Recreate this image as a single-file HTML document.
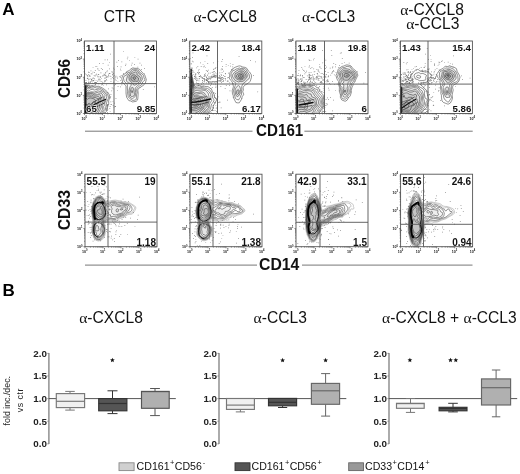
<!DOCTYPE html><html><head><meta charset="utf-8"><style>html,body{margin:0;padding:0;background:#fff;width:520px;height:474px;overflow:hidden}svg{display:block;filter:grayscale(1)}</style></head><body>
<svg width="520" height="474" viewBox="0 0 520 474">
<rect width="520" height="474" fill="#fff"/>
<text x="2.2" y="15" font-family='"Liberation Sans", sans-serif' font-weight="bold" font-size="17" fill="#000">A</text>
<text x="2.6" y="295.8" font-family='"Liberation Sans", sans-serif' font-weight="bold" font-size="17" fill="#000">B</text>
<text x="119.8" y="21.6" text-anchor="middle" font-family='"Liberation Sans", sans-serif' font-size="15.6" fill="#111">CTR</text>
<text x="225.2" y="21.6" text-anchor="middle" font-family='"Liberation Sans", sans-serif' font-size="15.6" fill="#111"><tspan font-family='"Liberation Serif", serif'>α</tspan>-CXCL8</text>
<text x="328.5" y="21.6" text-anchor="middle" font-family='"Liberation Sans", sans-serif' font-size="15.6" fill="#111"><tspan font-family='"Liberation Serif", serif'>α</tspan>-CCL3</text>
<text x="432" y="14.6" text-anchor="middle" font-family='"Liberation Sans", sans-serif' font-size="15.6" fill="#111"><tspan font-family='"Liberation Serif", serif'>α</tspan>-CXCL8</text>
<text x="432.8" y="28.5" text-anchor="middle" font-family='"Liberation Sans", sans-serif' font-size="15.6" fill="#111"><tspan font-family='"Liberation Serif", serif'>α</tspan>-CCL3</text>
<clipPath id="ct0"><rect x="84.5" y="41.0" width="72.0" height="72.5"/></clipPath>
<g clip-path="url(#ct0)" stroke="#111" stroke-width="0.45" stroke-linejoin="round">
<path fill="none" d="M133.5,101.8 132.2,101.9 130.8,101.0 128.8,100.6 126.6,97.2 126.0,93.2 126.0,86.2 125.6,85.5 122.8,82.6 121.8,78.8 121.9,77.8 123.2,74.5 125.2,73.8 126.8,71.6 129.2,70.5 130.8,69.0 132.2,68.1 133.0,67.9 134.8,68.3 137.2,68.3 139.5,69.3 144.8,75.2 146.3,79.5 145.4,83.0 144.0,84.8 138.0,89.0 137.8,90.0 138.2,93.2 137.8,99.0 137.4,100.2 136.2,101.3 133.5,101.8Z M103.8,113.5 85.5,113.7 84.5,113.7 84.3,113.5 84.4,88.8 84.5,87.2 85.6,85.2 86.0,85.2 87.5,86.9 88.2,87.3 95.0,86.1 97.0,86.4 98.8,86.3 102.2,87.9 104.7,89.5 107.2,91.7 108.8,93.8 109.4,95.0 109.6,96.2 109.4,98.5 108.6,101.0 108.7,103.5 107.1,105.5 107.1,107.8 106.2,111.8 105.5,112.5 103.8,113.5Z"/>
<path fill="none" d="M134.0,100.3 132.8,100.4 130.8,99.3 128.0,96.8 128.0,95.0 127.3,93.2 127.7,91.2 127.3,87.0 127.5,85.0 126.8,83.8 124.1,81.2 123.4,78.0 124.2,76.0 126.8,74.9 127.6,72.8 128.0,72.5 130.1,72.2 130.8,71.5 131.5,69.9 133.0,69.2 136.5,69.4 138.8,70.5 139.8,72.5 141.5,73.5 143.5,75.5 144.0,77.8 144.8,79.5 144.5,80.5 142.6,82.0 142.1,84.0 141.6,84.8 139.2,86.2 137.0,88.2 136.6,89.8 137.1,92.8 136.5,94.8 136.3,99.2 135.8,99.9 134.0,100.3Z M102.5,113.5 85.5,113.7 84.5,113.7 84.3,113.5 84.4,89.5 84.5,88.5 85.5,86.9 86.0,86.7 86.5,87.0 87.8,88.8 88.2,89.0 90.2,88.0 93.5,88.0 95.0,87.5 96.8,88.1 99.5,87.8 103.8,90.3 105.5,92.2 107.3,93.5 108.4,96.5 108.3,98.5 106.8,101.8 105.2,110.2 103.8,111.6 102.5,113.5Z"/>
<path fill="none" d="M132.8,98.4 131.2,98.1 129.7,96.8 128.8,93.0 129.4,88.8 130.1,86.8 131.2,85.2 131.2,84.4 130.8,83.7 128.5,83.0 126.5,81.0 126.3,80.0 127.4,76.5 128.7,74.2 130.5,73.2 133.0,70.8 136.0,70.5 137.6,71.2 138.2,72.0 139.0,73.8 140.9,74.8 141.8,76.5 142.5,79.2 139.1,84.5 136.8,86.2 135.3,88.2 135.2,89.0 135.7,92.5 135.3,96.0 134.6,97.2 132.8,98.4Z M101.2,113.5 85.5,113.7 84.5,113.7 84.3,113.5 84.4,92.0 84.5,90.5 85.5,88.5 86.0,88.3 86.2,88.6 87.5,91.0 88.0,91.3 90.8,89.6 92.8,89.4 94.2,90.0 98.2,89.1 99.2,89.1 100.9,90.2 103.8,91.7 106.4,94.5 106.8,96.2 105.9,100.5 104.8,103.0 104.7,105.0 103.6,106.2 104.0,109.5 101.2,113.5Z"/>
<path fill="#000" fill-opacity="0.04" d="M135.0,85.1 134.2,85.2 133.6,85.0 132.3,83.0 130.3,81.2 129.3,79.8 128.9,77.0 129.7,75.2 131.8,73.4 135.8,71.9 136.5,72.2 137.0,72.8 137.1,74.5 137.5,75.2 139.3,76.2 140.7,78.0 140.9,78.8 140.7,79.5 139.2,81.8 137.5,83.6 136.5,84.4 135.0,85.1Z M132.2,96.5 131.2,96.5 130.6,96.0 130.1,92.2 131.2,88.2 131.8,87.5 132.5,87.3 133.0,87.8 133.9,90.0 134.5,94.5 134.0,96.0 132.2,96.5Z M99.5,113.5 85.8,113.7 84.3,113.5 84.3,94.8 84.5,92.1 85.2,91.0 85.8,90.8 87.1,92.2 88.0,92.6 91.2,91.8 94.2,92.1 97.8,90.8 102.5,92.2 105.0,94.8 105.1,95.5 104.6,97.2 104.9,100.5 102.2,105.8 102.5,109.2 101.5,111.2 99.5,113.5Z"/>
<path fill="#000" fill-opacity="0.04" d="M137.0,81.5 135.5,81.1 133.2,81.3 131.5,80.2 130.8,78.8 131.3,76.2 131.8,75.5 133.1,74.8 134.5,74.9 138.4,78.0 138.6,78.8 138.1,80.8 137.7,81.2 137.0,81.5Z M132.2,92.6 132.0,92.7 131.7,92.2 132.0,90.5 132.4,91.0 132.2,92.6Z M97.2,113.5 85.5,113.7 84.3,113.5 84.4,95.2 84.5,93.5 85.2,92.6 85.8,92.5 87.5,93.4 92.0,92.7 94.5,93.5 97.2,92.4 98.8,93.1 101.0,93.0 102.1,94.0 103.3,96.5 103.7,100.2 101.2,105.0 101.2,107.2 100.3,109.5 98.5,112.6 97.2,113.5Z"/>
<path fill="#000" fill-opacity="0.04" d="M135.0,79.4 134.0,79.3 133.1,78.5 132.9,77.8 133.5,77.0 134.5,76.8 135.4,77.5 135.6,78.8 135.0,79.4Z M94.2,113.5 84.4,113.5 84.4,95.8 84.5,94.5 85.2,93.8 86.0,93.7 87.5,94.2 92.0,93.6 94.0,94.8 99.8,94.7 100.5,95.2 100.9,97.0 102.1,99.0 102.0,100.5 99.5,104.5 99.6,107.0 97.6,111.5 94.2,113.5Z"/>
<path fill="#000" fill-opacity="0.04" d="M90.0,113.5 84.4,113.5 84.5,96.0 84.8,95.2 85.5,94.7 87.5,95.3 89.0,95.0 90.5,95.3 91.8,95.0 93.5,96.0 96.8,96.1 99.2,96.9 100.0,97.8 100.5,99.0 100.5,100.0 99.5,101.3 97.4,105.5 97.7,107.8 96.2,110.5 94.2,111.8 92.2,112.3 90.0,113.5Z"/>
<path fill="#000" fill-opacity="0.04" d="M86.0,113.3 85.2,113.3 84.5,112.6 84.4,110.8 84.5,98.0 85.5,96.0 86.2,96.0 87.5,96.8 91.2,96.7 93.8,97.4 95.5,97.5 97.0,98.3 98.8,98.8 99.0,99.5 97.4,103.5 95.5,106.2 95.3,107.5 93.7,109.8 92.5,110.5 90.2,110.8 89.0,111.2 86.0,113.3Z"/>
<path fill="#000" fill-opacity="0.04" d="M86.0,111.6 85.2,111.5 84.5,110.7 84.5,100.5 85.0,98.7 85.8,98.1 87.5,99.2 89.0,98.2 90.8,98.0 94.5,99.0 95.6,100.8 95.7,103.5 95.5,103.8 95.0,103.8 94.1,102.0 93.8,101.8 93.2,101.9 92.0,104.5 91.6,106.8 91.8,108.5 87.5,110.2 86.0,111.6Z"/>
<path fill="#000" fill-opacity="0.04" d="M86.2,109.1 85.3,109.0 84.5,108.0 84.5,106.0 84.9,105.0 85.5,104.3 86.0,104.1 87.2,104.9 88.4,103.5 89.5,103.3 89.7,103.5 88.5,105.3 87.2,105.6 87.7,107.8 86.2,109.1Z"/>
</g><g clip-path="url(#ct0)">
<path fill="#666" d="M88.4,87.2h.7v.7h-.7z M113.3,75.8h.7v.7h-.7z M86.2,82.2h.7v.7h-.7z M90.1,86.9h.7v.7h-.7z M111.1,104.3h.7v.7h-.7z M110.4,96.5h.7v.7h-.7z M101.2,78.4h.7v.7h-.7z M93.7,83.0h.7v.7h-.7z M112.6,100.9h.7v.7h-.7z M109.5,108.0h.7v.7h-.7z M104.4,74.8h.7v.7h-.7z M88.8,72.1h.7v.7h-.7z M107.1,110.1h.7v.7h-.7z M98.7,77.9h.7v.7h-.7z M100.9,68.1h.7v.7h-.7z M84.7,82.3h.7v.7h-.7z M87.5,78.3h.7v.7h-.7z M121.5,84.6h.7v.7h-.7z M92.7,67.4h.7v.7h-.7z M107.0,108.0h.7v.7h-.7z M89.3,85.2h.7v.7h-.7z M84.7,84.6h.7v.7h-.7z M120.8,75.0h.7v.7h-.7z M110.5,101.5h.7v.7h-.7z M103.7,112.5h.7v.7h-.7z M102.1,82.9h.7v.7h-.7z M88.8,87.3h.7v.7h-.7z M110.6,104.2h.7v.7h-.7z M99.1,63.0h.7v.7h-.7z M86.1,82.0h.7v.7h-.7z M106.9,70.6h.7v.7h-.7z M92.1,85.0h.7v.7h-.7z M87.5,84.8h.7v.7h-.7z M86.9,78.1h.7v.7h-.7z M114.1,102.8h.7v.7h-.7z M116.5,61.8h.7v.7h-.7z M105.2,72.0h.7v.7h-.7z M115.0,76.7h.7v.7h-.7z M97.5,68.0h.7v.7h-.7z M107.5,104.4h.7v.7h-.7z M111.5,71.5h.7v.7h-.7z M107.4,105.2h.7v.7h-.7z M107.5,109.4h.7v.7h-.7z M113.4,67.7h.7v.7h-.7z M84.7,74.4h.7v.7h-.7z M93.0,85.7h.7v.7h-.7z M109.7,97.8h.7v.7h-.7z M93.8,84.8h.7v.7h-.7z M99.8,80.8h.7v.7h-.7z M102.7,63.0h.7v.7h-.7z M113.9,68.9h.7v.7h-.7z M122.1,82.4h.7v.7h-.7z M90.5,81.2h.7v.7h-.7z M111.8,87.5h.7v.7h-.7z M107.0,112.0h.7v.7h-.7z M107.1,76.6h.7v.7h-.7z M89.5,75.0h.7v.7h-.7z M94.7,75.9h.7v.7h-.7z M101.5,81.0h.7v.7h-.7z M109.8,110.9h.7v.7h-.7z M88.6,84.0h.7v.7h-.7z M106.0,84.5h.7v.7h-.7z M95.1,84.5h.7v.7h-.7z M115.6,98.2h.7v.7h-.7z M91.7,79.9h.7v.7h-.7z M106.9,104.9h.7v.7h-.7z M112.8,88.5h.7v.7h-.7z M86.8,75.2h.7v.7h-.7z M106.2,108.5h.7v.7h-.7z M107.4,92.2h.7v.7h-.7z M102.3,84.2h.7v.7h-.7z M90.6,70.5h.7v.7h-.7z M107.1,107.8h.7v.7h-.7z M107.9,105.5h.7v.7h-.7z M111.4,90.6h.7v.7h-.7z M87.2,86.3h.7v.7h-.7z M106.8,109.6h.7v.7h-.7z M87.6,85.3h.7v.7h-.7z M89.9,82.0h.7v.7h-.7z M110.6,94.2h.7v.7h-.7z M104.7,59.6h.7v.7h-.7z M85.6,85.6h.7v.7h-.7z M88.1,71.7h.7v.7h-.7z M114.2,84.8h.7v.7h-.7z M108.4,104.2h.7v.7h-.7z M104.7,112.1h.7v.7h-.7z M93.9,78.6h.7v.7h-.7z M86.2,84.6h.7v.7h-.7z M108.0,105.5h.7v.7h-.7z M115.0,76.7h.7v.7h-.7z M87.7,87.4h.7v.7h-.7z M117.6,80.9h.7v.7h-.7z M90.7,85.3h.7v.7h-.7z M85.3,84.4h.7v.7h-.7z M88.8,78.8h.7v.7h-.7z M88.1,87.2h.7v.7h-.7z M107.5,103.9h.7v.7h-.7z M112.8,105.0h.7v.7h-.7z M92.6,71.8h.7v.7h-.7z M108.0,88.5h.7v.7h-.7z M85.2,84.8h.7v.7h-.7z M120.6,69.9h.7v.7h-.7z M110.0,96.8h.7v.7h-.7z M113.6,106.7h.7v.7h-.7z M88.0,87.3h.7v.7h-.7z M104.0,74.5h.7v.7h-.7z M115.3,106.1h.7v.7h-.7z M114.7,106.1h.7v.7h-.7z M115.6,75.8h.7v.7h-.7z M95.1,65.9h.7v.7h-.7z M105.2,75.3h.7v.7h-.7z M91.6,85.3h.7v.7h-.7z M97.6,68.9h.7v.7h-.7z M107.2,105.6h.7v.7h-.7z M85.4,84.3h.7v.7h-.7z M107.5,104.3h.7v.7h-.7z M85.3,81.9h.7v.7h-.7z M96.1,82.2h.7v.7h-.7z M109.8,106.3h.7v.7h-.7z M110.6,81.1h.7v.7h-.7z M90.0,85.8h.7v.7h-.7z M84.8,83.1h.7v.7h-.7z M85.7,82.8h.7v.7h-.7z M86.7,84.4h.7v.7h-.7z M102.2,69.2h.7v.7h-.7z M95.2,74.7h.7v.7h-.7z M88.1,81.8h.7v.7h-.7z M112.4,71.7h.7v.7h-.7z M89.4,85.7h.7v.7h-.7z M96.5,66.0h.7v.7h-.7z M94.2,72.3h.7v.7h-.7z M86.3,84.4h.7v.7h-.7z M109.1,62.4h.7v.7h-.7z M98.5,83.5h.7v.7h-.7z M107.0,106.5h.7v.7h-.7z M86.3,84.9h.7v.7h-.7z M107.8,64.7h.7v.7h-.7z M88.8,86.4h.7v.7h-.7z M107.1,106.8h.7v.7h-.7z M92.7,80.5h.7v.7h-.7z M100.6,72.6h.7v.7h-.7z M88.4,82.8h.7v.7h-.7z M103.6,73.8h.7v.7h-.7z M98.1,74.1h.7v.7h-.7z M86.5,85.8h.7v.7h-.7z M88.4,85.3h.7v.7h-.7z M87.1,85.3h.7v.7h-.7z M107.1,109.4h.7v.7h-.7z M87.4,86.3h.7v.7h-.7z M107.3,105.5h.7v.7h-.7z M89.3,75.8h.7v.7h-.7z M112.5,73.8h.7v.7h-.7z M93.8,75.1h.7v.7h-.7z M102.5,75.5h.7v.7h-.7z M93.8,78.2h.7v.7h-.7z M100.0,77.0h.7v.7h-.7z M97.7,80.5h.7v.7h-.7z M109.7,75.8h.7v.7h-.7z M105.9,75.7h.7v.7h-.7z M106.5,80.4h.7v.7h-.7z M100.5,72.5h.7v.7h-.7z M96.3,73.8h.7v.7h-.7z M108.0,73.7h.7v.7h-.7z M103.7,83.4h.7v.7h-.7z M102.8,75.1h.7v.7h-.7z M90.8,73.5h.7v.7h-.7z M102.5,82.3h.7v.7h-.7z M120.4,80.0h.7v.7h-.7z M94.9,82.1h.7v.7h-.7z M92.5,78.0h.7v.7h-.7z M106.1,76.7h.7v.7h-.7z M93.6,83.1h.7v.7h-.7z M105.4,77.7h.7v.7h-.7z M110.6,76.4h.7v.7h-.7z M90.5,78.6h.7v.7h-.7z M105.0,80.2h.7v.7h-.7z M91.5,80.3h.7v.7h-.7z M104.2,77.8h.7v.7h-.7z M97.0,81.4h.7v.7h-.7z M107.8,76.6h.7v.7h-.7z M105.3,73.5h.7v.7h-.7z M97.6,76.6h.7v.7h-.7z M104.5,80.2h.7v.7h-.7z M113.2,81.7h.7v.7h-.7z M117.7,86.2h.7v.7h-.7z M91.6,81.4h.7v.7h-.7z M98.5,74.4h.7v.7h-.7z M93.1,80.1h.7v.7h-.7z M109.6,73.2h.7v.7h-.7z M107.9,76.6h.7v.7h-.7z M101.0,84.5h.7v.7h-.7z M88.7,81.7h.7v.7h-.7z M98.7,76.5h.7v.7h-.7z M95.7,79.9h.7v.7h-.7z M106.1,79.0h.7v.7h-.7z M91.5,79.0h.7v.7h-.7z M95.7,82.6h.7v.7h-.7z M99.4,79.5h.7v.7h-.7z M115.7,80.2h.7v.7h-.7z M105.7,77.3h.7v.7h-.7z M114.2,74.9h.7v.7h-.7z M108.0,75.3h.7v.7h-.7z M112.0,74.6h.7v.7h-.7z M115.1,84.2h.7v.7h-.7z M95.1,84.1h.7v.7h-.7z M113.0,78.3h.7v.7h-.7z M94.9,70.3h.7v.7h-.7z M88.3,79.6h.7v.7h-.7z M86.0,73.9h.7v.7h-.7z M87.5,76.6h.7v.7h-.7z M89.7,76.1h.7v.7h-.7z M117.0,78.4h.7v.7h-.7z M91.1,79.3h.7v.7h-.7z M87.5,75.5h.7v.7h-.7z M112.2,77.2h.7v.7h-.7z M88.4,74.0h.7v.7h-.7z M84.8,72.9h.7v.7h-.7z M97.5,76.3h.7v.7h-.7z M92.1,82.7h.7v.7h-.7z M104.1,81.5h.7v.7h-.7z M102.5,75.7h.7v.7h-.7z M115.2,78.7h.7v.7h-.7z M92.8,77.6h.7v.7h-.7z M119.5,76.1h.7v.7h-.7z M99.7,79.2h.7v.7h-.7z M116.8,76.8h.7v.7h-.7z M109.0,73.1h.7v.7h-.7z M94.0,82.2h.7v.7h-.7z M104.8,81.1h.7v.7h-.7z M91.7,73.6h.7v.7h-.7z M105.6,75.5h.7v.7h-.7z M95.1,82.2h.7v.7h-.7z M98.4,79.3h.7v.7h-.7z M96.4,82.8h.7v.7h-.7z M119.9,76.4h.7v.7h-.7z M90.3,81.5h.7v.7h-.7z M85.6,80.0h.7v.7h-.7z M113.0,73.3h.7v.7h-.7z M100.4,76.2h.7v.7h-.7z M93.6,80.4h.7v.7h-.7z M123.0,73.0h.7v.7h-.7z M134.5,56.9h.7v.7h-.7z M125.1,65.2h.7v.7h-.7z M117.3,66.2h.7v.7h-.7z M118.2,60.1h.7v.7h-.7z M141.1,69.3h.7v.7h-.7z M121.3,82.3h.7v.7h-.7z M142.9,89.2h.7v.7h-.7z M110.0,53.8h.7v.7h-.7z M102.9,85.4h.7v.7h-.7z M106.5,71.5h.7v.7h-.7z M117.2,90.4h.7v.7h-.7z M119.9,77.0h.7v.7h-.7z M141.3,64.7h.7v.7h-.7z M129.3,59.9h.7v.7h-.7z M120.0,86.6h.7v.7h-.7z M139.6,87.3h.7v.7h-.7z M120.1,68.8h.7v.7h-.7z M144.3,73.5h.7v.7h-.7z M110.7,78.6h.7v.7h-.7z M134.1,64.0h.7v.7h-.7z M125.9,71.8h.7v.7h-.7z M96.7,74.7h.7v.7h-.7z M123.1,51.4h.7v.7h-.7z M144.2,68.2h.7v.7h-.7z M131.8,62.7h.7v.7h-.7z M107.2,59.5h.7v.7h-.7z M109.0,68.6h.7v.7h-.7z M125.6,63.7h.7v.7h-.7z M131.1,64.7h.7v.7h-.7z M139.6,62.7h.7v.7h-.7z M154.0,86.5h.7v.7h-.7z M137.5,66.7h.7v.7h-.7z M126.0,72.2h.7v.7h-.7z M98.7,70.2h.7v.7h-.7z M137.7,58.7h.7v.7h-.7z M121.5,61.6h.7v.7h-.7z M127.5,56.8h.7v.7h-.7z M126.9,58.5h.7v.7h-.7z M120.7,66.5h.7v.7h-.7z"/>
<g transform="translate(84.5,41.0)" fill="none" stroke-linecap="round"><radialGradient id="rg0"><stop offset="0" stop-color="#000" stop-opacity="0.28"/><stop offset="0.6" stop-color="#000" stop-opacity="0.12"/><stop offset="1" stop-color="#000" stop-opacity="0"/></radialGradient><ellipse cx="49.5" cy="37" rx="10" ry="8.5" fill="url(#rg0)" stroke="none"/><ellipse cx="47.5" cy="50" rx="5" ry="7" fill="url(#rg0)" stroke="none" opacity="0.6"/><path d="M1.3,45 L1.3,72" stroke="#000" stroke-width="1.3"/><path d="M1.5,70 Q8,63 21,58.5" stroke="#111" stroke-width="1.3"/><path d="M1.5,67.5 Q8,60.5 18,56" stroke="#333" stroke-width="0.7"/><path d="M2,72 Q10,66 20,62" stroke="#333" stroke-width="0.7"/></g>
</g>
<clipPath id="cb0"><rect x="85.0" y="174.2" width="72.0" height="72.5"/></clipPath>
<g clip-path="url(#cb0)" stroke="#111" stroke-width="0.45" stroke-linejoin="round">
<path fill="none" stroke="#888" d="M98.8,241.0 97.8,240.9 95.8,240.1 93.9,238.4 92.2,232.9 91.8,230.9 92.2,224.2 92.7,221.7 91.5,211.7 91.6,207.7 93.1,201.9 95.7,197.7 98.0,195.9 99.8,195.7 102.6,196.9 105.8,200.5 106.8,201.1 108.8,201.2 113.0,200.3 115.5,200.1 119.5,200.8 122.0,201.7 125.8,201.9 130.0,203.0 134.8,206.0 135.7,207.2 135.8,208.4 134.8,210.7 132.5,213.9 131.2,214.3 129.0,214.4 127.5,214.8 125.5,216.3 122.5,217.8 119.7,218.7 117.4,220.7 116.0,221.4 115.0,221.5 112.8,220.8 110.5,220.8 107.5,221.1 105.5,222.1 105.0,222.8 104.8,223.7 105.4,228.4 105.2,233.2 104.7,235.9 103.3,238.4 102.2,239.6 98.8,241.0Z"/>
<path fill="none" stroke="#888" d="M99.5,240.2 98.2,240.4 97.2,240.2 95.8,239.6 94.7,238.7 93.8,236.9 92.6,233.2 92.3,231.2 92.7,224.7 93.4,221.7 92.6,217.7 91.9,211.4 91.9,207.7 93.5,201.9 95.4,198.7 96.6,197.4 97.8,196.6 98.8,196.2 100.0,196.3 101.5,196.8 102.8,197.7 105.8,201.5 107.0,202.3 109.0,202.3 111.5,201.2 114.2,200.9 119.2,201.6 122.0,202.4 125.2,202.6 129.5,203.8 132.8,205.7 134.3,206.9 134.8,207.6 134.7,208.2 132.0,213.0 129.2,213.3 127.2,213.9 125.0,215.8 122.0,217.2 120.2,217.4 119.2,217.9 116.2,220.5 115.2,220.6 110.5,219.6 107.2,220.2 105.0,221.4 104.4,222.4 104.2,223.4 104.9,228.4 104.6,230.9 104.7,233.2 104.3,235.4 102.1,238.9 101.2,239.6 99.5,240.2Z"/>
<path fill="none" d="M99.0,239.7 96.5,239.3 95.1,238.2 93.1,233.4 92.8,231.2 93.2,225.2 94.0,221.9 93.0,217.4 92.2,211.4 92.3,207.7 93.9,202.2 95.7,199.2 96.7,197.9 97.8,197.2 98.8,196.9 100.2,196.9 101.5,197.3 103.7,199.4 106.0,202.8 107.0,203.6 109.2,203.2 111.5,202.0 115.0,201.7 117.5,202.7 120.0,202.7 128.2,204.3 129.3,204.7 131.1,206.2 131.7,207.2 132.1,209.2 131.4,210.9 130.5,211.8 127.0,212.8 124.8,214.9 119.8,216.7 117.0,218.4 115.8,219.6 115.0,219.7 110.8,218.7 109.0,219.1 107.5,219.1 104.5,220.9 103.5,223.2 104.3,228.7 103.8,230.7 104.0,232.9 103.6,235.4 101.0,238.9 99.0,239.7Z"/>
<path fill="none" d="M99.2,239.0 96.8,238.5 95.5,237.5 93.6,233.4 93.3,230.9 93.5,226.4 94.6,221.7 94.4,219.7 93.5,217.2 92.6,211.4 92.6,207.9 94.1,202.7 96.7,198.7 97.5,197.9 98.5,197.5 100.2,197.5 101.5,197.9 103.8,200.2 106.2,204.3 107.2,205.0 108.0,205.0 109.8,204.2 111.5,202.9 114.8,202.6 117.8,204.1 118.8,204.2 121.0,203.8 122.8,204.3 127.6,204.9 129.0,205.7 129.9,206.7 130.1,207.4 129.0,210.3 126.0,212.2 124.2,214.0 118.8,216.2 115.0,218.5 112.8,218.4 111.0,217.9 109.0,218.0 107.5,217.7 106.5,218.2 104.3,220.2 103.2,221.9 102.9,223.2 103.4,228.4 102.9,230.4 103.3,232.7 102.9,234.7 102.6,235.4 101.2,236.9 100.3,238.4 99.2,239.0Z"/>
<path fill="#000" fill-opacity="0.035" d="M99.0,237.7 97.0,237.3 96.0,236.5 94.4,233.4 93.8,230.4 94.0,226.7 95.3,222.7 95.4,221.7 95.3,220.2 94.1,217.2 92.9,211.4 93.0,207.9 94.3,203.2 97.0,199.2 97.8,198.5 98.8,198.1 100.2,198.1 101.2,198.5 103.5,200.7 105.8,204.7 107.5,206.8 108.8,206.4 111.8,204.3 114.5,203.6 116.4,204.7 118.0,205.2 120.0,205.4 121.8,205.8 123.5,205.6 126.0,205.7 127.5,206.2 127.9,206.9 127.0,210.2 124.8,211.7 123.5,213.2 122.2,213.8 118.0,215.4 116.4,216.4 115.0,216.9 113.0,216.2 112.0,216.7 110.5,216.4 110.2,216.2 110.7,214.9 110.2,214.6 107.2,215.4 106.8,216.7 104.0,219.5 102.3,222.4 102.2,223.4 102.5,225.9 102.0,229.7 102.5,232.2 102.5,233.2 101.8,234.9 99.5,237.5 99.0,237.7Z"/>
<path fill="#000" fill-opacity="0.035" d="M98.8,235.7 97.8,235.9 96.9,235.4 96.3,234.2 96.5,232.7 95.0,231.9 94.4,230.7 94.9,226.2 95.5,224.6 96.7,222.9 96.9,221.7 96.6,220.2 94.8,217.2 93.2,210.4 93.6,207.2 94.8,203.4 97.8,199.5 98.8,198.9 99.8,198.7 100.8,199.1 103.4,201.4 105.9,206.2 106.0,208.7 107.4,211.9 108.9,212.9 108.5,213.4 107.2,213.2 106.2,213.9 105.5,216.7 103.5,218.9 101.6,222.2 101.3,223.4 101.7,225.7 100.7,228.9 100.8,230.7 101.2,232.2 98.8,235.7Z M115.8,215.0 114.8,214.9 113.0,214.1 111.7,212.7 111.5,210.4 112.2,208.9 111.2,207.2 111.2,206.4 111.5,205.9 114.2,204.9 116.2,206.1 118.5,206.6 120.2,206.6 121.8,207.3 124.5,206.8 125.8,207.0 126.1,208.9 125.7,209.9 123.8,210.7 122.7,212.2 121.5,213.1 115.8,215.0Z M109.5,210.0 109.0,209.8 109.0,209.4 109.5,208.9 109.9,208.9 110.1,209.4 109.5,210.0Z"/>
<path fill="#000" fill-opacity="0.035" d="M99.8,221.7 99.0,221.7 98.2,221.3 97.2,219.4 95.8,217.7 93.6,210.4 94.0,207.4 94.8,205.3 96.9,202.7 98.0,200.6 98.8,200.0 99.5,199.8 102.8,201.7 105.0,205.7 105.3,206.7 105.3,209.4 106.0,211.9 104.6,216.7 101.8,220.4 99.8,221.7Z M117.8,212.0 116.7,211.9 116.0,210.9 116.3,209.4 117.2,208.8 118.0,208.9 118.5,209.4 118.3,211.2 117.8,212.0Z M121.5,210.0 120.4,209.9 120.2,209.4 120.4,208.9 121.5,208.7 123.2,208.9 122.7,209.4 121.5,210.0Z M98.2,230.8 96.0,230.9 95.5,230.7 95.2,230.2 95.8,226.7 96.2,225.8 96.8,225.5 97.8,225.8 98.5,226.7 98.5,227.7 99.0,229.4 98.8,230.3 98.2,230.8Z"/>
<path fill="#000" fill-opacity="0.035" d="M99.5,220.3 98.8,220.1 96.2,216.8 94.1,210.4 94.5,207.7 94.9,206.4 97.5,203.9 98.5,201.8 99.2,201.3 100.5,202.2 102.0,202.5 102.8,204.3 104.4,206.2 105.0,212.4 104.3,215.4 103.8,216.7 101.5,219.3 99.5,220.3Z"/>
<path fill="#000" fill-opacity="0.035" d="M101.0,218.3 99.2,218.2 97.0,216.1 96.0,214.4 94.8,210.7 95.0,208.2 95.5,207.0 97.0,205.7 99.5,204.1 100.8,204.5 103.0,206.2 103.6,206.9 103.8,207.9 104.0,212.7 103.7,215.2 102.9,216.7 101.0,218.3Z"/>
<path fill="#000" fill-opacity="0.035" d="M101.2,216.8 100.2,216.7 97.5,214.9 96.4,213.2 95.8,211.2 95.7,209.2 96.1,207.9 97.5,206.6 99.2,205.8 101.8,206.6 102.6,207.9 103.1,211.4 103.0,214.7 102.5,215.8 101.2,216.8Z"/>
<path fill="#000" fill-opacity="0.035" d="M101.8,214.5 101.2,214.7 100.2,214.1 99.1,213.9 97.2,211.4 97.5,209.9 99.2,209.7 99.8,208.9 100.0,207.7 100.2,207.5 100.8,207.7 101.1,209.2 102.1,211.2 102.0,213.9 101.8,214.5Z"/>
</g><g clip-path="url(#cb0)">
<path fill="#666" d="M90.8,210.6h.7v.7h-.7z M90.7,199.7h.7v.7h-.7z M90.6,202.5h.7v.7h-.7z M114.4,223.1h.7v.7h-.7z M104.4,193.5h.7v.7h-.7z M89.8,232.3h.7v.7h-.7z M90.3,210.9h.7v.7h-.7z M93.7,194.5h.7v.7h-.7z M101.5,196.1h.7v.7h-.7z M88.3,220.7h.7v.7h-.7z M88.6,203.9h.7v.7h-.7z M88.2,221.6h.7v.7h-.7z M108.7,223.1h.7v.7h-.7z M91.6,186.1h.7v.7h-.7z M123.1,217.4h.7v.7h-.7z M89.7,209.3h.7v.7h-.7z M106.0,229.0h.7v.7h-.7z M105.0,221.6h.7v.7h-.7z M96.6,190.4h.7v.7h-.7z M109.0,190.1h.7v.7h-.7z M107.3,220.6h.7v.7h-.7z M97.9,190.3h.7v.7h-.7z M107.1,200.3h.7v.7h-.7z M104.6,225.3h.7v.7h-.7z M106.7,201.1h.7v.7h-.7z M102.4,194.0h.7v.7h-.7z M95.7,196.7h.7v.7h-.7z M113.1,222.6h.7v.7h-.7z M86.7,214.9h.7v.7h-.7z M103.8,189.6h.7v.7h-.7z M88.0,221.6h.7v.7h-.7z M106.8,196.4h.7v.7h-.7z M92.0,194.0h.7v.7h-.7z M128.0,201.3h.7v.7h-.7z M125.4,217.0h.7v.7h-.7z M137.8,214.7h.7v.7h-.7z M94.0,239.6h.7v.7h-.7z M93.0,198.6h.7v.7h-.7z M90.9,213.4h.7v.7h-.7z M91.8,226.8h.7v.7h-.7z M91.3,194.6h.7v.7h-.7z M103.1,193.5h.7v.7h-.7z M89.0,214.5h.7v.7h-.7z M88.2,210.4h.7v.7h-.7z M95.1,192.5h.7v.7h-.7z M99.9,192.7h.7v.7h-.7z M130.0,217.7h.7v.7h-.7z M110.7,223.8h.7v.7h-.7z M104.1,237.2h.7v.7h-.7z M108.5,196.7h.7v.7h-.7z M98.1,188.8h.7v.7h-.7z M133.0,212.2h.7v.7h-.7z M105.6,197.9h.7v.7h-.7z M90.0,232.8h.7v.7h-.7z M121.5,226.2h.7v.7h-.7z M101.2,193.9h.7v.7h-.7z M90.8,227.4h.7v.7h-.7z M100.1,195.3h.7v.7h-.7z M124.7,201.4h.7v.7h-.7z M108.7,236.6h.7v.7h-.7z M102.0,193.8h.7v.7h-.7z M87.8,232.3h.7v.7h-.7z M110.7,228.1h.7v.7h-.7z M100.9,191.7h.7v.7h-.7z M92.7,240.7h.7v.7h-.7z M85.5,204.9h.7v.7h-.7z M91.3,206.1h.7v.7h-.7z M90.6,201.8h.7v.7h-.7z M93.7,198.2h.7v.7h-.7z M87.4,201.2h.7v.7h-.7z M115.1,224.1h.7v.7h-.7z M139.2,196.8h.7v.7h-.7z M87.8,223.9h.7v.7h-.7z M92.1,223.4h.7v.7h-.7z M87.7,206.0h.7v.7h-.7z M120.7,200.6h.7v.7h-.7z M97.6,186.0h.7v.7h-.7z M99.6,191.7h.7v.7h-.7z M134.6,225.9h.7v.7h-.7z M85.6,210.3h.7v.7h-.7z M111.0,235.8h.7v.7h-.7z M113.9,238.0h.7v.7h-.7z M119.1,223.5h.7v.7h-.7z M122.7,198.7h.7v.7h-.7z M91.1,231.8h.7v.7h-.7z M118.4,225.8h.7v.7h-.7z M85.9,192.4h.7v.7h-.7z M90.0,237.3h.7v.7h-.7z M89.9,191.9h.7v.7h-.7z M90.7,228.9h.7v.7h-.7z M90.9,235.2h.7v.7h-.7z M121.7,219.0h.7v.7h-.7z M127.3,234.4h.7v.7h-.7z M119.5,225.9h.7v.7h-.7z M106.8,229.5h.7v.7h-.7z M116.3,230.4h.7v.7h-.7z M91.1,231.9h.7v.7h-.7z M112.3,220.8h.7v.7h-.7z M88.7,223.0h.7v.7h-.7z M88.4,215.0h.7v.7h-.7z M91.2,222.9h.7v.7h-.7z M118.9,220.7h.7v.7h-.7z M124.5,225.3h.7v.7h-.7z M100.1,240.6h.7v.7h-.7z M107.4,231.9h.7v.7h-.7z M110.8,237.7h.7v.7h-.7z M106.4,231.0h.7v.7h-.7z M110.2,197.6h.7v.7h-.7z M117.4,220.2h.7v.7h-.7z M115.5,234.0h.7v.7h-.7z M110.0,231.5h.7v.7h-.7z M107.7,236.6h.7v.7h-.7z M115.7,225.6h.7v.7h-.7z M119.1,236.3h.7v.7h-.7z M114.1,241.2h.7v.7h-.7z M126.9,223.0h.7v.7h-.7z M120.5,234.1h.7v.7h-.7z M90.3,216.3h.7v.7h-.7z M107.4,224.3h.7v.7h-.7z M85.6,209.4h.7v.7h-.7z M115.6,231.5h.7v.7h-.7z M105.9,186.6h.7v.7h-.7z M89.1,217.7h.7v.7h-.7z M109.2,231.0h.7v.7h-.7z M103.7,184.9h.7v.7h-.7z M137.3,219.3h.7v.7h-.7z M87.9,223.8h.7v.7h-.7z M112.4,239.6h.7v.7h-.7z M108.7,224.1h.7v.7h-.7z M89.7,227.0h.7v.7h-.7z"/>
<g transform="translate(85.0,174.2)" fill="none" stroke-linecap="round"><path d="M15.5,28.5 C16.7,29.1 18.2,30.6 19.0,32.5 C19.8,34.4 21.0,37.9 20.5,40.0 C20.0,42.1 17.6,44.2 16.0,45.0 C14.4,45.8 12.1,45.5 11.0,44.5 C9.9,43.5 9.6,41.1 9.3,39.0 C9.1,36.9 9.1,33.7 9.5,32.0 C9.9,30.3 11.0,29.6 12.0,29.0 C13.0,28.4 14.3,27.9 15.5,28.5Z" stroke="#000" stroke-width="0.8"/><path d="M18.0,29.5 C18.8,26.8 16.1,28.3 15.0,28.3 C13.9,28.3 12.4,28.7 11.5,29.5 C10.6,30.3 9.9,31.4 9.5,33.0 C9.1,34.6 9.0,37.1 9.2,39.0 C9.4,40.9 9.0,46.1 10.5,44.5" stroke="#000" stroke-width="1.7"/><path d="M13.5,48.5 C14.8,48.8 17.0,49.6 18.0,51.0 C19.0,52.4 20.1,55.1 19.5,57.0 C18.9,58.9 16.1,61.9 14.5,62.5 C12.9,63.1 10.9,61.9 10.0,60.5 C9.1,59.1 8.7,55.8 8.8,54.0 C8.9,52.2 9.7,50.4 10.5,49.5 C11.3,48.6 12.2,48.2 13.5,48.5Z" stroke="#222" stroke-width="0.6"/><path d="M10.5,49.5 C9.8,48.1 9.0,52.2 8.8,54.0 C8.6,55.8 8.8,58.6 9.5,60.0 C10.2,61.4 12.8,64.2 13.0,62.5" stroke="#111" stroke-width="1.0"/></g>
</g>
<clipPath id="ct1"><rect x="189.8" y="41.0" width="72.0" height="72.5"/></clipPath>
<g clip-path="url(#ct1)" stroke="#111" stroke-width="0.45" stroke-linejoin="round">
<path fill="none" d="M239.3,102.8 237.8,102.9 235.9,102.5 233.4,97.5 233.3,95.8 232.5,93.8 232.2,90.8 233.4,86.8 233.0,84.0 231.8,81.2 230.2,79.8 229.2,77.8 229.7,76.0 229.7,73.8 230.1,72.4 232.6,68.8 235.1,67.3 238.3,66.1 239.6,65.9 241.1,66.2 242.6,67.0 245.3,67.4 247.1,68.6 248.2,70.8 249.6,72.0 251.2,74.5 251.5,76.0 251.4,77.5 250.3,81.1 248.3,83.2 245.3,84.8 243.3,86.9 243.1,87.8 243.4,89.8 242.7,91.8 243.6,93.8 243.6,94.8 242.3,96.5 241.4,99.5 239.3,102.8Z M206.8,113.5 190.6,113.7 189.6,113.5 189.7,78.2 189.8,76.2 191.1,72.9 191.7,73.5 193.6,83.9 194.3,85.9 195.3,86.2 199.6,85.4 202.1,86.5 204.6,86.2 206.1,86.6 207.6,86.5 208.3,86.8 211.5,89.2 212.5,91.8 214.5,95.0 214.4,97.5 216.5,99.5 216.5,100.2 213.2,106.0 213.1,107.0 213.5,108.2 213.4,108.8 210.7,111.2 206.8,113.5Z M212.8,81.8 211.6,81.9 208.8,81.7 207.0,80.8 206.6,80.2 206.6,79.5 207.3,78.5 208.1,78.1 210.1,78.4 211.6,77.8 212.8,76.9 215.1,77.1 216.6,76.8 220.6,78.7 222.1,77.4 223.2,77.8 223.9,78.5 223.4,79.0 221.6,79.6 220.6,81.0 219.3,80.6 216.1,81.6 212.8,81.8Z"/>
<path fill="none" d="M238.6,100.0 236.3,99.2 235.5,98.5 234.1,93.8 233.5,90.5 235.8,83.8 235.8,83.0 235.4,82.5 233.6,81.5 231.9,79.2 231.0,76.2 231.1,73.8 232.6,70.7 234.3,70.3 236.1,69.0 237.3,68.8 239.3,67.9 240.8,68.7 243.6,68.3 244.8,68.7 245.8,69.2 246.4,70.0 247.3,72.2 249.0,74.2 249.6,76.8 249.3,78.0 248.8,78.9 247.6,79.6 245.6,81.8 243.2,83.5 242.5,84.5 241.6,87.0 241.9,89.2 241.3,91.8 241.7,94.2 240.9,95.5 240.3,97.5 239.4,98.5 238.6,100.0Z M204.1,113.5 190.3,113.7 189.6,113.5 189.6,82.2 189.8,78.1 190.3,76.5 190.8,75.9 191.3,76.0 192.1,77.5 193.6,86.0 194.2,87.5 195.3,87.8 197.3,87.3 200.1,87.1 202.3,87.7 207.6,88.4 210.6,90.8 212.6,94.8 212.5,97.5 213.8,99.5 213.9,100.5 213.1,102.5 211.5,104.0 210.5,109.0 208.8,111.1 204.1,113.5Z"/>
<path fill="none" d="M238.6,82.0 235.1,80.5 232.6,76.8 232.4,75.8 232.6,74.8 234.3,72.5 236.1,71.1 238.6,69.7 239.3,69.6 241.3,70.0 243.6,69.6 245.2,71.0 247.1,74.5 247.3,75.5 247.1,77.0 243.7,81.0 241.8,81.6 240.1,81.4 238.6,82.0Z M203.1,113.5 190.3,113.7 189.6,113.5 189.7,82.8 190.0,79.2 190.8,77.5 191.3,77.5 191.8,78.5 192.9,83.5 193.3,87.1 193.8,88.5 194.6,88.8 197.1,88.9 200.6,88.6 206.1,89.5 209.4,92.0 210.9,94.8 210.9,98.5 211.7,100.8 210.6,102.0 209.5,104.2 209.1,108.5 208.1,109.8 205.1,111.7 203.1,113.5Z M237.6,96.6 236.8,96.4 235.5,94.2 235.0,90.0 235.6,88.5 237.1,86.3 238.3,85.5 239.6,86.2 240.7,89.8 240.1,91.5 240.0,93.8 238.7,95.8 237.6,96.6Z"/>
<path fill="#000" fill-opacity="0.04" d="M239.6,80.0 238.3,79.8 236.3,78.7 235.3,77.8 234.8,76.2 235.1,74.0 235.7,73.2 237.3,72.8 239.1,71.2 243.3,71.2 244.0,71.8 244.8,73.5 245.9,75.0 245.9,76.5 242.8,79.6 241.6,79.9 239.6,80.0Z M202.3,113.5 190.6,113.7 189.6,113.5 189.7,83.0 190.6,79.8 191.1,79.1 191.6,79.7 192.2,81.8 193.1,88.2 193.8,89.9 195.6,90.5 201.8,90.0 205.3,90.5 207.5,92.5 208.2,93.5 208.9,96.0 209.4,99.8 209.1,102.0 208.1,104.5 208.3,107.8 207.8,108.6 204.6,111.0 202.3,113.5Z M237.6,94.5 237.1,94.4 236.6,93.8 236.7,91.0 237.3,90.0 238.3,89.8 238.9,90.0 239.1,90.5 238.8,93.0 238.4,94.0 237.6,94.5Z"/>
<path fill="#000" fill-opacity="0.04" d="M242.1,78.8 240.1,78.9 237.6,78.0 236.3,76.9 236.3,75.7 237.3,74.6 239.1,73.5 241.1,72.8 242.6,72.9 243.7,74.5 244.1,76.0 243.1,77.9 242.1,78.8Z M200.8,113.5 190.6,113.7 189.6,113.5 189.6,94.5 189.9,83.8 190.3,82.2 191.1,81.3 191.6,81.7 192.1,83.0 192.8,89.4 193.8,91.5 195.1,92.2 197.1,92.6 201.1,91.8 202.6,92.1 204.6,93.2 205.1,94.5 207.2,96.5 207.9,98.0 207.8,102.0 207.1,104.2 207.1,106.8 205.3,108.2 204.2,110.0 201.9,112.0 200.8,113.5Z"/>
<path fill="#000" fill-opacity="0.04" d="M241.6,77.8 240.6,77.9 239.5,77.5 238.4,76.5 238.4,75.8 239.2,75.0 240.6,74.4 242.1,74.5 242.6,75.2 242.7,76.0 242.4,77.0 241.6,77.8Z M199.1,113.5 189.7,113.5 189.7,90.8 190.5,83.5 191.1,82.8 191.7,84.0 192.3,89.8 193.6,92.9 195.1,93.8 196.6,94.1 200.8,93.2 201.8,93.4 205.3,96.5 206.3,98.0 206.6,102.0 205.7,105.5 204.1,107.3 203.1,109.2 201.1,110.7 199.1,113.5Z"/>
<path fill="#000" fill-opacity="0.04" d="M241.1,76.3 240.5,76.2 240.7,75.8 241.2,76.0 241.1,76.3Z M194.8,113.5 192.8,113.2 192.3,113.5 189.7,113.5 189.7,93.8 189.8,91.0 190.8,88.4 193.1,94.0 194.1,95.1 195.7,95.8 198.3,95.8 200.1,96.5 202.3,96.6 204.3,97.7 204.8,98.8 205.3,102.0 205.0,103.8 204.5,105.0 203.1,106.9 202.3,108.5 200.4,109.8 199.3,111.1 194.8,113.5Z"/>
<path fill="#000" fill-opacity="0.04" d="M191.3,111.1 190.6,111.2 189.8,110.8 189.6,108.0 189.8,93.8 190.3,91.8 190.8,91.2 191.6,91.9 193.1,95.6 194.1,96.6 195.3,97.0 197.8,97.1 201.4,98.0 202.4,98.5 203.0,99.5 203.1,102.5 202.8,104.8 201.1,108.1 198.1,109.5 196.3,110.8 192.8,110.7 191.3,111.1Z"/>
<path fill="#000" fill-opacity="0.04" d="M191.3,109.5 190.6,109.7 189.8,109.5 189.7,107.5 189.8,94.8 190.8,93.2 191.6,93.7 192.6,97.2 193.3,98.2 194.8,99.1 196.8,98.5 199.8,98.8 200.6,99.5 201.3,101.8 200.8,103.2 200.3,106.2 199.8,107.1 196.1,108.7 191.3,109.5Z"/>
<path fill="#000" fill-opacity="0.04" d="M190.8,108.3 189.8,107.8 189.7,102.2 189.8,98.4 190.8,96.9 192.3,99.2 193.3,100.1 194.8,100.6 196.6,99.9 198.1,100.1 199.0,100.5 199.3,101.2 198.7,104.8 197.8,106.2 196.1,107.2 193.3,107.2 190.8,108.3Z"/>
<path fill="#000" fill-opacity="0.04" d="M196.1,105.8 194.8,105.8 192.6,104.3 191.9,104.5 191.3,105.2 191.1,105.1 189.8,102.5 190.0,100.5 190.6,99.6 191.3,99.8 193.1,102.2 194.3,102.7 196.3,102.7 197.0,103.0 197.3,103.8 197.2,104.5 196.8,105.2 196.1,105.8Z"/>
</g><g clip-path="url(#ct1)">
<path fill="#666" d="M217.9,102.0h.7v.7h-.7z M204.1,80.1h.7v.7h-.7z M208.6,76.4h.7v.7h-.7z M217.7,96.6h.7v.7h-.7z M223.2,81.0h.7v.7h-.7z M227.1,80.5h.7v.7h-.7z M220.8,69.5h.7v.7h-.7z M195.6,73.7h.7v.7h-.7z M225.1,73.0h.7v.7h-.7z M191.1,63.6h.7v.7h-.7z M199.1,72.3h.7v.7h-.7z M207.3,80.6h.7v.7h-.7z M213.3,107.1h.7v.7h-.7z M191.8,72.2h.7v.7h-.7z M201.4,84.1h.7v.7h-.7z M213.0,69.3h.7v.7h-.7z M213.7,94.9h.7v.7h-.7z M207.1,75.1h.7v.7h-.7z M205.5,79.3h.7v.7h-.7z M217.0,111.0h.7v.7h-.7z M215.5,105.4h.7v.7h-.7z M216.4,111.3h.7v.7h-.7z M190.6,70.5h.7v.7h-.7z M213.9,96.8h.7v.7h-.7z M204.0,76.0h.7v.7h-.7z M215.1,97.2h.7v.7h-.7z M190.4,70.8h.7v.7h-.7z M191.9,60.7h.7v.7h-.7z M214.3,102.1h.7v.7h-.7z M217.5,60.9h.7v.7h-.7z M212.8,105.4h.7v.7h-.7z M203.7,78.9h.7v.7h-.7z M227.0,99.7h.7v.7h-.7z M210.7,88.2h.7v.7h-.7z M220.7,76.9h.7v.7h-.7z M222.1,69.1h.7v.7h-.7z M212.7,76.3h.7v.7h-.7z M204.3,74.1h.7v.7h-.7z M213.4,74.7h.7v.7h-.7z M190.8,67.5h.7v.7h-.7z M205.9,70.0h.7v.7h-.7z M211.8,72.1h.7v.7h-.7z M202.9,66.5h.7v.7h-.7z M210.6,112.6h.7v.7h-.7z M227.9,80.8h.7v.7h-.7z M219.5,80.9h.7v.7h-.7z M212.2,108.8h.7v.7h-.7z M190.4,73.2h.7v.7h-.7z M216.7,107.6h.7v.7h-.7z M191.9,70.4h.7v.7h-.7z M212.7,110.0h.7v.7h-.7z M225.0,76.4h.7v.7h-.7z M213.6,71.3h.7v.7h-.7z M233.5,97.3h.7v.7h-.7z M220.5,80.7h.7v.7h-.7z M213.5,83.8h.7v.7h-.7z M224.8,88.0h.7v.7h-.7z M222.2,66.3h.7v.7h-.7z M195.0,86.5h.7v.7h-.7z M215.2,102.4h.7v.7h-.7z M203.7,81.2h.7v.7h-.7z M192.2,67.8h.7v.7h-.7z M213.5,92.7h.7v.7h-.7z M216.0,99.4h.7v.7h-.7z M211.7,110.1h.7v.7h-.7z M192.6,70.6h.7v.7h-.7z M211.9,87.3h.7v.7h-.7z M196.8,83.1h.7v.7h-.7z M241.5,98.1h.7v.7h-.7z M193.7,85.5h.7v.7h-.7z M191.5,70.1h.7v.7h-.7z M202.7,85.2h.7v.7h-.7z M215.3,102.6h.7v.7h-.7z M196.4,67.6h.7v.7h-.7z M208.0,82.3h.7v.7h-.7z M213.5,92.0h.7v.7h-.7z M190.3,69.4h.7v.7h-.7z M191.8,74.9h.7v.7h-.7z M190.1,57.9h.7v.7h-.7z M210.4,76.4h.7v.7h-.7z M212.8,105.1h.7v.7h-.7z M193.1,73.9h.7v.7h-.7z M191.6,69.2h.7v.7h-.7z M221.3,82.2h.7v.7h-.7z M190.7,63.6h.7v.7h-.7z M194.1,84.8h.7v.7h-.7z M193.0,81.8h.7v.7h-.7z M214.4,81.9h.7v.7h-.7z M213.6,73.6h.7v.7h-.7z M215.2,93.0h.7v.7h-.7z M206.0,76.4h.7v.7h-.7z M216.0,98.1h.7v.7h-.7z M207.0,71.3h.7v.7h-.7z M194.8,86.5h.7v.7h-.7z M198.7,69.1h.7v.7h-.7z M206.3,82.6h.7v.7h-.7z M212.2,76.7h.7v.7h-.7z M193.9,84.4h.7v.7h-.7z M210.9,112.5h.7v.7h-.7z M198.1,73.3h.7v.7h-.7z M219.7,101.8h.7v.7h-.7z M232.7,83.1h.7v.7h-.7z M221.7,72.2h.7v.7h-.7z M214.3,71.4h.7v.7h-.7z M201.4,83.5h.7v.7h-.7z M207.9,81.0h.7v.7h-.7z M220.3,78.7h.7v.7h-.7z M190.6,73.1h.7v.7h-.7z M208.3,83.6h.7v.7h-.7z M197.6,83.4h.7v.7h-.7z M220.9,77.8h.7v.7h-.7z M220.8,107.5h.7v.7h-.7z M215.5,87.0h.7v.7h-.7z M219.1,101.8h.7v.7h-.7z M192.6,52.6h.7v.7h-.7z M200.6,86.1h.7v.7h-.7z M216.9,112.6h.7v.7h-.7z M212.5,81.0h.7v.7h-.7z M224.9,73.6h.7v.7h-.7z M197.4,79.8h.7v.7h-.7z M192.2,57.3h.7v.7h-.7z M212.1,107.6h.7v.7h-.7z M196.2,82.6h.7v.7h-.7z M207.4,63.0h.7v.7h-.7z M206.6,79.9h.7v.7h-.7z M225.9,85.1h.7v.7h-.7z M192.8,61.5h.7v.7h-.7z M203.0,83.2h.7v.7h-.7z M211.6,109.8h.7v.7h-.7z M201.5,77.5h.7v.7h-.7z M202.0,78.3h.7v.7h-.7z M209.2,112.6h.7v.7h-.7z M202.7,64.4h.7v.7h-.7z M232.0,83.6h.7v.7h-.7z M220.5,86.3h.7v.7h-.7z M215.8,107.7h.7v.7h-.7z M214.5,75.8h.7v.7h-.7z M190.5,73.5h.7v.7h-.7z M191.8,75.1h.7v.7h-.7z M197.5,66.3h.7v.7h-.7z M192.5,79.6h.7v.7h-.7z M212.2,110.0h.7v.7h-.7z M197.9,85.3h.7v.7h-.7z M198.8,72.0h.7v.7h-.7z M207.9,69.8h.7v.7h-.7z M219.5,72.5h.7v.7h-.7z M229.9,62.9h.7v.7h-.7z M215.4,110.4h.7v.7h-.7z M213.8,110.4h.7v.7h-.7z M192.6,71.4h.7v.7h-.7z M213.3,76.1h.7v.7h-.7z M214.3,76.0h.7v.7h-.7z M198.1,70.5h.7v.7h-.7z M208.4,82.3h.7v.7h-.7z M209.8,72.9h.7v.7h-.7z M198.8,76.1h.7v.7h-.7z M196.5,78.6h.7v.7h-.7z M225.0,78.2h.7v.7h-.7z M206.6,78.6h.7v.7h-.7z M203.9,78.3h.7v.7h-.7z M195.6,76.5h.7v.7h-.7z M199.2,75.9h.7v.7h-.7z M202.3,77.0h.7v.7h-.7z M206.9,70.8h.7v.7h-.7z M193.8,78.2h.7v.7h-.7z M206.2,80.3h.7v.7h-.7z M204.0,79.7h.7v.7h-.7z M202.2,82.3h.7v.7h-.7z M217.8,78.4h.7v.7h-.7z M200.1,75.0h.7v.7h-.7z M226.9,81.1h.7v.7h-.7z M216.4,75.1h.7v.7h-.7z M204.3,78.6h.7v.7h-.7z M215.2,76.8h.7v.7h-.7z M198.6,73.8h.7v.7h-.7z M200.8,66.3h.7v.7h-.7z M213.7,74.7h.7v.7h-.7z M219.6,78.2h.7v.7h-.7z M203.1,78.1h.7v.7h-.7z M207.5,73.9h.7v.7h-.7z M223.1,75.1h.7v.7h-.7z M196.7,77.9h.7v.7h-.7z M196.5,79.9h.7v.7h-.7z M209.8,72.8h.7v.7h-.7z M196.2,80.5h.7v.7h-.7z M197.7,72.4h.7v.7h-.7z M211.6,82.5h.7v.7h-.7z M195.5,77.2h.7v.7h-.7z M191.5,74.8h.7v.7h-.7z M206.7,78.4h.7v.7h-.7z M200.5,76.4h.7v.7h-.7z M227.3,77.5h.7v.7h-.7z M195.0,77.9h.7v.7h-.7z M228.2,77.2h.7v.7h-.7z M215.4,84.1h.7v.7h-.7z M208.3,72.8h.7v.7h-.7z M221.0,75.2h.7v.7h-.7z M208.7,76.2h.7v.7h-.7z M195.4,72.9h.7v.7h-.7z M206.7,79.6h.7v.7h-.7z M202.0,80.5h.7v.7h-.7z M198.6,80.6h.7v.7h-.7z M224.1,76.1h.7v.7h-.7z M214.9,72.5h.7v.7h-.7z M211.0,75.7h.7v.7h-.7z M211.1,76.8h.7v.7h-.7z M198.3,83.0h.7v.7h-.7z M195.6,76.7h.7v.7h-.7z M214.5,74.8h.7v.7h-.7z M209.6,77.4h.7v.7h-.7z M204.9,67.4h.7v.7h-.7z M211.0,83.2h.7v.7h-.7z M204.3,78.7h.7v.7h-.7z M211.1,83.7h.7v.7h-.7z M194.8,75.1h.7v.7h-.7z M212.8,71.8h.7v.7h-.7z M205.5,76.4h.7v.7h-.7z M219.2,76.5h.7v.7h-.7z M205.0,73.6h.7v.7h-.7z M223.1,80.0h.7v.7h-.7z M198.8,78.5h.7v.7h-.7z M199.3,76.3h.7v.7h-.7z M204.1,81.6h.7v.7h-.7z M219.3,75.0h.7v.7h-.7z M220.8,74.1h.7v.7h-.7z M204.1,78.9h.7v.7h-.7z M206.1,77.4h.7v.7h-.7z M219.3,76.7h.7v.7h-.7z M224.9,79.8h.7v.7h-.7z M194.0,76.3h.7v.7h-.7z M205.9,79.9h.7v.7h-.7z M225.2,78.5h.7v.7h-.7z M215.8,81.8h.7v.7h-.7z M220.3,76.6h.7v.7h-.7z M202.1,80.0h.7v.7h-.7z M195.4,79.3h.7v.7h-.7z M193.6,72.2h.7v.7h-.7z M204.9,75.2h.7v.7h-.7z M194.6,77.8h.7v.7h-.7z M195.5,76.4h.7v.7h-.7z M203.7,78.4h.7v.7h-.7z M197.1,72.2h.7v.7h-.7z M194.6,76.3h.7v.7h-.7z M207.8,78.9h.7v.7h-.7z M208.5,78.8h.7v.7h-.7z M205.7,79.8h.7v.7h-.7z M215.1,82.9h.7v.7h-.7z M203.4,75.9h.7v.7h-.7z M209.7,82.2h.7v.7h-.7z M198.9,78.0h.7v.7h-.7z M209.6,83.2h.7v.7h-.7z M198.5,84.8h.7v.7h-.7z M191.3,72.8h.7v.7h-.7z M215.3,75.3h.7v.7h-.7z M210.3,85.0h.7v.7h-.7z M194.9,74.2h.7v.7h-.7z M201.0,76.6h.7v.7h-.7z M206.1,77.0h.7v.7h-.7z M210.3,78.8h.7v.7h-.7z M200.0,76.5h.7v.7h-.7z M232.5,68.7h.7v.7h-.7z M204.3,75.2h.7v.7h-.7z M215.1,68.1h.7v.7h-.7z M229.6,90.6h.7v.7h-.7z M213.8,68.6h.7v.7h-.7z M229.2,85.2h.7v.7h-.7z M253.1,75.1h.7v.7h-.7z M217.3,78.1h.7v.7h-.7z M221.9,81.1h.7v.7h-.7z M216.8,67.3h.7v.7h-.7z M200.3,62.6h.7v.7h-.7z M214.1,75.7h.7v.7h-.7z M210.7,76.6h.7v.7h-.7z M232.6,64.2h.7v.7h-.7z M225.7,66.4h.7v.7h-.7z M225.8,64.1h.7v.7h-.7z M212.5,74.5h.7v.7h-.7z M255.3,61.5h.7v.7h-.7z M222.1,59.2h.7v.7h-.7z M215.3,67.4h.7v.7h-.7z M216.6,73.5h.7v.7h-.7z M204.1,65.8h.7v.7h-.7z M228.0,72.7h.7v.7h-.7z M250.1,60.2h.7v.7h-.7z M229.4,82.5h.7v.7h-.7z M230.0,65.7h.7v.7h-.7z M213.1,62.6h.7v.7h-.7z M223.2,70.8h.7v.7h-.7z M232.4,66.5h.7v.7h-.7z M227.9,65.4h.7v.7h-.7z M238.7,56.1h.7v.7h-.7z M206.6,55.6h.7v.7h-.7z M257.4,91.5h.7v.7h-.7z M241.5,66.8h.7v.7h-.7z M231.1,69.0h.7v.7h-.7z M221.5,61.2h.7v.7h-.7z M219.4,77.0h.7v.7h-.7z M215.6,85.7h.7v.7h-.7z M221.6,68.2h.7v.7h-.7z M204.6,60.9h.7v.7h-.7z"/>
<g transform="translate(189.8,41.0)" fill="none" stroke-linecap="round"><radialGradient id="rg1"><stop offset="0" stop-color="#000" stop-opacity="0.28"/><stop offset="0.6" stop-color="#000" stop-opacity="0.12"/><stop offset="1" stop-color="#000" stop-opacity="0"/></radialGradient><ellipse cx="51" cy="35" rx="10" ry="8.5" fill="url(#rg1)" stroke="none"/><ellipse cx="48" cy="51" rx="5" ry="7" fill="url(#rg1)" stroke="none" opacity="0.6"/><path d="M1.3,28 L1.3,72" stroke="#000" stroke-width="1.2"/><path d="M1.5,61.3 Q10,61 20.8,58" stroke="#111" stroke-width="1.3"/><path d="M1.5,64 Q10,64.5 19,61" stroke="#333" stroke-width="0.8"/><path d="M1.5,58.5 Q9,57.5 17,55.5" stroke="#444" stroke-width="0.6"/></g>
</g>
<clipPath id="cb1"><rect x="190.0" y="174.2" width="72.0" height="72.5"/></clipPath>
<g clip-path="url(#cb1)" stroke="#111" stroke-width="0.45" stroke-linejoin="round">
<path fill="none" stroke="#888" d="M204.5,240.7 203.2,240.7 201.5,240.1 198.8,237.9 197.2,235.7 196.5,233.2 197.8,225.3 197.9,221.4 196.2,216.4 195.7,211.9 196.2,207.2 197.0,204.9 197.4,202.7 198.5,199.9 200.0,198.4 202.0,197.3 204.2,197.1 208.0,198.4 210.2,200.2 211.5,200.7 212.8,200.7 214.8,199.9 218.0,199.8 219.5,200.1 221.5,201.2 225.8,201.7 227.8,202.7 230.5,202.4 232.5,202.6 234.8,203.8 240.7,205.7 242.5,207.7 244.4,209.2 244.9,210.4 244.7,211.4 241.8,213.9 237.1,215.2 235.0,216.5 232.6,215.9 231.5,216.1 230.9,216.4 230.2,217.7 227.8,218.2 224.8,220.2 219.0,221.0 215.8,220.9 211.2,220.0 210.5,220.3 209.8,221.2 209.7,222.2 210.2,224.4 211.9,228.2 212.1,229.2 211.9,231.7 211.1,235.2 209.6,237.9 208.8,238.9 207.0,240.0 204.5,240.7Z"/>
<path fill="none" stroke="#888" d="M205.2,240.0 203.8,240.1 201.5,239.4 198.2,236.6 197.3,234.4 197.2,232.2 197.8,229.2 198.4,221.7 196.5,216.4 196.0,211.9 196.5,207.2 197.4,204.9 197.9,202.4 198.8,200.3 200.2,198.9 202.2,197.9 204.8,197.7 207.8,198.8 210.2,200.9 211.8,201.6 215.5,201.2 218.0,200.4 219.0,200.7 220.8,201.9 225.2,202.2 227.8,203.3 230.0,203.1 232.5,203.3 234.7,204.4 240.0,206.1 240.7,206.7 241.5,208.5 243.8,209.8 244.0,210.7 243.8,211.4 241.5,213.2 236.8,214.3 235.0,215.1 232.5,214.6 231.0,215.0 229.8,215.5 228.6,216.7 224.5,219.4 221.0,219.7 219.2,219.2 216.0,220.0 211.8,218.9 210.5,219.4 209.3,220.7 209.0,221.7 209.6,224.4 211.6,228.9 211.5,230.9 210.8,234.4 208.8,238.4 207.8,239.1 205.2,240.0Z"/>
<path fill="none" d="M204.8,239.5 203.5,239.5 201.8,238.8 198.7,236.2 197.9,234.7 197.9,231.4 198.4,229.2 198.9,221.9 198.7,220.7 196.8,216.2 196.4,211.9 196.9,207.2 197.8,204.9 198.6,201.7 199.3,200.4 200.8,199.2 201.8,198.6 203.5,198.3 206.0,198.5 208.0,199.5 211.2,202.4 212.8,203.1 214.0,203.0 218.0,201.8 220.0,202.5 223.5,203.2 225.0,203.3 227.2,203.8 229.8,203.8 232.8,204.4 236.2,205.9 239.2,206.6 239.8,207.2 241.0,209.4 242.9,210.4 242.8,211.2 242.0,211.9 238.0,213.2 234.8,213.7 233.0,213.1 232.2,213.2 229.0,214.9 224.0,218.7 219.0,218.1 217.2,218.8 216.2,218.9 214.8,218.7 212.2,217.9 210.8,218.4 208.7,220.4 208.3,221.4 209.0,224.4 211.1,228.9 211.1,230.4 210.3,234.2 209.1,237.2 208.3,238.2 207.2,238.8 204.8,239.5Z"/>
<path fill="none" d="M205.0,238.7 203.8,238.9 202.5,238.4 199.0,235.4 198.7,234.7 198.6,231.4 199.4,225.4 199.5,221.9 198.2,218.2 197.2,216.2 196.8,212.2 197.3,207.2 198.3,204.9 199.2,201.7 200.1,200.4 202.0,199.1 205.2,198.8 207.8,199.8 210.0,202.2 213.8,205.2 215.3,204.9 218.5,203.2 221.0,203.2 223.5,204.3 229.8,204.4 232.8,205.7 234.5,206.1 236.0,207.1 238.0,207.1 239.0,207.8 240.2,210.4 240.1,210.9 239.6,211.4 238.0,211.9 236.2,210.5 234.8,210.6 233.2,211.7 229.1,213.4 226.7,215.7 224.8,216.6 223.5,217.5 220.2,217.1 218.2,216.1 216.5,217.5 214.8,217.6 212.5,216.9 210.8,217.5 207.8,220.4 207.5,221.2 208.5,224.5 210.5,228.9 209.9,233.7 208.7,236.7 208.0,237.7 207.2,238.2 205.0,238.7Z"/>
<path fill="#000" fill-opacity="0.035" d="M204.8,238.0 203.8,238.2 203.0,237.9 199.7,234.4 199.4,231.4 199.6,227.7 200.2,225.7 200.0,223.9 200.1,221.9 198.7,217.9 197.6,215.9 197.3,213.7 197.6,207.4 199.7,202.2 201.2,200.2 202.2,199.6 204.5,199.2 205.8,199.4 207.2,200.0 211.3,204.4 211.3,206.9 211.8,207.7 212.5,208.2 215.0,207.0 219.0,204.2 220.5,203.8 221.5,204.0 222.8,205.4 223.5,205.8 228.2,205.0 229.8,205.1 231.0,205.8 232.5,207.5 234.2,207.2 235.3,207.9 235.7,208.4 235.5,208.9 234.8,209.2 233.2,209.3 232.2,210.7 231.2,211.4 228.1,212.4 227.2,213.2 226.2,214.8 225.5,215.4 222.2,216.2 221.0,215.9 219.5,214.9 218.5,214.6 217.2,214.9 215.2,216.1 212.8,215.8 210.4,216.7 209.0,218.5 206.9,220.2 206.6,220.9 209.4,227.9 209.3,233.4 207.2,237.2 204.8,238.0Z"/>
<path fill="#000" fill-opacity="0.035" d="M205.5,237.0 203.5,236.8 200.7,233.7 200.2,228.9 201.2,225.9 200.7,223.9 200.9,221.2 199.3,217.7 198.1,215.9 197.7,213.2 198.2,209.9 198.1,207.7 200.1,202.7 202.0,200.4 204.5,199.8 206.0,200.0 207.0,200.5 208.5,202.5 210.0,203.9 210.5,204.9 210.5,206.9 211.0,208.2 212.2,209.7 214.1,210.9 214.8,212.9 215.8,213.7 215.5,214.4 215.0,214.8 212.8,214.4 210.5,215.5 208.6,217.9 206.0,220.4 206.0,221.4 208.4,227.7 208.6,232.9 208.2,234.2 207.0,236.0 206.2,236.7 205.5,237.0Z M222.8,214.5 221.0,214.6 218.0,212.5 217.0,213.3 216.0,213.2 215.9,211.9 215.1,210.9 215.1,210.2 215.7,209.4 217.2,208.4 217.4,207.2 217.9,206.4 219.8,204.9 220.8,204.8 221.2,205.7 220.9,206.7 218.2,208.4 218.8,208.9 220.5,208.4 222.0,209.4 225.2,207.7 226.7,206.4 229.2,206.2 230.1,206.4 230.4,208.7 229.4,210.2 227.2,211.3 225.5,211.4 225.1,211.9 224.8,213.7 222.8,214.5Z"/>
<path fill="#000" fill-opacity="0.035" d="M205.8,235.5 202.8,234.2 202.0,233.4 202.0,231.7 201.6,229.4 202.1,225.9 201.7,223.9 202.5,221.4 201.7,219.7 198.8,215.7 198.2,213.2 199.0,209.7 199.1,206.7 200.6,203.2 202.2,201.1 204.2,200.5 205.8,200.7 206.8,201.1 209.3,204.2 210.2,208.2 212.5,211.7 212.3,212.4 211.6,213.4 209.8,215.1 208.1,217.4 205.8,219.7 205.0,220.9 205.0,221.7 206.3,224.4 207.4,227.9 207.5,230.2 207.0,231.9 207.5,233.7 207.0,234.6 205.8,235.5Z"/>
<path fill="#000" fill-opacity="0.035" d="M204.2,220.1 203.2,220.0 201.1,217.7 199.2,214.9 198.7,213.2 198.9,211.9 200.4,208.2 200.1,206.4 200.3,205.7 202.0,202.6 203.0,201.8 204.0,201.6 206.5,202.1 208.0,203.7 208.6,204.7 210.0,208.9 211.2,210.7 211.5,211.7 211.0,212.9 209.5,214.4 207.8,216.8 204.2,220.1Z M205.5,228.0 204.0,227.5 203.4,226.9 203.2,224.9 203.8,224.2 204.2,224.6 205.8,226.9 205.9,227.7 205.5,228.0Z"/>
<path fill="#000" fill-opacity="0.035" d="M204.5,218.1 203.5,218.1 202.0,217.2 199.9,214.7 199.6,213.2 200.0,211.4 201.5,208.4 201.5,205.9 202.0,204.6 203.2,203.6 206.0,203.1 206.8,203.4 207.4,204.2 210.6,211.7 210.3,212.7 207.5,216.1 204.5,218.1Z"/>
<path fill="#000" fill-opacity="0.035" d="M206.2,216.0 204.8,216.1 202.0,215.3 201.0,214.7 200.8,213.9 203.1,207.9 203.2,205.9 203.5,205.6 206.0,204.6 206.5,205.0 208.4,208.2 209.6,211.7 209.2,212.9 207.2,215.4 206.2,216.0Z"/>
<path fill="#000" fill-opacity="0.035" d="M206.2,215.0 205.5,215.1 204.4,214.7 203.8,214.2 203.5,213.4 204.2,211.7 204.0,209.9 204.2,209.2 205.0,208.7 207.0,208.6 207.5,208.8 207.9,209.4 208.5,212.2 208.2,212.9 206.2,215.0Z"/>
</g><g clip-path="url(#cb1)">
<path fill="#666" d="M199.5,245.2h.7v.7h-.7z M208.3,194.8h.7v.7h-.7z M194.6,231.6h.7v.7h-.7z M196.7,228.7h.7v.7h-.7z M195.5,239.4h.7v.7h-.7z M192.2,214.6h.7v.7h-.7z M197.5,200.2h.7v.7h-.7z M197.6,199.1h.7v.7h-.7z M196.9,244.9h.7v.7h-.7z M193.0,238.0h.7v.7h-.7z M194.6,210.1h.7v.7h-.7z M238.0,203.6h.7v.7h-.7z M191.9,211.5h.7v.7h-.7z M210.4,198.9h.7v.7h-.7z M228.5,200.6h.7v.7h-.7z M191.6,215.7h.7v.7h-.7z M209.8,192.9h.7v.7h-.7z M216.3,222.9h.7v.7h-.7z M195.6,241.3h.7v.7h-.7z M210.7,199.1h.7v.7h-.7z M228.5,219.5h.7v.7h-.7z M234.3,201.3h.7v.7h-.7z M196.3,225.3h.7v.7h-.7z M213.0,237.2h.7v.7h-.7z M203.2,191.8h.7v.7h-.7z M220.2,224.0h.7v.7h-.7z M195.6,201.8h.7v.7h-.7z M196.0,194.0h.7v.7h-.7z M197.0,222.7h.7v.7h-.7z M235.3,219.0h.7v.7h-.7z M202.9,195.8h.7v.7h-.7z M202.4,193.8h.7v.7h-.7z M209.4,238.9h.7v.7h-.7z M192.3,233.3h.7v.7h-.7z M202.9,194.6h.7v.7h-.7z M195.7,225.9h.7v.7h-.7z M226.6,219.7h.7v.7h-.7z M191.6,207.0h.7v.7h-.7z M228.7,198.1h.7v.7h-.7z M201.0,240.9h.7v.7h-.7z M215.9,193.9h.7v.7h-.7z M208.6,189.8h.7v.7h-.7z M196.7,202.2h.7v.7h-.7z M220.4,225.2h.7v.7h-.7z M211.8,240.4h.7v.7h-.7z M207.6,195.3h.7v.7h-.7z M205.1,180.2h.7v.7h-.7z M209.3,237.8h.7v.7h-.7z M211.6,190.4h.7v.7h-.7z M195.6,226.2h.7v.7h-.7z M228.8,194.6h.7v.7h-.7z M193.3,216.1h.7v.7h-.7z M218.0,221.2h.7v.7h-.7z M210.9,235.8h.7v.7h-.7z M202.0,191.8h.7v.7h-.7z M194.2,218.1h.7v.7h-.7z M216.7,199.2h.7v.7h-.7z M228.9,197.5h.7v.7h-.7z M193.8,213.3h.7v.7h-.7z M194.8,242.5h.7v.7h-.7z M194.9,210.5h.7v.7h-.7z M197.1,204.0h.7v.7h-.7z M194.9,202.2h.7v.7h-.7z M196.9,201.7h.7v.7h-.7z M200.9,179.9h.7v.7h-.7z M230.6,216.7h.7v.7h-.7z M196.1,217.3h.7v.7h-.7z M205.8,192.4h.7v.7h-.7z M220.3,227.7h.7v.7h-.7z M253.2,213.8h.7v.7h-.7z M209.4,197.5h.7v.7h-.7z M211.0,200.2h.7v.7h-.7z M215.6,225.4h.7v.7h-.7z M212.8,222.5h.7v.7h-.7z M222.2,220.4h.7v.7h-.7z M197.2,228.0h.7v.7h-.7z M211.3,226.8h.7v.7h-.7z M210.4,221.0h.7v.7h-.7z M204.0,193.0h.7v.7h-.7z M221.6,200.1h.7v.7h-.7z M205.4,242.4h.7v.7h-.7z M209.8,197.3h.7v.7h-.7z M230.3,230.5h.7v.7h-.7z M197.1,222.1h.7v.7h-.7z M211.9,221.9h.7v.7h-.7z M210.2,242.4h.7v.7h-.7z M237.3,228.3h.7v.7h-.7z M237.6,224.4h.7v.7h-.7z M220.5,223.7h.7v.7h-.7z M191.3,222.5h.7v.7h-.7z M225.6,226.2h.7v.7h-.7z M233.0,217.1h.7v.7h-.7z M215.7,231.6h.7v.7h-.7z M190.8,219.3h.7v.7h-.7z M194.7,228.6h.7v.7h-.7z M197.9,200.7h.7v.7h-.7z M228.6,225.0h.7v.7h-.7z M219.0,193.2h.7v.7h-.7z M220.2,241.6h.7v.7h-.7z M213.7,228.0h.7v.7h-.7z M216.8,220.4h.7v.7h-.7z M214.2,189.2h.7v.7h-.7z M195.1,236.1h.7v.7h-.7z M222.8,224.8h.7v.7h-.7z M194.9,221.6h.7v.7h-.7z M241.1,226.8h.7v.7h-.7z M207.3,194.9h.7v.7h-.7z M223.6,227.3h.7v.7h-.7z M218.5,233.0h.7v.7h-.7z M201.4,196.4h.7v.7h-.7z M229.5,232.0h.7v.7h-.7z M221.0,232.7h.7v.7h-.7z M222.6,234.9h.7v.7h-.7z M238.3,238.3h.7v.7h-.7z M221.3,183.7h.7v.7h-.7z M228.2,227.5h.7v.7h-.7z M211.6,234.5h.7v.7h-.7z M218.8,243.3h.7v.7h-.7z M206.1,193.1h.7v.7h-.7z M215.3,232.3h.7v.7h-.7z M228.8,223.8h.7v.7h-.7z M214.7,231.0h.7v.7h-.7z M232.7,220.9h.7v.7h-.7z M195.1,217.3h.7v.7h-.7z M237.0,226.0h.7v.7h-.7z M235.9,230.9h.7v.7h-.7z M236.1,242.8h.7v.7h-.7z M221.4,238.4h.7v.7h-.7z M194.1,235.2h.7v.7h-.7z M215.8,225.3h.7v.7h-.7z"/>
<g transform="translate(190.0,174.2)" fill="none" stroke-linecap="round"><path d="M14.0,26.5 C15.6,26.5 17.8,27.8 19.0,29.5 C20.2,31.2 20.9,34.6 21.0,37.0 C21.1,39.4 20.7,42.3 19.5,44.0 C18.3,45.7 15.7,46.9 14.0,47.0 C12.3,47.1 10.4,46.2 9.5,44.5 C8.6,42.8 8.3,39.5 8.3,37.0 C8.3,34.5 8.6,31.2 9.5,29.5 C10.4,27.8 12.4,26.5 14.0,26.5Z" stroke="#000" stroke-width="0.8"/><path d="M17.0,27.3 C17.5,24.5 13.8,26.5 12.5,27.0 C11.2,27.5 10.0,28.8 9.3,30.5 C8.6,32.2 8.3,34.8 8.3,37.0 C8.3,39.2 8.1,45.6 9.5,44.0" stroke="#000" stroke-width="1.7"/><path d="M14.0,49.5 C15.4,49.8 18.1,50.4 19.0,52.0 C19.9,53.6 20.2,57.0 19.5,59.0 C18.8,61.0 16.2,63.6 14.5,64.0 C12.8,64.4 10.4,63.0 9.5,61.5 C8.6,60.0 8.6,56.8 8.8,55.0 C9.0,53.2 9.6,51.4 10.5,50.5 C11.4,49.6 12.6,49.2 14.0,49.5Z" stroke="#222" stroke-width="0.6"/><path d="M10.5,50.5 C9.6,49.0 9.0,53.2 8.8,55.0 C8.6,56.8 8.6,60.0 9.5,61.5 C10.4,63.0 13.8,65.8 14.0,64.0" stroke="#111" stroke-width="1.0"/></g>
</g>
<clipPath id="ct2"><rect x="296.0" y="41.0" width="72.0" height="72.5"/></clipPath>
<g clip-path="url(#ct2)" stroke="#111" stroke-width="0.45" stroke-linejoin="round">
<path fill="none" d="M345.2,101.3 341.8,100.0 340.3,97.2 340.5,95.0 339.3,91.2 339.4,87.2 338.4,83.8 338.7,81.5 337.5,80.0 336.6,78.0 336.0,75.5 337.5,72.3 338.0,69.8 338.8,68.6 342.0,66.4 343.9,66.0 346.0,65.0 347.2,64.9 350.2,65.5 351.0,66.0 352.2,67.9 356.2,71.2 357.9,75.2 354.5,82.2 353.1,83.8 353.0,85.2 352.1,87.0 351.2,90.2 351.4,92.2 350.2,96.0 348.5,97.7 347.1,100.2 345.2,101.3Z M318.8,113.5 297.2,113.7 296.0,113.7 295.8,113.5 296.0,85.3 297.2,82.9 297.8,83.1 298.6,85.2 299.8,86.1 302.5,85.4 304.8,85.6 307.0,84.7 309.5,85.5 312.0,85.8 314.5,85.5 315.2,85.9 316.5,87.4 318.2,88.0 318.8,88.5 320.1,91.5 323.0,94.8 323.8,100.0 323.7,105.0 322.7,106.8 322.4,108.8 320.4,111.0 318.8,113.5Z"/>
<path fill="none" d="M345.8,99.1 343.0,98.9 342.4,98.5 341.8,97.5 340.3,87.2 339.3,84.2 340.0,81.2 338.8,78.7 337.6,77.2 337.5,76.5 339.3,70.5 339.9,69.5 342.2,67.8 344.8,67.4 347.0,66.3 349.5,66.8 350.2,67.2 352.9,70.5 355.0,71.8 356.6,75.2 353.4,81.5 351.7,83.2 351.5,85.0 350.6,86.8 350.6,88.5 350.1,90.2 350.4,92.0 350.2,92.8 348.0,95.8 346.8,98.2 345.8,99.1Z M317.2,113.5 297.5,113.7 296.0,113.7 295.8,113.5 295.9,89.0 296.0,87.8 297.0,86.3 297.5,86.3 298.9,87.2 299.8,87.4 302.8,86.5 305.0,86.4 307.2,85.8 311.8,86.9 315.5,89.0 317.5,89.6 318.4,92.5 321.3,95.5 322.1,97.2 322.6,99.8 322.7,102.5 322.6,104.5 321.7,106.5 321.2,108.5 319.5,109.7 318.6,111.8 317.2,113.5Z"/>
<path fill="none" d="M345.2,97.3 343.5,96.8 342.4,94.0 341.9,89.5 342.0,87.5 340.5,85.5 340.2,84.5 340.4,83.5 341.7,81.2 340.6,79.5 340.2,78.0 339.4,76.5 339.3,75.5 339.9,72.5 341.6,70.0 343.2,68.9 346.0,68.6 349.8,69.5 351.2,71.0 354.0,72.5 354.7,73.8 355.1,75.8 353.9,78.5 352.2,80.0 350.3,82.5 350.3,84.8 349.2,86.1 348.9,87.8 348.9,90.0 349.2,92.2 347.3,94.8 346.2,96.6 345.2,97.3Z M315.0,113.5 297.5,113.7 296.0,113.7 295.8,113.5 295.9,92.0 296.0,89.6 296.8,88.2 297.8,87.9 300.0,88.6 303.5,87.4 307.8,88.1 310.0,87.7 314.2,89.9 316.2,91.5 316.9,93.0 321.0,98.2 321.7,103.2 321.3,104.5 320.0,107.0 318.2,109.0 317.6,111.0 315.0,113.5Z"/>
<path fill="#000" fill-opacity="0.04" d="M345.5,94.8 344.5,94.6 343.5,93.0 343.3,90.2 343.8,88.5 343.6,86.8 343.9,85.0 343.5,84.5 342.3,84.0 342.6,83.2 344.0,82.2 344.0,81.8 342.0,79.5 341.5,77.8 340.7,76.5 340.5,75.5 340.8,73.0 342.5,70.9 343.5,70.4 346.2,70.2 349.2,71.2 352.8,73.2 353.7,74.5 354.0,76.0 353.2,77.8 351.7,78.8 348.3,82.2 347.6,85.0 347.6,86.5 347.1,88.2 347.6,91.8 346.2,94.0 345.5,94.8Z M313.0,113.5 297.5,113.7 295.8,113.5 296.0,92.0 296.0,91.4 297.2,89.1 298.0,89.1 299.8,90.2 302.5,89.2 303.8,89.0 310.5,89.8 313.0,90.6 314.3,91.5 315.3,93.8 319.4,98.5 320.3,101.5 320.1,104.0 317.8,107.5 316.3,109.0 314.9,111.8 313.0,113.5Z"/>
<path fill="#000" fill-opacity="0.04" d="M347.2,80.3 344.8,80.2 343.2,79.2 342.9,77.5 342.4,76.0 342.3,73.5 342.5,73.0 343.5,72.2 346.0,71.7 349.2,72.4 350.5,73.0 352.3,74.8 352.5,75.5 352.2,76.0 350.0,77.8 349.1,79.5 347.2,80.3Z M345.0,92.5 344.5,92.1 344.3,91.0 344.5,90.3 345.0,90.0 345.5,90.2 345.9,91.0 345.7,92.0 345.0,92.5Z M311.5,113.5 295.9,113.5 296.0,93.3 296.8,91.5 297.5,90.6 298.0,90.7 299.0,91.7 299.8,92.0 304.5,90.4 309.0,90.8 310.5,91.1 312.5,92.3 314.9,96.2 317.2,98.0 318.5,101.2 318.4,103.8 316.5,107.0 314.2,108.5 313.6,111.2 311.5,113.5Z"/>
<path fill="#000" fill-opacity="0.04" d="M347.0,77.3 345.0,76.9 344.1,76.2 344.0,75.0 345.0,73.3 345.8,73.2 348.2,74.0 349.3,74.8 349.3,75.5 348.7,76.2 347.0,77.3Z M304.8,113.5 295.9,113.5 295.9,95.8 296.0,94.8 297.5,92.7 299.0,93.4 299.8,93.5 305.0,92.1 306.5,92.2 309.5,93.8 311.0,94.0 311.9,96.8 315.3,98.2 315.7,98.8 316.4,101.2 316.5,104.0 315.8,105.9 313.3,107.5 312.2,110.0 311.5,110.7 306.5,112.5 304.8,113.5Z"/>
<path fill="#000" fill-opacity="0.04" d="M347.2,75.6 346.7,75.5 347.1,75.2 347.2,75.6Z M298.0,113.5 296.6,113.5 296.0,112.7 296.0,95.7 297.8,94.5 299.2,94.9 301.2,94.8 304.5,95.1 306.5,94.4 307.0,94.8 307.7,96.2 309.0,97.5 313.2,99.8 314.2,100.6 315.1,102.0 315.2,104.5 314.8,105.1 312.6,106.0 310.2,109.6 308.2,109.9 305.8,111.2 302.2,111.7 299.8,111.7 298.0,113.5Z"/>
<path fill="#000" fill-opacity="0.04" d="M297.2,112.3 296.5,111.5 295.9,108.8 295.9,97.8 296.0,96.8 296.3,96.5 297.5,95.9 300.0,97.0 302.8,96.8 305.8,97.8 306.2,98.5 306.5,100.0 307.0,100.5 308.8,99.8 309.7,100.0 310.4,100.5 310.5,101.0 310.2,101.8 308.4,101.8 308.3,103.0 307.3,105.0 307.4,108.0 306.8,109.1 306.0,109.6 304.5,109.8 301.2,109.3 299.0,109.6 298.0,110.2 297.7,111.8 297.2,112.3Z"/>
<path fill="#000" fill-opacity="0.04" d="M297.2,108.5 296.5,108.3 296.1,107.5 296.7,103.2 296.2,101.0 296.9,98.8 297.2,98.7 298.5,101.2 299.0,101.5 299.7,101.0 300.8,99.2 302.2,99.1 303.5,99.5 303.8,100.0 303.6,101.5 305.0,103.0 305.5,104.2 305.5,105.0 304.9,106.5 305.1,108.0 303.9,108.2 302.8,107.1 299.5,106.2 298.5,106.6 297.2,108.5Z"/>
</g><g clip-path="url(#ct2)">
<path fill="#666" d="M313.8,58.4h.7v.7h-.7z M302.8,77.1h.7v.7h-.7z M302.4,85.1h.7v.7h-.7z M308.7,72.2h.7v.7h-.7z M321.7,109.6h.7v.7h-.7z M296.3,80.0h.7v.7h-.7z M323.4,108.0h.7v.7h-.7z M319.5,66.1h.7v.7h-.7z M331.1,72.7h.7v.7h-.7z M296.4,80.9h.7v.7h-.7z M323.7,95.4h.7v.7h-.7z M312.9,83.1h.7v.7h-.7z M298.1,82.5h.7v.7h-.7z M325.5,59.8h.7v.7h-.7z M309.8,82.8h.7v.7h-.7z M322.6,106.7h.7v.7h-.7z M296.3,78.8h.7v.7h-.7z M313.2,59.5h.7v.7h-.7z M325.5,77.0h.7v.7h-.7z M323.5,92.0h.7v.7h-.7z M330.2,97.3h.7v.7h-.7z M314.0,81.5h.7v.7h-.7z M321.8,91.6h.7v.7h-.7z M323.6,96.0h.7v.7h-.7z M307.4,81.8h.7v.7h-.7z M301.2,83.1h.7v.7h-.7z M297.9,78.8h.7v.7h-.7z M302.4,68.7h.7v.7h-.7z M327.7,72.2h.7v.7h-.7z M323.6,86.6h.7v.7h-.7z M306.3,70.7h.7v.7h-.7z M320.8,73.0h.7v.7h-.7z M311.7,84.7h.7v.7h-.7z M316.0,69.4h.7v.7h-.7z M317.7,70.6h.7v.7h-.7z M304.2,83.6h.7v.7h-.7z M301.2,83.7h.7v.7h-.7z M304.5,85.3h.7v.7h-.7z M339.1,65.1h.7v.7h-.7z M296.2,82.2h.7v.7h-.7z M327.3,103.8h.7v.7h-.7z M319.1,63.9h.7v.7h-.7z M332.5,66.6h.7v.7h-.7z M303.8,83.6h.7v.7h-.7z M325.8,103.0h.7v.7h-.7z M314.6,79.4h.7v.7h-.7z M315.6,77.6h.7v.7h-.7z M309.9,85.5h.7v.7h-.7z M297.3,82.6h.7v.7h-.7z M297.7,81.5h.7v.7h-.7z M319.9,111.3h.7v.7h-.7z M323.0,97.8h.7v.7h-.7z M316.2,77.4h.7v.7h-.7z M317.7,69.3h.7v.7h-.7z M318.4,87.1h.7v.7h-.7z M301.4,80.6h.7v.7h-.7z M319.9,84.4h.7v.7h-.7z M341.9,58.2h.7v.7h-.7z M318.2,78.7h.7v.7h-.7z M309.5,73.9h.7v.7h-.7z M320.9,81.5h.7v.7h-.7z M309.2,60.1h.7v.7h-.7z M322.4,73.3h.7v.7h-.7z M321.3,90.9h.7v.7h-.7z M336.8,83.8h.7v.7h-.7z M309.9,78.1h.7v.7h-.7z M314.3,83.5h.7v.7h-.7z M319.3,111.9h.7v.7h-.7z M297.5,78.6h.7v.7h-.7z M329.8,67.7h.7v.7h-.7z M308.7,66.8h.7v.7h-.7z M325.3,68.0h.7v.7h-.7z M298.4,81.8h.7v.7h-.7z M317.3,77.1h.7v.7h-.7z M298.0,75.1h.7v.7h-.7z M323.6,106.8h.7v.7h-.7z M327.6,79.7h.7v.7h-.7z M304.4,84.3h.7v.7h-.7z M335.4,64.3h.7v.7h-.7z M304.1,82.8h.7v.7h-.7z M325.4,111.1h.7v.7h-.7z M325.2,105.2h.7v.7h-.7z M322.3,111.7h.7v.7h-.7z M326.6,81.6h.7v.7h-.7z M327.0,97.5h.7v.7h-.7z M321.8,82.4h.7v.7h-.7z M323.0,106.0h.7v.7h-.7z M309.1,84.5h.7v.7h-.7z M310.7,72.0h.7v.7h-.7z M313.4,68.6h.7v.7h-.7z M297.0,75.1h.7v.7h-.7z M328.3,75.4h.7v.7h-.7z M302.0,85.4h.7v.7h-.7z M319.6,89.5h.7v.7h-.7z M325.5,75.8h.7v.7h-.7z M322.9,87.9h.7v.7h-.7z M308.7,74.5h.7v.7h-.7z M309.8,84.3h.7v.7h-.7z M301.9,85.5h.7v.7h-.7z M323.2,102.6h.7v.7h-.7z M310.6,59.9h.7v.7h-.7z M311.8,85.2h.7v.7h-.7z M311.6,67.0h.7v.7h-.7z M301.6,79.3h.7v.7h-.7z M332.2,110.6h.7v.7h-.7z M304.5,73.6h.7v.7h-.7z M299.4,86.2h.7v.7h-.7z M332.1,81.3h.7v.7h-.7z M328.7,89.7h.7v.7h-.7z M319.1,90.8h.7v.7h-.7z M298.0,82.6h.7v.7h-.7z M297.5,82.5h.7v.7h-.7z M323.6,111.3h.7v.7h-.7z M324.6,81.0h.7v.7h-.7z M303.2,81.7h.7v.7h-.7z M309.4,77.2h.7v.7h-.7z M304.6,65.9h.7v.7h-.7z M305.2,85.1h.7v.7h-.7z M334.0,84.4h.7v.7h-.7z M328.0,99.2h.7v.7h-.7z M309.2,65.5h.7v.7h-.7z M317.4,73.7h.7v.7h-.7z M333.1,99.8h.7v.7h-.7z M320.2,110.4h.7v.7h-.7z M318.9,71.8h.7v.7h-.7z M313.8,71.5h.7v.7h-.7z M324.9,65.2h.7v.7h-.7z M326.4,104.7h.7v.7h-.7z M312.2,81.8h.7v.7h-.7z M298.0,83.7h.7v.7h-.7z M301.3,83.9h.7v.7h-.7z M297.8,80.2h.7v.7h-.7z M318.1,70.5h.7v.7h-.7z M332.0,67.5h.7v.7h-.7z M322.4,110.8h.7v.7h-.7z M321.4,111.7h.7v.7h-.7z M322.7,111.3h.7v.7h-.7z M324.6,106.9h.7v.7h-.7z M348.2,97.1h.7v.7h-.7z M323.7,89.7h.7v.7h-.7z M297.8,82.3h.7v.7h-.7z M323.8,104.1h.7v.7h-.7z M298.0,72.9h.7v.7h-.7z M297.4,83.3h.7v.7h-.7z M316.4,85.3h.7v.7h-.7z M321.6,91.6h.7v.7h-.7z M305.0,83.5h.7v.7h-.7z M299.8,81.6h.7v.7h-.7z M298.8,79.7h.7v.7h-.7z M325.7,99.2h.7v.7h-.7z M301.7,80.1h.7v.7h-.7z M308.6,77.4h.7v.7h-.7z M322.6,80.0h.7v.7h-.7z M309.1,77.6h.7v.7h-.7z M317.0,73.4h.7v.7h-.7z M310.3,79.5h.7v.7h-.7z M303.7,81.7h.7v.7h-.7z M312.2,73.9h.7v.7h-.7z M301.9,84.1h.7v.7h-.7z M299.7,75.5h.7v.7h-.7z M321.2,80.9h.7v.7h-.7z M311.7,78.9h.7v.7h-.7z M308.7,74.9h.7v.7h-.7z M323.4,74.2h.7v.7h-.7z M313.2,82.9h.7v.7h-.7z M296.2,79.3h.7v.7h-.7z M308.5,84.3h.7v.7h-.7z M327.0,79.5h.7v.7h-.7z M312.3,75.6h.7v.7h-.7z M326.8,79.9h.7v.7h-.7z M319.2,75.7h.7v.7h-.7z M321.0,76.7h.7v.7h-.7z M323.8,75.7h.7v.7h-.7z M320.5,76.6h.7v.7h-.7z M308.8,78.9h.7v.7h-.7z M318.1,70.7h.7v.7h-.7z M316.2,76.6h.7v.7h-.7z M325.9,74.4h.7v.7h-.7z M308.5,77.3h.7v.7h-.7z M303.3,84.5h.7v.7h-.7z M318.7,80.4h.7v.7h-.7z M317.8,80.4h.7v.7h-.7z M313.8,78.1h.7v.7h-.7z M327.1,81.3h.7v.7h-.7z M309.2,77.2h.7v.7h-.7z M310.7,72.0h.7v.7h-.7z M302.1,75.0h.7v.7h-.7z M303.8,77.3h.7v.7h-.7z M313.3,77.9h.7v.7h-.7z M322.5,79.5h.7v.7h-.7z M303.3,70.1h.7v.7h-.7z M314.6,70.9h.7v.7h-.7z M302.2,75.8h.7v.7h-.7z M316.0,78.8h.7v.7h-.7z M317.4,78.5h.7v.7h-.7z M325.8,73.9h.7v.7h-.7z M313.9,74.3h.7v.7h-.7z M310.4,68.2h.7v.7h-.7z M313.4,80.0h.7v.7h-.7z M308.8,73.7h.7v.7h-.7z M310.4,81.1h.7v.7h-.7z M298.6,70.3h.7v.7h-.7z M300.3,77.9h.7v.7h-.7z M308.7,75.7h.7v.7h-.7z M309.6,75.0h.7v.7h-.7z M313.4,79.3h.7v.7h-.7z M321.4,82.1h.7v.7h-.7z M304.1,70.8h.7v.7h-.7z M301.7,79.7h.7v.7h-.7z M321.5,76.7h.7v.7h-.7z M310.6,75.3h.7v.7h-.7z M315.4,82.3h.7v.7h-.7z M320.6,76.1h.7v.7h-.7z M301.1,80.8h.7v.7h-.7z M328.2,76.3h.7v.7h-.7z M315.7,77.7h.7v.7h-.7z M305.5,72.3h.7v.7h-.7z M311.8,82.0h.7v.7h-.7z M311.4,77.3h.7v.7h-.7z M319.5,78.2h.7v.7h-.7z M319.3,86.3h.7v.7h-.7z M311.5,78.6h.7v.7h-.7z M317.6,76.2h.7v.7h-.7z M312.9,76.6h.7v.7h-.7z M300.1,75.1h.7v.7h-.7z M317.9,78.3h.7v.7h-.7z M316.8,73.1h.7v.7h-.7z M308.9,78.0h.7v.7h-.7z M316.5,75.9h.7v.7h-.7z M310.5,77.7h.7v.7h-.7z M309.0,82.5h.7v.7h-.7z M301.2,81.3h.7v.7h-.7z M329.0,83.2h.7v.7h-.7z M326.5,80.1h.7v.7h-.7z M310.7,75.2h.7v.7h-.7z M306.9,75.6h.7v.7h-.7z M328.3,81.3h.7v.7h-.7z M312.8,77.6h.7v.7h-.7z M300.1,79.1h.7v.7h-.7z M305.8,79.0h.7v.7h-.7z M305.5,82.3h.7v.7h-.7z M308.2,80.2h.7v.7h-.7z M301.6,78.0h.7v.7h-.7z M319.7,82.4h.7v.7h-.7z M307.0,81.1h.7v.7h-.7z M300.1,73.9h.7v.7h-.7z M297.8,82.8h.7v.7h-.7z M327.8,76.6h.7v.7h-.7z M324.7,76.2h.7v.7h-.7z M310.7,82.4h.7v.7h-.7z M326.9,79.9h.7v.7h-.7z M321.6,83.1h.7v.7h-.7z M309.3,76.5h.7v.7h-.7z M309.0,79.2h.7v.7h-.7z M323.4,79.6h.7v.7h-.7z M301.4,67.0h.7v.7h-.7z M310.0,80.8h.7v.7h-.7z M321.6,78.2h.7v.7h-.7z M320.3,82.1h.7v.7h-.7z M307.9,79.3h.7v.7h-.7z M332.2,71.0h.7v.7h-.7z M331.5,55.0h.7v.7h-.7z M339.2,90.5h.7v.7h-.7z M317.7,75.5h.7v.7h-.7z M344.3,62.4h.7v.7h-.7z M320.2,81.5h.7v.7h-.7z M323.5,76.7h.7v.7h-.7z M365.2,72.0h.7v.7h-.7z M335.2,90.4h.7v.7h-.7z M363.5,82.8h.7v.7h-.7z M357.1,71.6h.7v.7h-.7z M333.5,71.1h.7v.7h-.7z M341.2,52.6h.7v.7h-.7z M333.4,63.3h.7v.7h-.7z M335.7,72.1h.7v.7h-.7z M319.6,67.2h.7v.7h-.7z M332.3,72.6h.7v.7h-.7z M324.3,73.2h.7v.7h-.7z M339.9,52.8h.7v.7h-.7z M326.1,66.8h.7v.7h-.7z M335.2,66.5h.7v.7h-.7z M322.3,50.2h.7v.7h-.7z M328.2,87.8h.7v.7h-.7z M333.9,74.6h.7v.7h-.7z M330.9,50.3h.7v.7h-.7z M322.4,62.5h.7v.7h-.7z M348.8,62.8h.7v.7h-.7z M341.7,63.1h.7v.7h-.7z M330.4,84.4h.7v.7h-.7z M354.7,80.9h.7v.7h-.7z M350.6,66.1h.7v.7h-.7z M323.1,83.5h.7v.7h-.7z M340.2,94.4h.7v.7h-.7z M324.2,58.2h.7v.7h-.7z M330.4,74.7h.7v.7h-.7z M338.4,67.2h.7v.7h-.7z M325.3,71.2h.7v.7h-.7z M320.7,68.3h.7v.7h-.7z M333.3,70.1h.7v.7h-.7z M308.7,59.6h.7v.7h-.7z"/>
<g transform="translate(296.0,41.0)" fill="none" stroke-linecap="round"><radialGradient id="rg2"><stop offset="0" stop-color="#000" stop-opacity="0.28"/><stop offset="0.6" stop-color="#000" stop-opacity="0.12"/><stop offset="1" stop-color="#000" stop-opacity="0"/></radialGradient><ellipse cx="51.5" cy="34.5" rx="10" ry="8.5" fill="url(#rg2)" stroke="none"/><ellipse cx="49" cy="50" rx="5" ry="7" fill="url(#rg2)" stroke="none" opacity="0.6"/><path d="M1.3,48 L1.3,72" stroke="#000" stroke-width="1.2"/><path d="M3,64 Q10,63 17,61.5" stroke="#111" stroke-width="1.5"/><path d="M3,66.5 Q10,66 16,64.5" stroke="#333" stroke-width="0.7"/><path d="M3,61 Q10,60 18,58.5" stroke="#444" stroke-width="0.6"/></g>
</g>
<clipPath id="cb2"><rect x="296.0" y="174.2" width="72.0" height="72.5"/></clipPath>
<g clip-path="url(#cb2)" stroke="#111" stroke-width="0.45" stroke-linejoin="round">
<path fill="none" stroke="#888" d="M314.0,242.0 311.5,242.1 310.8,241.8 310.2,241.2 308.6,238.2 306.4,232.4 305.7,228.4 305.8,225.7 305.5,222.7 305.7,220.2 305.5,217.2 305.7,210.7 307.1,204.2 308.4,199.7 309.5,197.2 311.2,194.7 314.0,193.3 314.8,193.2 315.5,193.7 317.3,195.9 320.0,203.7 321.2,205.5 322.2,206.3 324.0,206.1 326.5,206.4 331.0,205.5 334.8,204.3 338.2,203.7 342.0,202.1 346.8,201.3 347.8,201.4 350.2,202.4 353.1,204.4 353.4,205.2 353.4,206.7 354.0,207.9 353.8,208.7 353.0,209.2 351.0,208.9 350.6,209.4 350.1,211.2 349.6,211.9 346.7,214.2 344.9,214.9 343.2,216.3 338.4,217.9 336.2,219.4 334.0,219.8 330.0,222.4 327.5,224.5 325.5,224.8 323.8,225.8 322.0,226.0 321.5,226.4 321.0,227.4 320.9,229.7 320.4,231.7 318.8,235.0 317.8,237.9 316.1,240.4 314.0,242.0Z"/>
<path fill="none" stroke="#888" d="M313.2,241.5 311.8,241.3 310.8,240.7 309.6,239.2 308.6,237.2 306.7,231.7 306.1,228.4 305.9,222.9 306.1,220.2 305.8,215.7 306.2,209.9 307.3,204.4 308.8,199.7 309.8,197.8 311.8,195.3 312.8,194.6 314.5,193.9 315.2,194.2 316.5,195.7 319.5,203.4 321.4,207.2 321.8,209.6 322.2,210.1 324.0,209.4 328.0,207.0 334.5,205.1 338.2,204.4 342.0,203.0 346.5,202.8 349.2,203.3 350.0,203.7 351.2,206.2 350.8,206.7 349.5,207.0 348.9,210.9 347.2,212.2 346.0,213.6 344.5,214.4 342.8,215.9 336.2,218.3 334.0,218.7 331.5,220.6 328.9,221.9 327.0,223.5 325.0,224.0 323.5,224.9 321.5,225.3 320.6,227.2 320.5,229.9 320.0,231.7 318.3,234.9 317.3,237.9 315.4,240.4 314.5,241.1 313.2,241.5Z"/>
<path fill="none" d="M313.8,240.8 312.8,240.8 311.8,240.5 310.8,239.8 309.9,238.7 307.1,231.9 306.5,227.7 306.1,217.4 306.4,210.7 307.7,204.4 309.1,199.9 310.0,198.4 312.2,196.0 313.2,195.4 314.8,195.0 315.8,195.7 317.9,199.9 320.4,206.4 321.2,210.4 322.0,211.2 324.8,210.2 328.2,208.0 331.0,207.1 333.0,206.8 335.0,205.8 342.8,203.9 344.5,203.8 345.5,204.2 346.2,205.8 347.5,206.7 347.8,207.1 347.9,209.2 347.4,210.4 346.1,211.4 345.2,212.9 342.8,215.3 336.5,217.3 334.2,217.7 326.5,222.8 324.4,223.2 321.5,224.3 320.2,227.2 320.1,230.2 319.4,232.4 317.9,234.7 316.3,238.4 315.2,239.9 313.8,240.8Z"/>
<path fill="none" d="M313.8,240.0 313.0,240.1 312.0,239.8 311.0,239.2 310.2,238.2 309.2,236.2 307.6,231.9 306.8,227.4 306.5,217.7 306.7,210.7 308.1,204.4 309.7,199.9 310.2,199.0 313.2,196.7 314.5,196.5 315.2,196.9 317.6,200.4 320.1,206.9 321.0,211.3 321.8,212.3 323.5,211.8 327.5,209.4 331.0,208.1 334.0,207.5 336.5,206.2 343.8,205.3 344.5,206.9 344.8,209.7 344.1,212.2 342.8,214.4 342.0,214.9 340.2,215.2 336.5,216.6 334.2,217.0 326.2,222.0 323.4,222.4 321.3,223.4 320.8,224.3 320.0,226.8 319.7,230.2 319.2,231.9 317.5,234.5 315.9,237.9 314.8,239.4 313.8,240.0Z"/>
<path fill="#000" fill-opacity="0.035" d="M313.2,239.0 312.5,239.1 311.5,238.7 309.7,235.9 307.9,231.7 307.1,226.9 306.9,217.7 307.1,210.7 308.3,204.9 310.6,199.4 312.5,198.3 313.5,198.1 315.0,198.6 316.8,199.9 319.7,206.9 320.8,212.5 321.5,213.3 323.0,213.0 327.2,210.5 329.0,210.1 331.2,209.0 334.4,208.2 336.8,206.9 340.5,206.7 342.8,207.8 343.1,210.4 342.2,212.2 342.2,213.4 341.8,213.9 336.8,215.8 334.2,216.3 326.2,221.0 322.8,221.8 321.0,222.8 320.2,224.4 319.5,227.5 319.2,230.4 318.7,231.9 315.5,237.1 313.2,239.0Z"/>
<path fill="#000" fill-opacity="0.035" d="M313.2,237.5 312.0,237.5 310.1,235.2 308.4,231.7 307.4,226.4 307.3,215.2 307.7,210.4 308.7,205.2 311.2,199.7 312.2,199.1 313.5,199.0 315.2,199.6 316.5,200.5 319.3,207.2 320.3,213.2 321.2,214.2 323.0,214.1 325.0,212.7 329.0,211.2 331.0,209.9 336.5,208.0 340.5,208.4 341.5,209.9 340.4,213.2 339.8,213.9 336.8,215.1 334.2,215.6 328.5,218.9 325.0,220.4 322.0,221.2 320.8,222.0 320.0,223.5 318.2,231.6 315.0,236.2 313.2,237.5Z"/>
<path fill="#000" fill-opacity="0.035" d="M313.5,236.2 312.5,236.3 311.5,235.7 309.4,232.4 308.8,231.2 308.5,228.9 307.8,226.4 308.0,219.7 307.7,215.2 308.2,210.9 309.2,205.4 311.7,200.2 312.5,199.8 313.5,199.8 315.2,200.4 316.1,201.2 318.6,206.4 319.2,208.7 319.8,213.4 321.2,215.9 323.8,216.0 325.5,215.5 327.0,213.7 331.0,210.8 335.5,209.1 337.0,209.0 339.6,210.4 339.7,211.2 339.5,212.4 338.8,213.4 336.5,214.3 334.5,214.6 330.8,216.4 328.8,218.0 324.2,219.8 320.8,220.1 319.8,222.3 319.3,225.7 318.0,230.7 317.0,232.4 315.5,233.9 314.5,235.4 313.5,236.2Z"/>
<path fill="#000" fill-opacity="0.035" d="M313.2,235.2 312.0,234.9 310.1,232.2 309.4,230.7 309.1,228.9 308.3,226.9 308.6,219.9 308.2,217.7 308.1,215.2 309.8,205.9 311.1,202.9 312.2,201.1 313.0,200.7 314.2,201.1 315.5,202.0 316.6,203.4 318.0,206.2 318.8,208.9 319.2,213.2 319.9,216.9 319.3,219.2 318.9,225.7 317.9,229.4 316.5,231.7 314.8,233.2 313.9,234.7 313.2,235.2Z M328.8,217.0 327.8,217.1 327.4,216.4 328.0,214.7 329.3,213.2 333.5,210.5 335.8,209.8 336.8,210.2 337.2,211.2 336.8,212.2 334.2,213.0 332.5,214.6 330.0,215.7 328.8,217.0Z M324.0,218.2 323.8,217.9 324.1,217.7 324.8,217.7 324.0,218.2Z"/>
<path fill="#000" fill-opacity="0.035" d="M313.0,232.8 312.0,232.5 310.9,231.4 309.0,226.9 309.0,224.4 309.4,221.9 309.4,220.4 308.8,217.4 308.7,214.9 309.5,212.4 309.7,210.2 311.3,203.9 312.5,202.4 313.5,202.0 314.5,202.3 315.8,203.4 317.5,206.7 318.4,209.4 318.4,213.2 319.1,216.7 318.4,218.9 318.4,225.4 317.6,228.7 316.5,230.4 313.0,232.8Z"/>
<path fill="#000" fill-opacity="0.035" d="M313.0,230.5 312.0,230.2 310.0,226.7 309.9,224.4 310.6,222.2 310.4,219.2 309.6,217.2 309.8,214.4 310.7,212.2 310.5,210.2 311.9,205.7 312.0,204.2 312.5,203.4 313.5,203.0 314.5,203.3 315.5,204.2 317.7,209.4 317.8,211.2 317.1,212.9 317.8,214.7 318.1,216.7 317.3,218.9 317.6,220.4 317.4,222.4 317.7,225.4 317.1,228.4 316.0,229.8 313.0,230.5Z"/>
<path fill="#000" fill-opacity="0.035" d="M315.0,229.2 313.8,229.3 313.0,229.1 312.3,228.2 311.9,226.7 312.7,224.9 312.9,222.9 311.8,220.7 313.3,218.9 313.4,216.4 313.0,215.7 311.5,215.2 311.2,214.4 312.6,210.2 312.3,208.2 313.0,206.4 313.0,204.4 313.5,204.1 314.5,204.7 315.7,208.4 316.8,210.7 316.0,212.4 316.2,214.7 315.7,215.9 315.7,217.7 315.0,219.2 316.1,220.9 316.3,221.9 316.3,227.7 316.0,228.7 315.0,229.2Z"/>
</g><g clip-path="url(#cb2)">
<path fill="#666" d="M314.4,187.9h.7v.7h-.7z M322.0,228.3h.7v.7h-.7z M304.6,221.7h.7v.7h-.7z M343.5,220.9h.7v.7h-.7z M301.7,208.8h.7v.7h-.7z M325.1,202.6h.7v.7h-.7z M348.1,213.5h.7v.7h-.7z M304.9,206.6h.7v.7h-.7z M300.8,193.8h.7v.7h-.7z M312.4,182.6h.7v.7h-.7z M324.1,225.4h.7v.7h-.7z M306.8,234.6h.7v.7h-.7z M309.6,192.6h.7v.7h-.7z M355.3,211.6h.7v.7h-.7z M304.7,223.7h.7v.7h-.7z M304.5,199.8h.7v.7h-.7z M307.5,243.0h.7v.7h-.7z M321.3,228.0h.7v.7h-.7z M304.5,222.8h.7v.7h-.7z M361.9,202.3h.7v.7h-.7z M297.5,243.0h.7v.7h-.7z M304.2,222.8h.7v.7h-.7z M310.5,186.3h.7v.7h-.7z M318.7,238.6h.7v.7h-.7z M320.1,190.9h.7v.7h-.7z M355.8,199.5h.7v.7h-.7z M307.1,196.8h.7v.7h-.7z M304.7,210.5h.7v.7h-.7z M314.9,193.5h.7v.7h-.7z M311.4,241.6h.7v.7h-.7z M306.7,244.2h.7v.7h-.7z M300.2,212.0h.7v.7h-.7z M309.4,189.7h.7v.7h-.7z M304.6,210.8h.7v.7h-.7z M299.5,226.1h.7v.7h-.7z M321.2,234.5h.7v.7h-.7z M318.4,242.6h.7v.7h-.7z M318.5,199.4h.7v.7h-.7z M309.1,241.5h.7v.7h-.7z M301.6,183.1h.7v.7h-.7z M305.0,219.2h.7v.7h-.7z M319.7,190.5h.7v.7h-.7z M313.5,189.4h.7v.7h-.7z M341.4,197.3h.7v.7h-.7z M332.3,196.2h.7v.7h-.7z M354.5,214.2h.7v.7h-.7z M341.3,220.9h.7v.7h-.7z M303.5,178.6h.7v.7h-.7z M304.9,210.0h.7v.7h-.7z M305.9,208.2h.7v.7h-.7z M303.5,223.7h.7v.7h-.7z M325.9,186.9h.7v.7h-.7z M313.8,184.1h.7v.7h-.7z M342.4,201.3h.7v.7h-.7z M324.6,205.0h.7v.7h-.7z M305.4,220.0h.7v.7h-.7z M303.4,227.7h.7v.7h-.7z M305.6,203.4h.7v.7h-.7z M314.1,191.5h.7v.7h-.7z M303.6,228.9h.7v.7h-.7z M327.1,194.3h.7v.7h-.7z M303.6,212.0h.7v.7h-.7z M324.2,197.3h.7v.7h-.7z M339.7,219.2h.7v.7h-.7z M320.1,238.9h.7v.7h-.7z M341.7,216.7h.7v.7h-.7z M313.7,181.2h.7v.7h-.7z M321.8,194.5h.7v.7h-.7z M305.0,240.0h.7v.7h-.7z M321.2,203.8h.7v.7h-.7z M305.5,220.1h.7v.7h-.7z M338.0,200.9h.7v.7h-.7z M319.7,190.6h.7v.7h-.7z M308.8,192.8h.7v.7h-.7z M338.0,200.0h.7v.7h-.7z M298.0,216.9h.7v.7h-.7z M303.7,183.5h.7v.7h-.7z M322.8,191.9h.7v.7h-.7z M318.2,188.5h.7v.7h-.7z M305.0,205.7h.7v.7h-.7z M320.9,233.8h.7v.7h-.7z M349.0,217.4h.7v.7h-.7z M330.3,222.6h.7v.7h-.7z M329.4,232.9h.7v.7h-.7z M341.3,220.6h.7v.7h-.7z M328.3,223.2h.7v.7h-.7z M337.0,229.5h.7v.7h-.7z M322.5,201.6h.7v.7h-.7z M340.0,230.3h.7v.7h-.7z M333.6,191.7h.7v.7h-.7z M332.9,228.2h.7v.7h-.7z M328.3,239.3h.7v.7h-.7z M322.2,202.8h.7v.7h-.7z M302.3,220.9h.7v.7h-.7z M324.0,196.8h.7v.7h-.7z M327.9,190.2h.7v.7h-.7z M305.6,204.0h.7v.7h-.7z M316.6,242.0h.7v.7h-.7z M329.3,244.2h.7v.7h-.7z M326.2,196.3h.7v.7h-.7z M326.8,231.0h.7v.7h-.7z M318.8,197.8h.7v.7h-.7z M330.2,222.1h.7v.7h-.7z M332.5,226.6h.7v.7h-.7z M325.6,201.5h.7v.7h-.7z M304.9,196.4h.7v.7h-.7z M304.1,193.4h.7v.7h-.7z M302.3,213.9h.7v.7h-.7z M333.0,194.7h.7v.7h-.7z M330.3,201.8h.7v.7h-.7z M354.8,229.3h.7v.7h-.7z M341.5,197.6h.7v.7h-.7z M320.6,235.5h.7v.7h-.7z M325.8,198.3h.7v.7h-.7z M328.3,238.9h.7v.7h-.7z M327.0,181.1h.7v.7h-.7z M303.4,178.6h.7v.7h-.7z M304.6,217.2h.7v.7h-.7z M324.5,191.1h.7v.7h-.7z M338.6,222.1h.7v.7h-.7z M324.7,227.1h.7v.7h-.7z M340.2,220.0h.7v.7h-.7z M323.8,206.0h.7v.7h-.7z M329.8,222.2h.7v.7h-.7z M299.4,222.2h.7v.7h-.7z M330.6,233.5h.7v.7h-.7z M303.0,217.2h.7v.7h-.7z M309.3,197.3h.7v.7h-.7z M334.2,232.3h.7v.7h-.7z M338.2,235.8h.7v.7h-.7z"/>
<g transform="translate(296.0,174.2)" fill="none" stroke-linecap="round"><path d="M18.0,28.0 C19.3,28.2 20.8,29.7 21.5,32.0 C22.2,34.3 22.6,39.2 22.5,42.0 C22.4,44.8 20.9,46.3 20.8,48.5 C20.7,50.7 22.5,53.2 22.0,55.0 C21.5,56.8 19.4,59.0 18.0,59.5 C16.6,60.0 14.4,59.4 13.5,58.0 C12.6,56.6 12.3,52.8 12.3,51.0 C12.3,49.2 13.6,49.5 13.5,47.5 C13.4,45.5 12.0,41.8 12.0,39.0 C12.0,36.2 12.5,32.8 13.5,31.0 C14.5,29.2 16.7,27.8 18.0,28.0Z" stroke="#000" stroke-width="0.8"/><path d="M19.0,28.5 C19.3,23.6 17.0,27.9 16.0,28.5 C15.0,29.1 13.7,30.1 13.0,32.0 C12.3,33.9 11.9,37.4 12.0,40.0 C12.1,42.6 13.4,45.3 13.5,47.5 C13.6,49.7 12.4,51.2 12.5,53.0 C12.6,54.8 12.9,62.1 14.0,58.0" stroke="#000" stroke-width="1.7"/></g>
</g>
<clipPath id="ct3"><rect x="400.4" y="41.0" width="72.0" height="72.5"/></clipPath>
<g clip-path="url(#ct3)" stroke="#111" stroke-width="0.45" stroke-linejoin="round">
<path fill="none" d="M448.6,104.0 447.4,104.0 443.4,102.4 442.0,101.0 441.5,97.8 441.4,95.2 440.8,93.2 441.0,90.8 440.5,87.8 440.6,84.8 440.0,82.8 440.1,80.5 439.5,79.0 437.2,77.0 436.3,74.8 436.5,74.2 437.6,73.2 439.1,70.7 440.6,69.6 443.1,68.3 444.9,66.6 445.6,66.3 447.6,66.5 449.6,66.0 453.9,67.1 456.4,68.6 457.2,71.5 459.5,75.5 460.0,77.2 459.0,80.8 458.1,82.2 456.9,83.2 453.6,85.0 452.8,85.8 452.6,87.8 453.2,90.0 452.1,95.0 452.5,98.0 451.9,100.2 450.4,103.0 448.6,104.0Z M420.4,113.5 401.4,113.7 400.4,113.7 400.2,113.5 400.4,84.7 401.6,83.8 403.6,84.3 405.9,82.9 407.9,83.6 410.4,83.9 411.5,83.0 412.7,82.5 413.0,81.2 412.4,80.0 411.9,79.9 410.4,80.5 409.1,80.6 408.4,80.1 408.3,79.2 409.1,78.0 410.5,77.0 410.6,75.6 411.7,74.8 413.0,72.5 415.4,70.2 417.6,69.4 418.4,69.6 419.8,70.8 420.6,71.1 425.4,72.0 427.9,71.8 430.6,74.0 431.4,75.8 431.1,76.4 428.6,78.8 427.6,81.2 427.1,81.8 425.9,82.4 421.6,82.9 420.9,83.5 420.5,84.2 420.8,85.0 423.6,87.2 424.6,88.8 426.1,89.8 426.6,90.5 427.3,94.0 429.0,100.0 428.6,101.5 427.0,104.0 427.0,106.2 426.8,107.5 423.9,110.0 422.4,112.0 420.4,113.5Z"/>
<path fill="none" d="M448.6,102.1 447.6,101.9 445.1,100.0 443.8,97.8 443.5,95.5 442.2,92.8 442.1,90.2 441.5,87.5 441.7,86.5 442.9,84.9 443.1,83.8 439.6,77.2 439.3,76.0 439.6,72.5 440.4,71.5 444.0,69.5 445.6,67.9 447.4,68.1 450.6,67.8 453.4,69.1 455.4,70.9 457.7,75.5 458.1,79.0 457.8,80.5 456.9,81.7 453.7,82.8 451.3,84.8 451.5,91.0 451.2,92.8 450.5,94.5 451.3,96.8 451.4,97.8 448.6,102.1Z M423.1,80.5 419.4,80.7 417.6,79.5 415.4,79.0 414.0,75.8 414.8,74.0 416.1,73.2 418.9,72.5 420.6,73.7 422.9,73.4 426.1,74.9 426.5,75.5 425.7,77.2 425.9,79.5 425.3,80.0 423.1,80.5Z M418.1,113.5 401.4,113.7 400.4,113.7 400.2,113.5 400.3,88.5 400.4,86.3 401.4,85.1 402.0,85.0 403.4,85.7 405.6,85.1 407.6,85.8 409.1,85.6 414.6,85.6 416.9,85.2 420.6,87.5 422.6,88.4 424.1,90.2 424.5,91.5 424.4,93.8 425.1,97.8 425.4,98.3 426.4,98.6 426.8,99.0 427.2,100.0 427.1,101.0 425.9,102.8 425.5,105.8 422.3,110.5 421.4,111.4 419.6,112.2 418.1,113.5Z"/>
<path fill="none" d="M449.4,97.5 448.4,97.3 446.9,97.6 445.9,97.1 443.5,93.0 443.2,87.2 444.5,84.8 444.7,83.5 442.8,80.0 441.4,78.2 441.1,77.2 441.9,74.5 442.1,72.8 442.8,71.5 444.1,70.6 446.1,70.2 448.4,69.4 450.1,69.6 454.1,71.7 455.5,74.8 456.1,77.8 455.8,78.8 454.6,80.4 450.8,82.8 449.9,84.0 449.5,86.0 450.0,87.8 450.3,91.5 450.1,92.5 448.9,94.5 449.8,97.0 449.4,97.5Z M420.1,78.1 419.4,78.2 416.9,77.4 416.5,76.8 416.9,75.8 417.4,75.3 418.1,75.2 420.6,76.2 420.6,77.2 420.1,78.1Z M416.6,113.5 401.4,113.7 400.2,113.5 400.2,91.0 400.4,87.7 401.1,87.0 401.9,86.9 403.1,87.4 405.6,86.6 410.9,86.9 413.4,86.5 417.1,86.7 418.9,87.6 420.4,89.8 422.1,90.8 423.8,95.8 423.6,98.2 424.5,101.2 424.4,104.2 423.6,106.0 422.2,107.8 421.4,109.8 419.4,111.0 416.6,113.5Z"/>
<path fill="#000" fill-opacity="0.05" d="M448.1,83.1 447.6,83.2 445.6,80.5 443.0,78.2 442.6,77.0 443.3,74.8 443.4,72.8 443.9,72.0 444.9,71.5 446.9,71.5 448.1,70.8 448.9,70.8 450.9,71.5 453.7,74.2 454.2,75.2 454.3,77.0 452.8,79.8 448.1,83.1Z M447.1,94.6 446.4,94.7 445.4,94.1 444.9,93.2 444.7,92.2 445.2,88.5 446.1,87.3 447.1,86.9 447.9,87.1 448.7,88.0 449.0,91.8 448.6,92.8 447.1,94.6Z M415.4,113.5 401.4,113.7 400.2,113.5 400.2,91.8 400.4,89.1 401.1,88.4 403.1,88.5 405.1,87.9 407.6,87.5 410.9,88.3 413.9,87.6 417.1,88.0 418.1,88.5 419.1,90.6 421.1,92.4 422.4,95.5 422.5,98.2 423.1,103.2 423.0,104.5 420.5,108.8 415.4,113.5Z"/>
<path fill="#000" fill-opacity="0.05" d="M450.1,80.1 447.4,79.6 445.6,78.7 444.5,77.8 444.3,76.5 445.4,73.4 447.1,72.9 449.9,73.0 450.9,73.5 452.3,75.0 452.7,76.0 452.4,77.6 451.6,78.7 450.1,80.1Z M414.4,113.5 400.2,113.5 400.2,92.2 400.4,90.3 401.1,89.6 404.9,89.2 407.6,89.3 410.1,90.2 411.4,90.4 412.7,90.2 414.6,89.4 415.6,89.5 416.6,90.0 417.6,90.9 420.9,95.5 421.3,96.8 421.4,99.2 420.8,102.5 421.3,105.0 419.5,108.0 414.4,113.5Z M447.1,93.2 446.4,93.1 446.1,92.5 446.3,91.2 446.9,90.4 447.4,90.8 447.7,91.8 447.6,92.5 447.1,93.2Z"/>
<path fill="#000" fill-opacity="0.05" d="M448.9,78.3 447.9,78.2 445.6,77.0 445.5,76.2 445.8,75.5 446.9,74.2 447.6,74.0 448.6,74.2 449.6,74.8 450.4,75.8 450.4,77.0 448.9,78.3Z M413.1,113.5 400.3,113.5 400.3,93.0 400.4,91.2 400.9,90.9 401.6,90.6 403.4,90.9 404.9,90.5 406.4,90.6 409.9,92.1 412.1,92.0 414.4,91.1 415.4,91.2 416.9,92.2 418.4,95.2 419.5,96.5 419.8,99.2 419.3,101.2 419.9,103.8 419.8,104.8 418.2,107.8 416.1,109.8 414.9,112.0 413.1,113.5Z"/>
<path fill="#000" fill-opacity="0.05" d="M448.4,76.5 447.3,76.0 447.3,75.5 447.6,75.1 448.4,75.1 448.9,75.5 448.9,76.2 448.4,76.5Z M411.4,113.5 410.1,113.5 408.1,112.7 405.6,113.1 403.6,112.6 402.1,113.5 400.9,113.5 400.4,113.0 400.3,93.5 400.4,92.2 400.9,91.8 402.1,91.8 403.1,93.2 403.6,93.4 406.6,92.8 407.6,93.1 409.6,94.4 411.1,94.6 412.9,95.2 413.6,95.1 415.1,94.3 415.9,94.4 416.4,95.0 416.6,96.0 416.0,97.8 416.3,98.5 417.1,99.3 417.2,100.8 418.5,103.5 418.6,104.5 417.2,107.2 414.9,109.8 414.1,111.4 411.4,113.5Z"/>
<path fill="#000" fill-opacity="0.05" d="M410.4,112.3 408.1,111.6 406.1,111.8 404.1,111.1 401.9,111.5 400.4,110.9 400.5,99.0 401.2,96.8 400.6,94.5 401.1,93.3 402.6,94.8 404.2,95.2 404.6,97.0 405.6,98.2 407.4,98.1 408.9,97.1 409.9,97.3 411.4,97.0 412.7,99.0 414.6,100.1 415.4,101.8 416.3,103.0 416.5,104.5 415.6,107.3 413.1,109.5 411.8,111.5 410.4,112.3Z M403.8,97.0 403.6,96.5 403.0,96.5 403.1,97.0 403.8,97.0Z"/>
<path fill="#000" fill-opacity="0.05" d="M409.6,110.3 408.1,110.1 406.4,110.3 403.9,109.7 401.6,110.2 400.4,109.6 400.4,104.9 401.9,101.9 403.1,101.8 407.9,100.0 412.3,101.8 413.1,103.2 414.4,104.2 414.5,105.0 414.0,105.5 411.9,105.9 410.5,109.5 410.1,110.1 409.6,110.3Z"/>
<path fill="#000" fill-opacity="0.05" d="M406.9,108.3 405.6,108.3 404.4,107.8 404.0,107.0 403.7,105.2 405.4,102.8 406.1,102.2 407.1,102.0 408.9,102.8 409.5,103.5 408.8,105.2 408.6,107.0 407.9,107.8 406.9,108.3Z"/>
</g><g clip-path="url(#ct3)">
<path fill="#666" d="M424.8,62.9h.7v.7h-.7z M429.1,108.9h.7v.7h-.7z M433.7,72.5h.7v.7h-.7z M406.1,76.8h.7v.7h-.7z M430.6,110.5h.7v.7h-.7z M401.2,83.3h.7v.7h-.7z M427.8,105.5h.7v.7h-.7z M427.2,91.5h.7v.7h-.7z M425.4,109.1h.7v.7h-.7z M425.7,81.9h.7v.7h-.7z M426.5,109.1h.7v.7h-.7z M420.3,112.6h.7v.7h-.7z M421.5,112.3h.7v.7h-.7z M420.9,85.4h.7v.7h-.7z M421.8,112.0h.7v.7h-.7z M405.2,82.7h.7v.7h-.7z M434.3,63.5h.7v.7h-.7z M425.2,53.8h.7v.7h-.7z M427.8,105.2h.7v.7h-.7z M434.2,65.1h.7v.7h-.7z M403.8,72.5h.7v.7h-.7z M400.6,79.1h.7v.7h-.7z M423.3,82.7h.7v.7h-.7z M432.4,96.3h.7v.7h-.7z M429.7,78.9h.7v.7h-.7z M403.6,77.2h.7v.7h-.7z M433.7,81.1h.7v.7h-.7z M411.9,71.4h.7v.7h-.7z M406.9,71.8h.7v.7h-.7z M401.3,82.8h.7v.7h-.7z M404.8,72.5h.7v.7h-.7z M430.6,97.6h.7v.7h-.7z M430.9,83.5h.7v.7h-.7z M427.4,104.4h.7v.7h-.7z M407.0,81.5h.7v.7h-.7z M420.8,67.1h.7v.7h-.7z M424.9,71.6h.7v.7h-.7z M403.7,80.3h.7v.7h-.7z M431.4,77.3h.7v.7h-.7z M436.6,68.2h.7v.7h-.7z M405.9,81.9h.7v.7h-.7z M400.8,74.3h.7v.7h-.7z M421.2,70.4h.7v.7h-.7z M429.3,87.1h.7v.7h-.7z M407.1,76.1h.7v.7h-.7z M402.1,80.9h.7v.7h-.7z M428.2,82.0h.7v.7h-.7z M402.3,83.3h.7v.7h-.7z M410.1,74.3h.7v.7h-.7z M411.8,76.4h.7v.7h-.7z M423.1,87.0h.7v.7h-.7z M408.3,77.2h.7v.7h-.7z M431.6,97.0h.7v.7h-.7z M407.3,81.3h.7v.7h-.7z M438.8,69.6h.7v.7h-.7z M427.9,103.4h.7v.7h-.7z M429.3,94.6h.7v.7h-.7z M403.2,79.8h.7v.7h-.7z M411.2,74.2h.7v.7h-.7z M430.0,77.0h.7v.7h-.7z M426.0,111.3h.7v.7h-.7z M409.0,82.1h.7v.7h-.7z M429.6,83.5h.7v.7h-.7z M402.2,80.6h.7v.7h-.7z M420.6,70.7h.7v.7h-.7z M409.1,83.3h.7v.7h-.7z M408.5,81.9h.7v.7h-.7z M418.7,82.9h.7v.7h-.7z M429.2,94.0h.7v.7h-.7z M427.5,112.5h.7v.7h-.7z M401.5,83.5h.7v.7h-.7z M430.8,100.0h.7v.7h-.7z M409.8,77.9h.7v.7h-.7z M408.5,79.3h.7v.7h-.7z M425.4,112.2h.7v.7h-.7z M428.0,91.7h.7v.7h-.7z M409.2,78.2h.7v.7h-.7z M403.5,62.3h.7v.7h-.7z M436.5,74.0h.7v.7h-.7z M427.4,95.0h.7v.7h-.7z M424.2,69.9h.7v.7h-.7z M411.6,68.9h.7v.7h-.7z M438.6,90.3h.7v.7h-.7z M423.6,67.0h.7v.7h-.7z M424.8,112.3h.7v.7h-.7z M402.7,84.0h.7v.7h-.7z M439.9,69.8h.7v.7h-.7z M413.3,68.4h.7v.7h-.7z M435.4,76.1h.7v.7h-.7z M434.6,78.0h.7v.7h-.7z M405.4,82.8h.7v.7h-.7z M410.3,77.5h.7v.7h-.7z M427.0,81.5h.7v.7h-.7z M434.8,69.5h.7v.7h-.7z M410.3,76.9h.7v.7h-.7z M423.1,112.5h.7v.7h-.7z M406.8,75.9h.7v.7h-.7z M438.7,63.8h.7v.7h-.7z M424.9,85.3h.7v.7h-.7z M433.5,74.6h.7v.7h-.7z M433.4,92.4h.7v.7h-.7z M412.6,83.8h.7v.7h-.7z M405.9,63.6h.7v.7h-.7z M425.9,90.7h.7v.7h-.7z M419.0,67.9h.7v.7h-.7z M416.0,66.0h.7v.7h-.7z M408.2,75.2h.7v.7h-.7z M410.8,75.5h.7v.7h-.7z M427.3,111.3h.7v.7h-.7z M403.3,81.0h.7v.7h-.7z M426.5,111.6h.7v.7h-.7z M431.8,74.7h.7v.7h-.7z M424.0,109.2h.7v.7h-.7z M405.1,76.3h.7v.7h-.7z M402.7,72.8h.7v.7h-.7z M421.0,112.6h.7v.7h-.7z M428.5,68.8h.7v.7h-.7z M414.7,66.5h.7v.7h-.7z M428.1,69.5h.7v.7h-.7z M428.8,68.5h.7v.7h-.7z M409.3,82.3h.7v.7h-.7z M401.6,83.6h.7v.7h-.7z M425.6,90.7h.7v.7h-.7z M424.0,111.9h.7v.7h-.7z M421.8,112.5h.7v.7h-.7z M422.5,70.2h.7v.7h-.7z M433.3,80.3h.7v.7h-.7z M410.1,71.3h.7v.7h-.7z M432.9,105.2h.7v.7h-.7z M424.1,67.0h.7v.7h-.7z M408.3,71.7h.7v.7h-.7z M426.9,104.8h.7v.7h-.7z M401.0,77.4h.7v.7h-.7z M428.8,99.5h.7v.7h-.7z M406.1,79.5h.7v.7h-.7z M406.5,83.9h.7v.7h-.7z M432.7,101.2h.7v.7h-.7z M435.1,77.0h.7v.7h-.7z M403.6,76.0h.7v.7h-.7z M433.4,104.7h.7v.7h-.7z M441.0,61.0h.7v.7h-.7z M409.7,72.1h.7v.7h-.7z M406.6,75.3h.7v.7h-.7z M427.6,110.2h.7v.7h-.7z M428.2,94.5h.7v.7h-.7z M427.9,77.4h.7v.7h-.7z M422.3,69.8h.7v.7h-.7z M436.2,81.0h.7v.7h-.7z M444.0,105.6h.7v.7h-.7z M437.1,79.3h.7v.7h-.7z M409.8,83.1h.7v.7h-.7z M401.3,74.2h.7v.7h-.7z M412.7,81.1h.7v.7h-.7z M431.3,78.1h.7v.7h-.7z M423.5,81.7h.7v.7h-.7z M423.9,85.8h.7v.7h-.7z M432.4,77.0h.7v.7h-.7z M421.1,82.6h.7v.7h-.7z M407.6,81.6h.7v.7h-.7z M435.4,77.8h.7v.7h-.7z M408.3,71.3h.7v.7h-.7z M405.5,74.0h.7v.7h-.7z M429.5,80.1h.7v.7h-.7z M407.7,68.9h.7v.7h-.7z M431.1,71.5h.7v.7h-.7z M408.0,74.3h.7v.7h-.7z M431.0,82.2h.7v.7h-.7z M405.8,75.3h.7v.7h-.7z M404.5,78.8h.7v.7h-.7z M406.5,69.5h.7v.7h-.7z M406.7,80.7h.7v.7h-.7z M406.8,81.3h.7v.7h-.7z M427.2,80.8h.7v.7h-.7z M406.0,74.9h.7v.7h-.7z M418.0,82.6h.7v.7h-.7z M406.9,77.8h.7v.7h-.7z M429.6,81.1h.7v.7h-.7z M406.7,81.4h.7v.7h-.7z M411.4,72.9h.7v.7h-.7z M410.1,77.7h.7v.7h-.7z M431.0,80.2h.7v.7h-.7z M404.5,73.8h.7v.7h-.7z M405.9,78.9h.7v.7h-.7z M438.7,79.3h.7v.7h-.7z M412.6,82.8h.7v.7h-.7z M402.2,80.3h.7v.7h-.7z M407.8,79.1h.7v.7h-.7z M410.4,75.5h.7v.7h-.7z M413.7,83.9h.7v.7h-.7z M400.9,74.6h.7v.7h-.7z M430.3,76.9h.7v.7h-.7z M420.5,84.0h.7v.7h-.7z M411.3,77.4h.7v.7h-.7z M412.0,79.6h.7v.7h-.7z M405.2,79.5h.7v.7h-.7z M408.8,72.9h.7v.7h-.7z M428.9,83.8h.7v.7h-.7z M408.2,72.0h.7v.7h-.7z M407.5,76.7h.7v.7h-.7z M427.6,80.3h.7v.7h-.7z M437.6,80.9h.7v.7h-.7z M411.8,79.2h.7v.7h-.7z M409.1,79.9h.7v.7h-.7z M418.0,82.7h.7v.7h-.7z M411.7,73.3h.7v.7h-.7z M431.4,75.3h.7v.7h-.7z M404.8,80.4h.7v.7h-.7z M430.2,79.8h.7v.7h-.7z M437.0,75.6h.7v.7h-.7z M429.2,79.9h.7v.7h-.7z M422.1,71.1h.7v.7h-.7z M430.5,79.5h.7v.7h-.7z M401.6,78.5h.7v.7h-.7z M407.5,77.1h.7v.7h-.7z M407.2,77.0h.7v.7h-.7z M405.8,79.1h.7v.7h-.7z M433.9,78.2h.7v.7h-.7z M423.7,84.0h.7v.7h-.7z M425.7,70.4h.7v.7h-.7z M411.2,78.5h.7v.7h-.7z M428.9,83.2h.7v.7h-.7z M421.0,82.8h.7v.7h-.7z M404.9,72.9h.7v.7h-.7z M411.5,80.2h.7v.7h-.7z M404.6,78.6h.7v.7h-.7z M405.3,79.0h.7v.7h-.7z M400.8,80.8h.7v.7h-.7z M410.3,75.8h.7v.7h-.7z M428.2,71.1h.7v.7h-.7z M403.5,77.5h.7v.7h-.7z M412.9,79.1h.7v.7h-.7z M410.6,80.6h.7v.7h-.7z M410.2,72.2h.7v.7h-.7z M410.4,81.0h.7v.7h-.7z M412.5,77.7h.7v.7h-.7z M425.0,70.4h.7v.7h-.7z M401.4,74.4h.7v.7h-.7z M431.0,82.4h.7v.7h-.7z M401.6,80.6h.7v.7h-.7z M433.7,79.3h.7v.7h-.7z M427.4,78.7h.7v.7h-.7z M410.6,80.5h.7v.7h-.7z M430.5,79.5h.7v.7h-.7z M429.8,73.6h.7v.7h-.7z M427.1,70.9h.7v.7h-.7z M431.0,76.9h.7v.7h-.7z M405.9,81.2h.7v.7h-.7z M407.3,77.1h.7v.7h-.7z M432.0,82.4h.7v.7h-.7z M412.7,82.4h.7v.7h-.7z M402.2,80.9h.7v.7h-.7z M405.5,78.0h.7v.7h-.7z M435.7,82.3h.7v.7h-.7z M420.2,82.5h.7v.7h-.7z M403.4,74.0h.7v.7h-.7z M433.3,77.0h.7v.7h-.7z M412.1,78.3h.7v.7h-.7z M410.5,75.4h.7v.7h-.7z M412.0,79.0h.7v.7h-.7z M435.0,78.1h.7v.7h-.7z M469.7,77.8h.7v.7h-.7z M439.5,62.0h.7v.7h-.7z M430.7,61.2h.7v.7h-.7z M425.0,62.9h.7v.7h-.7z M428.2,59.0h.7v.7h-.7z M415.9,69.8h.7v.7h-.7z M429.8,99.3h.7v.7h-.7z M431.4,76.7h.7v.7h-.7z M453.1,55.6h.7v.7h-.7z M462.3,79.0h.7v.7h-.7z M427.1,77.7h.7v.7h-.7z M440.2,100.3h.7v.7h-.7z M461.1,75.6h.7v.7h-.7z M444.1,61.9h.7v.7h-.7z M438.8,87.5h.7v.7h-.7z M430.7,58.9h.7v.7h-.7z M447.8,61.7h.7v.7h-.7z M431.9,78.1h.7v.7h-.7z M449.5,65.4h.7v.7h-.7z M429.6,77.8h.7v.7h-.7z M433.4,78.2h.7v.7h-.7z M424.7,65.8h.7v.7h-.7z M449.9,63.4h.7v.7h-.7z M438.0,90.8h.7v.7h-.7z M435.1,88.7h.7v.7h-.7z M430.8,74.1h.7v.7h-.7z M452.1,63.8h.7v.7h-.7z M426.9,48.3h.7v.7h-.7z M455.2,86.4h.7v.7h-.7z M427.3,68.7h.7v.7h-.7z M452.7,67.0h.7v.7h-.7z M438.6,61.7h.7v.7h-.7z M435.3,84.7h.7v.7h-.7z M422.8,70.8h.7v.7h-.7z M441.9,60.5h.7v.7h-.7z M433.9,71.1h.7v.7h-.7z M406.8,62.1h.7v.7h-.7z M430.3,54.9h.7v.7h-.7z M434.2,64.1h.7v.7h-.7z M437.7,65.4h.7v.7h-.7z"/>
<g transform="translate(400.4,41.0)" fill="none" stroke-linecap="round"><radialGradient id="rg3"><stop offset="0" stop-color="#000" stop-opacity="0.28"/><stop offset="0.6" stop-color="#000" stop-opacity="0.12"/><stop offset="1" stop-color="#000" stop-opacity="0"/></radialGradient><ellipse cx="48" cy="34.8" rx="10" ry="8.5" fill="url(#rg3)" stroke="none"/><ellipse cx="46.7" cy="51" rx="5" ry="7" fill="url(#rg3)" stroke="none" opacity="0.6"/><path d="M1.3,46 L1.3,72" stroke="#111" stroke-width="1.1"/><path d="M1.5,67 Q8,62 15.4,58.2" stroke="#111" stroke-width="1.2"/><path d="M1.5,64 Q8,59 14,56" stroke="#333" stroke-width="0.7"/><path d="M1.5,69.5 Q9,65.5 17,61.5" stroke="#444" stroke-width="0.6"/></g>
</g>
<clipPath id="cb3"><rect x="400.6" y="174.2" width="72.0" height="72.5"/></clipPath>
<g clip-path="url(#cb3)" stroke="#111" stroke-width="0.45" stroke-linejoin="round">
<path fill="none" stroke="#888" d="M418.1,246.7 413.8,246.7 411.8,244.7 409.8,239.2 408.0,230.4 408.4,219.9 407.8,216.4 407.6,212.7 408.2,209.2 409.5,204.7 412.3,197.9 412.9,195.2 415.3,192.4 416.1,192.1 417.4,192.5 418.5,193.7 420.3,197.2 421.4,200.7 422.7,202.7 423.6,203.4 425.1,203.6 427.6,202.5 431.1,201.9 439.4,203.5 440.8,204.2 442.6,205.6 443.9,206.3 447.1,206.5 450.1,207.5 453.1,208.9 453.7,209.4 454.7,212.2 454.2,213.4 453.4,214.3 445.6,218.9 441.9,220.0 439.1,221.4 436.9,222.1 433.9,222.2 431.9,223.3 429.9,223.0 426.4,223.9 425.6,224.4 424.9,225.4 424.3,226.9 423.4,233.4 421.3,240.9 420.8,244.4 419.9,245.9 418.1,246.7Z"/>
<path fill="none" stroke="#888" d="M416.9,246.7 415.1,246.7 412.4,244.4 410.2,238.9 408.5,230.4 408.7,219.9 408.2,216.7 408.0,212.7 408.6,209.2 409.7,205.2 412.8,198.2 413.4,195.7 415.6,193.3 416.4,192.9 417.1,193.1 417.9,193.9 420.0,197.7 421.1,201.3 422.4,203.4 423.4,204.2 424.9,204.6 427.9,203.3 430.9,202.6 431.9,202.7 433.6,203.4 435.6,203.8 440.9,205.5 443.6,207.9 444.6,208.0 446.6,207.3 449.6,208.2 452.1,209.9 453.1,211.4 453.4,212.4 452.5,213.7 445.9,218.0 441.6,219.3 438.6,220.8 436.1,221.4 432.9,221.2 430.4,221.4 428.1,222.6 425.1,223.3 424.1,225.8 423.0,233.7 420.9,240.9 420.4,243.9 419.5,245.2 416.9,246.7Z"/>
<path fill="none" d="M416.6,246.0 415.4,245.8 412.6,243.7 410.5,238.4 408.9,230.4 408.9,222.7 409.1,220.2 408.4,212.4 409.0,208.9 410.3,204.9 413.2,198.9 413.9,196.7 414.6,195.7 416.6,194.2 417.4,194.7 419.5,197.9 420.5,201.2 421.9,203.8 424.1,205.7 424.9,205.7 429.1,203.7 431.1,203.5 431.6,203.7 432.9,205.2 433.4,205.2 434.9,204.7 435.6,204.7 437.1,205.3 438.4,206.2 440.9,206.9 442.6,208.5 444.4,209.4 445.6,211.0 446.4,210.7 447.4,209.2 448.9,209.1 449.5,209.7 450.1,211.6 451.6,211.5 452.1,212.2 451.8,212.7 449.9,213.8 445.9,217.1 441.4,218.6 438.4,219.9 435.6,220.4 430.6,220.1 427.9,221.5 424.4,221.8 424.0,222.7 422.8,233.2 420.4,240.7 419.9,243.4 418.9,244.7 416.6,246.0Z"/>
<path fill="none" d="M416.6,245.2 415.4,244.9 413.4,243.6 412.6,242.7 411.2,239.2 409.9,234.2 409.3,230.2 409.1,225.9 409.4,220.2 408.7,212.4 409.5,208.4 410.9,204.4 413.6,199.9 414.6,197.2 416.4,195.9 417.4,196.5 419.1,198.4 420.0,201.7 423.0,206.4 423.1,208.2 423.4,208.7 424.1,208.8 424.8,208.4 425.5,206.9 426.1,206.3 429.1,204.5 430.4,204.4 432.9,206.7 435.6,206.0 436.4,206.3 437.4,207.2 439.1,207.4 440.1,207.8 443.1,210.3 444.3,213.2 443.9,215.7 443.5,216.4 442.6,217.1 439.1,218.6 438.1,218.8 433.6,218.4 430.9,218.8 429.9,219.2 428.4,220.3 427.4,220.6 426.1,220.5 424.9,219.6 424.4,220.0 423.4,221.9 423.0,229.2 422.4,233.4 420.0,240.4 419.3,243.2 418.4,244.3 416.6,245.2Z"/>
<path fill="#000" fill-opacity="0.035" d="M416.6,244.2 415.9,244.2 414.1,243.3 412.9,242.0 411.4,238.2 410.2,233.9 409.5,226.7 409.8,220.4 409.1,212.4 409.9,208.2 411.3,204.7 413.1,201.9 414.7,200.2 415.4,198.1 415.9,197.6 416.6,197.4 417.6,197.9 418.6,199.1 419.3,201.4 422.0,206.4 422.4,209.1 423.1,209.9 423.9,210.0 424.9,209.5 425.6,208.9 426.6,207.4 430.1,205.7 431.1,206.4 432.4,208.3 433.4,208.4 435.1,207.6 436.6,208.7 438.9,209.0 440.1,210.2 440.8,211.9 442.4,212.6 442.6,213.7 442.1,215.5 438.9,217.4 435.6,217.5 433.6,217.0 431.9,217.4 429.9,217.3 428.8,217.7 427.9,219.1 427.4,219.3 426.9,219.2 425.1,217.7 424.4,217.8 423.9,218.1 423.4,219.3 423.0,221.4 422.7,228.7 422.1,232.9 418.8,242.7 418.1,243.5 416.6,244.2Z"/>
<path fill="#000" fill-opacity="0.035" d="M416.4,243.0 414.6,242.7 413.1,241.3 411.7,237.7 410.6,233.7 409.8,226.7 410.1,220.7 409.4,212.4 410.2,208.4 411.9,204.7 414.4,201.8 416.9,200.0 417.4,200.0 418.0,200.4 420.7,205.2 421.2,206.9 421.6,209.4 423.1,212.9 425.2,210.4 427.1,208.7 428.1,208.4 429.9,209.3 433.9,209.6 437.6,210.3 438.0,210.9 437.7,212.7 438.6,214.4 438.1,215.4 437.1,216.0 433.9,215.0 431.6,216.2 428.4,216.5 426.6,216.9 424.5,215.9 423.4,214.2 423.1,213.9 422.9,214.2 422.5,215.4 422.9,217.2 422.5,219.9 422.4,228.4 421.8,232.4 418.1,241.8 417.6,242.4 416.4,243.0Z"/>
<path fill="#000" fill-opacity="0.035" d="M416.1,241.5 414.6,241.3 413.6,240.6 412.3,237.7 411.1,233.4 410.2,226.7 410.5,220.9 409.8,212.4 410.7,208.2 412.2,205.2 415.4,202.8 417.4,202.3 418.9,203.0 419.9,204.9 420.9,209.4 421.7,211.7 422.1,228.4 421.4,232.4 420.3,234.4 418.9,238.4 417.9,240.2 416.1,241.5Z M428.6,213.0 427.6,212.9 427.0,212.2 427.0,210.9 427.6,210.4 428.6,210.6 429.7,211.7 429.4,212.4 428.6,213.0Z M431.4,214.5 430.6,214.4 430.9,213.2 430.6,211.9 431.1,211.4 431.9,211.3 432.3,211.7 432.4,212.9 432.1,213.7 431.4,214.5Z"/>
<path fill="#000" fill-opacity="0.035" d="M416.1,240.0 414.4,239.8 413.0,237.9 411.1,230.7 410.6,226.4 411.0,220.9 410.2,212.4 411.1,208.4 412.6,205.8 415.9,203.9 417.6,203.5 418.6,204.0 419.5,205.4 420.1,209.3 421.0,211.7 420.8,216.7 421.7,228.4 420.9,232.2 419.8,234.2 418.1,238.4 417.4,239.5 416.1,240.0Z"/>
<path fill="#000" fill-opacity="0.035" d="M416.4,238.7 414.9,238.8 413.7,237.7 412.6,233.1 411.6,230.4 411.1,226.4 411.4,221.2 411.2,218.9 411.3,216.7 410.7,212.7 411.4,208.9 412.9,206.6 413.9,205.8 416.9,204.7 418.0,204.9 418.8,205.9 419.4,209.9 420.2,211.9 420.2,213.9 419.5,215.9 419.8,217.9 419.6,219.7 420.7,222.4 421.3,228.7 420.5,231.7 418.7,234.4 417.1,238.1 416.4,238.7Z"/>
<path fill="#000" fill-opacity="0.035" d="M415.9,236.0 415.4,236.2 414.9,235.8 412.2,229.9 411.6,226.2 412.0,220.9 411.8,218.7 412.3,216.4 411.5,214.7 411.3,212.7 412.4,208.7 414.0,206.7 415.9,205.9 417.1,206.4 418.1,207.7 418.4,209.2 418.3,211.4 419.2,213.2 418.9,214.4 417.5,216.2 417.5,216.7 418.3,217.7 418.3,218.4 417.9,219.1 416.7,219.7 416.6,220.2 416.9,220.6 418.6,221.2 419.5,222.2 420.8,228.7 420.7,229.9 420.1,231.2 416.9,235.3 415.9,236.0Z"/>
<path fill="#000" fill-opacity="0.035" d="M415.4,216.6 414.4,216.6 413.1,215.2 412.3,211.7 413.0,209.9 415.1,207.5 415.6,207.4 416.4,207.8 417.1,208.9 416.8,211.7 417.4,213.7 415.4,216.6Z M416.4,233.7 415.6,233.4 413.6,231.2 412.2,226.9 412.4,222.7 413.0,220.9 413.0,219.4 413.6,218.9 414.4,219.0 414.8,219.4 415.2,221.2 415.6,221.8 416.4,222.2 417.6,222.2 418.4,222.7 419.3,224.7 419.6,226.7 420.1,228.7 419.8,230.2 417.4,233.0 416.4,233.7Z"/>
</g><g clip-path="url(#cb3)">
<path fill="#666" d="M419.0,181.3h.7v.7h-.7z M406.7,179.4h.7v.7h-.7z M424.6,195.0h.7v.7h-.7z M408.3,232.2h.7v.7h-.7z M404.8,211.5h.7v.7h-.7z M413.1,184.2h.7v.7h-.7z M407.3,212.8h.7v.7h-.7z M422.2,243.2h.7v.7h-.7z M406.4,243.1h.7v.7h-.7z M425.0,240.6h.7v.7h-.7z M406.1,223.1h.7v.7h-.7z M407.6,216.1h.7v.7h-.7z M407.4,208.5h.7v.7h-.7z M427.3,200.9h.7v.7h-.7z M411.8,179.6h.7v.7h-.7z M408.7,192.6h.7v.7h-.7z M406.0,236.2h.7v.7h-.7z M416.9,179.3h.7v.7h-.7z M421.1,191.9h.7v.7h-.7z M411.5,190.5h.7v.7h-.7z M413.6,187.2h.7v.7h-.7z M408.9,203.3h.7v.7h-.7z M424.0,200.0h.7v.7h-.7z M414.0,185.6h.7v.7h-.7z M410.4,196.8h.7v.7h-.7z M406.2,226.1h.7v.7h-.7z M420.9,190.7h.7v.7h-.7z M403.7,217.8h.7v.7h-.7z M414.0,190.7h.7v.7h-.7z M406.1,198.7h.7v.7h-.7z M401.1,229.7h.7v.7h-.7z M422.2,199.1h.7v.7h-.7z M416.0,191.3h.7v.7h-.7z M408.8,196.5h.7v.7h-.7z M424.0,177.2h.7v.7h-.7z M406.3,189.9h.7v.7h-.7z M426.0,201.6h.7v.7h-.7z M457.4,208.5h.7v.7h-.7z M416.7,179.3h.7v.7h-.7z M425.6,235.5h.7v.7h-.7z M425.4,181.7h.7v.7h-.7z M404.5,218.4h.7v.7h-.7z M424.7,235.3h.7v.7h-.7z M427.1,202.8h.7v.7h-.7z M403.5,181.9h.7v.7h-.7z M406.4,231.5h.7v.7h-.7z M402.5,208.9h.7v.7h-.7z M404.5,212.5h.7v.7h-.7z M418.6,194.6h.7v.7h-.7z M413.9,193.6h.7v.7h-.7z M460.9,208.2h.7v.7h-.7z M412.3,179.2h.7v.7h-.7z M416.1,178.3h.7v.7h-.7z M409.9,191.4h.7v.7h-.7z M407.9,205.8h.7v.7h-.7z M427.1,201.4h.7v.7h-.7z M408.3,232.7h.7v.7h-.7z M409.9,199.5h.7v.7h-.7z M420.9,195.1h.7v.7h-.7z M412.1,197.0h.7v.7h-.7z M407.2,241.0h.7v.7h-.7z M410.6,179.8h.7v.7h-.7z M406.0,208.8h.7v.7h-.7z M410.1,245.1h.7v.7h-.7z M449.8,201.0h.7v.7h-.7z M413.5,190.2h.7v.7h-.7z M424.0,191.5h.7v.7h-.7z M423.7,189.8h.7v.7h-.7z M401.1,230.3h.7v.7h-.7z M406.7,192.8h.7v.7h-.7z M436.4,200.0h.7v.7h-.7z M410.2,178.5h.7v.7h-.7z M422.7,190.3h.7v.7h-.7z M413.3,190.7h.7v.7h-.7z M424.8,234.3h.7v.7h-.7z M423.9,238.4h.7v.7h-.7z M408.3,206.2h.7v.7h-.7z M435.1,200.5h.7v.7h-.7z M418.0,187.0h.7v.7h-.7z M423.8,182.9h.7v.7h-.7z M406.5,200.0h.7v.7h-.7z M423.0,200.5h.7v.7h-.7z M434.5,227.8h.7v.7h-.7z M432.2,244.0h.7v.7h-.7z M428.9,228.9h.7v.7h-.7z M425.7,232.0h.7v.7h-.7z M451.8,219.3h.7v.7h-.7z M411.6,198.0h.7v.7h-.7z M432.3,225.0h.7v.7h-.7z M427.2,237.5h.7v.7h-.7z M437.4,229.0h.7v.7h-.7z M442.4,226.4h.7v.7h-.7z M431.0,231.7h.7v.7h-.7z M443.5,229.3h.7v.7h-.7z M451.3,233.0h.7v.7h-.7z M424.6,240.3h.7v.7h-.7z M423.9,231.8h.7v.7h-.7z M432.4,224.8h.7v.7h-.7z M434.8,229.2h.7v.7h-.7z M454.1,223.8h.7v.7h-.7z M442.0,231.7h.7v.7h-.7z M426.5,229.3h.7v.7h-.7z M460.6,205.2h.7v.7h-.7z M448.4,184.0h.7v.7h-.7z M433.3,229.0h.7v.7h-.7z M436.3,195.6h.7v.7h-.7z M433.5,230.7h.7v.7h-.7z M423.1,237.5h.7v.7h-.7z M406.6,212.3h.7v.7h-.7z M415.1,191.3h.7v.7h-.7z M449.9,200.9h.7v.7h-.7z M449.0,230.6h.7v.7h-.7z M423.9,233.2h.7v.7h-.7z M424.7,227.6h.7v.7h-.7z M423.9,240.7h.7v.7h-.7z M428.0,231.5h.7v.7h-.7z M455.1,208.4h.7v.7h-.7z M462.9,211.1h.7v.7h-.7z M459.7,215.1h.7v.7h-.7z M442.0,227.5h.7v.7h-.7z M434.4,236.2h.7v.7h-.7z M445.2,192.3h.7v.7h-.7z M456.1,211.9h.7v.7h-.7z M452.3,221.9h.7v.7h-.7z M459.9,221.2h.7v.7h-.7z M425.0,226.7h.7v.7h-.7z M435.5,226.3h.7v.7h-.7z M435.5,198.3h.7v.7h-.7z M425.3,199.3h.7v.7h-.7z M405.3,222.8h.7v.7h-.7z"/>
<g transform="translate(400.6,174.2)" fill="none" stroke-linecap="round"><path d="M16.0,29.5 C17.4,29.7 19.2,30.8 20.0,33.0 C20.8,35.2 21.0,40.2 21.0,43.0 C21.0,45.8 19.8,47.7 19.8,50.0 C19.8,52.3 21.6,54.8 21.0,57.0 C20.4,59.2 18.1,62.8 16.5,63.5 C14.9,64.2 12.5,62.8 11.5,61.0 C10.5,59.2 10.5,55.0 10.5,53.0 C10.5,51.0 11.6,51.2 11.5,49.0 C11.4,46.8 10.0,42.8 10.0,40.0 C10.0,37.2 10.5,33.8 11.5,32.0 C12.5,30.2 14.6,29.3 16.0,29.5Z" stroke="#000" stroke-width="0.8"/><path d="M18.0,30.5 C18.2,25.2 15.2,30.1 14.0,30.5 C12.8,30.9 11.7,31.4 11.0,33.0 C10.3,34.6 9.9,37.3 10.0,40.0 C10.1,42.7 11.4,46.3 11.5,49.0 C11.6,51.7 10.4,53.8 10.7,56.0 C10.9,58.2 11.8,66.2 13.0,62.0" stroke="#000" stroke-width="1.7"/></g>
</g>
<rect x="84.5" y="41.0" width="72.0" height="72.5" fill="none" stroke="#555" stroke-width="0.9"/>
<line x1="114.0" y1="41.0" x2="114.0" y2="113.5" stroke="#555" stroke-width="0.9"/>
<line x1="84.5" y1="83.6" x2="156.5" y2="83.6" stroke="#555" stroke-width="0.9"/>
<line x1="82.90" y1="113.50" x2="84.5" y2="113.50" stroke="#444" stroke-width="0.6"/>
<line x1="84.50" y1="113.5" x2="84.50" y2="115.10" stroke="#444" stroke-width="0.6"/>
<line x1="83.60" y1="108.04" x2="84.5" y2="108.04" stroke="#444" stroke-width="0.6"/>
<line x1="89.92" y1="113.5" x2="89.92" y2="114.40" stroke="#444" stroke-width="0.6"/>
<line x1="83.60" y1="104.85" x2="84.5" y2="104.85" stroke="#444" stroke-width="0.6"/>
<line x1="93.09" y1="113.5" x2="93.09" y2="114.40" stroke="#444" stroke-width="0.6"/>
<line x1="83.60" y1="102.59" x2="84.5" y2="102.59" stroke="#444" stroke-width="0.6"/>
<line x1="95.34" y1="113.5" x2="95.34" y2="114.40" stroke="#444" stroke-width="0.6"/>
<line x1="83.60" y1="100.83" x2="84.5" y2="100.83" stroke="#444" stroke-width="0.6"/>
<line x1="97.08" y1="113.5" x2="97.08" y2="114.40" stroke="#444" stroke-width="0.6"/>
<line x1="83.60" y1="99.40" x2="84.5" y2="99.40" stroke="#444" stroke-width="0.6"/>
<line x1="98.51" y1="113.5" x2="98.51" y2="114.40" stroke="#444" stroke-width="0.6"/>
<line x1="83.60" y1="98.18" x2="84.5" y2="98.18" stroke="#444" stroke-width="0.6"/>
<line x1="99.71" y1="113.5" x2="99.71" y2="114.40" stroke="#444" stroke-width="0.6"/>
<line x1="83.60" y1="97.13" x2="84.5" y2="97.13" stroke="#444" stroke-width="0.6"/>
<line x1="100.76" y1="113.5" x2="100.76" y2="114.40" stroke="#444" stroke-width="0.6"/>
<line x1="83.60" y1="96.20" x2="84.5" y2="96.20" stroke="#444" stroke-width="0.6"/>
<line x1="101.68" y1="113.5" x2="101.68" y2="114.40" stroke="#444" stroke-width="0.6"/>
<line x1="82.90" y1="95.38" x2="84.5" y2="95.38" stroke="#444" stroke-width="0.6"/>
<line x1="102.50" y1="113.5" x2="102.50" y2="115.10" stroke="#444" stroke-width="0.6"/>
<line x1="83.60" y1="89.92" x2="84.5" y2="89.92" stroke="#444" stroke-width="0.6"/>
<line x1="107.92" y1="113.5" x2="107.92" y2="114.40" stroke="#444" stroke-width="0.6"/>
<line x1="83.60" y1="86.73" x2="84.5" y2="86.73" stroke="#444" stroke-width="0.6"/>
<line x1="111.09" y1="113.5" x2="111.09" y2="114.40" stroke="#444" stroke-width="0.6"/>
<line x1="83.60" y1="84.46" x2="84.5" y2="84.46" stroke="#444" stroke-width="0.6"/>
<line x1="113.34" y1="113.5" x2="113.34" y2="114.40" stroke="#444" stroke-width="0.6"/>
<line x1="83.60" y1="82.71" x2="84.5" y2="82.71" stroke="#444" stroke-width="0.6"/>
<line x1="115.08" y1="113.5" x2="115.08" y2="114.40" stroke="#444" stroke-width="0.6"/>
<line x1="83.60" y1="81.27" x2="84.5" y2="81.27" stroke="#444" stroke-width="0.6"/>
<line x1="116.51" y1="113.5" x2="116.51" y2="114.40" stroke="#444" stroke-width="0.6"/>
<line x1="83.60" y1="80.06" x2="84.5" y2="80.06" stroke="#444" stroke-width="0.6"/>
<line x1="117.71" y1="113.5" x2="117.71" y2="114.40" stroke="#444" stroke-width="0.6"/>
<line x1="83.60" y1="79.01" x2="84.5" y2="79.01" stroke="#444" stroke-width="0.6"/>
<line x1="118.76" y1="113.5" x2="118.76" y2="114.40" stroke="#444" stroke-width="0.6"/>
<line x1="83.60" y1="78.08" x2="84.5" y2="78.08" stroke="#444" stroke-width="0.6"/>
<line x1="119.68" y1="113.5" x2="119.68" y2="114.40" stroke="#444" stroke-width="0.6"/>
<line x1="82.90" y1="77.25" x2="84.5" y2="77.25" stroke="#444" stroke-width="0.6"/>
<line x1="120.50" y1="113.5" x2="120.50" y2="115.10" stroke="#444" stroke-width="0.6"/>
<line x1="83.60" y1="71.79" x2="84.5" y2="71.79" stroke="#444" stroke-width="0.6"/>
<line x1="125.92" y1="113.5" x2="125.92" y2="114.40" stroke="#444" stroke-width="0.6"/>
<line x1="83.60" y1="68.60" x2="84.5" y2="68.60" stroke="#444" stroke-width="0.6"/>
<line x1="129.09" y1="113.5" x2="129.09" y2="114.40" stroke="#444" stroke-width="0.6"/>
<line x1="83.60" y1="66.34" x2="84.5" y2="66.34" stroke="#444" stroke-width="0.6"/>
<line x1="131.34" y1="113.5" x2="131.34" y2="114.40" stroke="#444" stroke-width="0.6"/>
<line x1="83.60" y1="64.58" x2="84.5" y2="64.58" stroke="#444" stroke-width="0.6"/>
<line x1="133.08" y1="113.5" x2="133.08" y2="114.40" stroke="#444" stroke-width="0.6"/>
<line x1="83.60" y1="63.15" x2="84.5" y2="63.15" stroke="#444" stroke-width="0.6"/>
<line x1="134.51" y1="113.5" x2="134.51" y2="114.40" stroke="#444" stroke-width="0.6"/>
<line x1="83.60" y1="61.93" x2="84.5" y2="61.93" stroke="#444" stroke-width="0.6"/>
<line x1="135.71" y1="113.5" x2="135.71" y2="114.40" stroke="#444" stroke-width="0.6"/>
<line x1="83.60" y1="60.88" x2="84.5" y2="60.88" stroke="#444" stroke-width="0.6"/>
<line x1="136.76" y1="113.5" x2="136.76" y2="114.40" stroke="#444" stroke-width="0.6"/>
<line x1="83.60" y1="59.95" x2="84.5" y2="59.95" stroke="#444" stroke-width="0.6"/>
<line x1="137.68" y1="113.5" x2="137.68" y2="114.40" stroke="#444" stroke-width="0.6"/>
<line x1="82.90" y1="59.12" x2="84.5" y2="59.12" stroke="#444" stroke-width="0.6"/>
<line x1="138.50" y1="113.5" x2="138.50" y2="115.10" stroke="#444" stroke-width="0.6"/>
<line x1="83.60" y1="53.67" x2="84.5" y2="53.67" stroke="#444" stroke-width="0.6"/>
<line x1="143.92" y1="113.5" x2="143.92" y2="114.40" stroke="#444" stroke-width="0.6"/>
<line x1="83.60" y1="50.48" x2="84.5" y2="50.48" stroke="#444" stroke-width="0.6"/>
<line x1="147.09" y1="113.5" x2="147.09" y2="114.40" stroke="#444" stroke-width="0.6"/>
<line x1="83.60" y1="48.21" x2="84.5" y2="48.21" stroke="#444" stroke-width="0.6"/>
<line x1="149.34" y1="113.5" x2="149.34" y2="114.40" stroke="#444" stroke-width="0.6"/>
<line x1="83.60" y1="46.46" x2="84.5" y2="46.46" stroke="#444" stroke-width="0.6"/>
<line x1="151.08" y1="113.5" x2="151.08" y2="114.40" stroke="#444" stroke-width="0.6"/>
<line x1="83.60" y1="45.02" x2="84.5" y2="45.02" stroke="#444" stroke-width="0.6"/>
<line x1="152.51" y1="113.5" x2="152.51" y2="114.40" stroke="#444" stroke-width="0.6"/>
<line x1="83.60" y1="43.81" x2="84.5" y2="43.81" stroke="#444" stroke-width="0.6"/>
<line x1="153.71" y1="113.5" x2="153.71" y2="114.40" stroke="#444" stroke-width="0.6"/>
<line x1="83.60" y1="42.76" x2="84.5" y2="42.76" stroke="#444" stroke-width="0.6"/>
<line x1="154.76" y1="113.5" x2="154.76" y2="114.40" stroke="#444" stroke-width="0.6"/>
<line x1="83.60" y1="41.83" x2="84.5" y2="41.83" stroke="#444" stroke-width="0.6"/>
<line x1="155.68" y1="113.5" x2="155.68" y2="114.40" stroke="#444" stroke-width="0.6"/>
<text x="81.90" y="114.80" font-size="3.6" font-weight="bold" text-anchor="end" fill="#111" font-family='"Liberation Sans", sans-serif'>10<tspan dy="-1.5" font-size="2.6">0</tspan></text>
<text x="84.30" y="119.50" font-size="3.6" font-weight="bold" text-anchor="middle" fill="#111" font-family='"Liberation Sans", sans-serif'>10<tspan dy="-1.5" font-size="2.6">0</tspan></text>
<text x="81.90" y="96.67" font-size="3.6" font-weight="bold" text-anchor="end" fill="#111" font-family='"Liberation Sans", sans-serif'>10<tspan dy="-1.5" font-size="2.6">1</tspan></text>
<text x="102.30" y="119.50" font-size="3.6" font-weight="bold" text-anchor="middle" fill="#111" font-family='"Liberation Sans", sans-serif'>10<tspan dy="-1.5" font-size="2.6">1</tspan></text>
<text x="81.90" y="78.55" font-size="3.6" font-weight="bold" text-anchor="end" fill="#111" font-family='"Liberation Sans", sans-serif'>10<tspan dy="-1.5" font-size="2.6">2</tspan></text>
<text x="120.30" y="119.50" font-size="3.6" font-weight="bold" text-anchor="middle" fill="#111" font-family='"Liberation Sans", sans-serif'>10<tspan dy="-1.5" font-size="2.6">2</tspan></text>
<text x="81.90" y="60.42" font-size="3.6" font-weight="bold" text-anchor="end" fill="#111" font-family='"Liberation Sans", sans-serif'>10<tspan dy="-1.5" font-size="2.6">3</tspan></text>
<text x="138.30" y="119.50" font-size="3.6" font-weight="bold" text-anchor="middle" fill="#111" font-family='"Liberation Sans", sans-serif'>10<tspan dy="-1.5" font-size="2.6">3</tspan></text>
<text x="81.90" y="42.30" font-size="3.6" font-weight="bold" text-anchor="end" fill="#111" font-family='"Liberation Sans", sans-serif'>10<tspan dy="-1.5" font-size="2.6">4</tspan></text>
<text x="156.30" y="119.50" font-size="3.6" font-weight="bold" text-anchor="middle" fill="#111" font-family='"Liberation Sans", sans-serif'>10<tspan dy="-1.5" font-size="2.6">4</tspan></text>
<text x="86.1" y="50.90" font-family='"Liberation Sans", sans-serif' font-weight="bold" font-size="9.7" fill="#111">1.11</text>
<text x="155.1" y="50.90" text-anchor="end" font-family='"Liberation Sans", sans-serif' font-weight="bold" font-size="9.7" fill="#111">24</text>
<text x="86.1" y="112.30" font-family='"Liberation Sans", sans-serif' font-weight="bold" font-size="9.7" fill="#111" stroke="#fff" stroke-width="1.2" paint-order="stroke">65</text>
<text x="155.5" y="112.30" text-anchor="end" font-family='"Liberation Sans", sans-serif' font-weight="bold" font-size="9.7" fill="#111">9.85</text>
<rect x="85.0" y="174.2" width="72.0" height="72.5" fill="none" stroke="#555" stroke-width="0.9"/>
<line x1="108.0" y1="174.2" x2="108.0" y2="246.7" stroke="#555" stroke-width="0.9"/>
<line x1="85.0" y1="222.1" x2="157.0" y2="222.1" stroke="#555" stroke-width="0.9"/>
<line x1="83.40" y1="246.70" x2="85.0" y2="246.70" stroke="#444" stroke-width="0.6"/>
<line x1="85.00" y1="246.7" x2="85.00" y2="248.30" stroke="#444" stroke-width="0.6"/>
<line x1="84.10" y1="241.24" x2="85.0" y2="241.24" stroke="#444" stroke-width="0.6"/>
<line x1="90.42" y1="246.7" x2="90.42" y2="247.60" stroke="#444" stroke-width="0.6"/>
<line x1="84.10" y1="238.05" x2="85.0" y2="238.05" stroke="#444" stroke-width="0.6"/>
<line x1="93.59" y1="246.7" x2="93.59" y2="247.60" stroke="#444" stroke-width="0.6"/>
<line x1="84.10" y1="235.79" x2="85.0" y2="235.79" stroke="#444" stroke-width="0.6"/>
<line x1="95.84" y1="246.7" x2="95.84" y2="247.60" stroke="#444" stroke-width="0.6"/>
<line x1="84.10" y1="234.03" x2="85.0" y2="234.03" stroke="#444" stroke-width="0.6"/>
<line x1="97.58" y1="246.7" x2="97.58" y2="247.60" stroke="#444" stroke-width="0.6"/>
<line x1="84.10" y1="232.60" x2="85.0" y2="232.60" stroke="#444" stroke-width="0.6"/>
<line x1="99.01" y1="246.7" x2="99.01" y2="247.60" stroke="#444" stroke-width="0.6"/>
<line x1="84.10" y1="231.38" x2="85.0" y2="231.38" stroke="#444" stroke-width="0.6"/>
<line x1="100.21" y1="246.7" x2="100.21" y2="247.60" stroke="#444" stroke-width="0.6"/>
<line x1="84.10" y1="230.33" x2="85.0" y2="230.33" stroke="#444" stroke-width="0.6"/>
<line x1="101.26" y1="246.7" x2="101.26" y2="247.60" stroke="#444" stroke-width="0.6"/>
<line x1="84.10" y1="229.40" x2="85.0" y2="229.40" stroke="#444" stroke-width="0.6"/>
<line x1="102.18" y1="246.7" x2="102.18" y2="247.60" stroke="#444" stroke-width="0.6"/>
<line x1="83.40" y1="228.57" x2="85.0" y2="228.57" stroke="#444" stroke-width="0.6"/>
<line x1="103.00" y1="246.7" x2="103.00" y2="248.30" stroke="#444" stroke-width="0.6"/>
<line x1="84.10" y1="223.12" x2="85.0" y2="223.12" stroke="#444" stroke-width="0.6"/>
<line x1="108.42" y1="246.7" x2="108.42" y2="247.60" stroke="#444" stroke-width="0.6"/>
<line x1="84.10" y1="219.93" x2="85.0" y2="219.93" stroke="#444" stroke-width="0.6"/>
<line x1="111.59" y1="246.7" x2="111.59" y2="247.60" stroke="#444" stroke-width="0.6"/>
<line x1="84.10" y1="217.66" x2="85.0" y2="217.66" stroke="#444" stroke-width="0.6"/>
<line x1="113.84" y1="246.7" x2="113.84" y2="247.60" stroke="#444" stroke-width="0.6"/>
<line x1="84.10" y1="215.91" x2="85.0" y2="215.91" stroke="#444" stroke-width="0.6"/>
<line x1="115.58" y1="246.7" x2="115.58" y2="247.60" stroke="#444" stroke-width="0.6"/>
<line x1="84.10" y1="214.47" x2="85.0" y2="214.47" stroke="#444" stroke-width="0.6"/>
<line x1="117.01" y1="246.7" x2="117.01" y2="247.60" stroke="#444" stroke-width="0.6"/>
<line x1="84.10" y1="213.26" x2="85.0" y2="213.26" stroke="#444" stroke-width="0.6"/>
<line x1="118.21" y1="246.7" x2="118.21" y2="247.60" stroke="#444" stroke-width="0.6"/>
<line x1="84.10" y1="212.21" x2="85.0" y2="212.21" stroke="#444" stroke-width="0.6"/>
<line x1="119.26" y1="246.7" x2="119.26" y2="247.60" stroke="#444" stroke-width="0.6"/>
<line x1="84.10" y1="211.28" x2="85.0" y2="211.28" stroke="#444" stroke-width="0.6"/>
<line x1="120.18" y1="246.7" x2="120.18" y2="247.60" stroke="#444" stroke-width="0.6"/>
<line x1="83.40" y1="210.45" x2="85.0" y2="210.45" stroke="#444" stroke-width="0.6"/>
<line x1="121.00" y1="246.7" x2="121.00" y2="248.30" stroke="#444" stroke-width="0.6"/>
<line x1="84.10" y1="204.99" x2="85.0" y2="204.99" stroke="#444" stroke-width="0.6"/>
<line x1="126.42" y1="246.7" x2="126.42" y2="247.60" stroke="#444" stroke-width="0.6"/>
<line x1="84.10" y1="201.80" x2="85.0" y2="201.80" stroke="#444" stroke-width="0.6"/>
<line x1="129.59" y1="246.7" x2="129.59" y2="247.60" stroke="#444" stroke-width="0.6"/>
<line x1="84.10" y1="199.54" x2="85.0" y2="199.54" stroke="#444" stroke-width="0.6"/>
<line x1="131.84" y1="246.7" x2="131.84" y2="247.60" stroke="#444" stroke-width="0.6"/>
<line x1="84.10" y1="197.78" x2="85.0" y2="197.78" stroke="#444" stroke-width="0.6"/>
<line x1="133.58" y1="246.7" x2="133.58" y2="247.60" stroke="#444" stroke-width="0.6"/>
<line x1="84.10" y1="196.35" x2="85.0" y2="196.35" stroke="#444" stroke-width="0.6"/>
<line x1="135.01" y1="246.7" x2="135.01" y2="247.60" stroke="#444" stroke-width="0.6"/>
<line x1="84.10" y1="195.13" x2="85.0" y2="195.13" stroke="#444" stroke-width="0.6"/>
<line x1="136.21" y1="246.7" x2="136.21" y2="247.60" stroke="#444" stroke-width="0.6"/>
<line x1="84.10" y1="194.08" x2="85.0" y2="194.08" stroke="#444" stroke-width="0.6"/>
<line x1="137.26" y1="246.7" x2="137.26" y2="247.60" stroke="#444" stroke-width="0.6"/>
<line x1="84.10" y1="193.15" x2="85.0" y2="193.15" stroke="#444" stroke-width="0.6"/>
<line x1="138.18" y1="246.7" x2="138.18" y2="247.60" stroke="#444" stroke-width="0.6"/>
<line x1="83.40" y1="192.32" x2="85.0" y2="192.32" stroke="#444" stroke-width="0.6"/>
<line x1="139.00" y1="246.7" x2="139.00" y2="248.30" stroke="#444" stroke-width="0.6"/>
<line x1="84.10" y1="186.87" x2="85.0" y2="186.87" stroke="#444" stroke-width="0.6"/>
<line x1="144.42" y1="246.7" x2="144.42" y2="247.60" stroke="#444" stroke-width="0.6"/>
<line x1="84.10" y1="183.68" x2="85.0" y2="183.68" stroke="#444" stroke-width="0.6"/>
<line x1="147.59" y1="246.7" x2="147.59" y2="247.60" stroke="#444" stroke-width="0.6"/>
<line x1="84.10" y1="181.41" x2="85.0" y2="181.41" stroke="#444" stroke-width="0.6"/>
<line x1="149.84" y1="246.7" x2="149.84" y2="247.60" stroke="#444" stroke-width="0.6"/>
<line x1="84.10" y1="179.66" x2="85.0" y2="179.66" stroke="#444" stroke-width="0.6"/>
<line x1="151.58" y1="246.7" x2="151.58" y2="247.60" stroke="#444" stroke-width="0.6"/>
<line x1="84.10" y1="178.22" x2="85.0" y2="178.22" stroke="#444" stroke-width="0.6"/>
<line x1="153.01" y1="246.7" x2="153.01" y2="247.60" stroke="#444" stroke-width="0.6"/>
<line x1="84.10" y1="177.01" x2="85.0" y2="177.01" stroke="#444" stroke-width="0.6"/>
<line x1="154.21" y1="246.7" x2="154.21" y2="247.60" stroke="#444" stroke-width="0.6"/>
<line x1="84.10" y1="175.96" x2="85.0" y2="175.96" stroke="#444" stroke-width="0.6"/>
<line x1="155.26" y1="246.7" x2="155.26" y2="247.60" stroke="#444" stroke-width="0.6"/>
<line x1="84.10" y1="175.03" x2="85.0" y2="175.03" stroke="#444" stroke-width="0.6"/>
<line x1="156.18" y1="246.7" x2="156.18" y2="247.60" stroke="#444" stroke-width="0.6"/>
<text x="82.40" y="248.00" font-size="3.6" font-weight="bold" text-anchor="end" fill="#111" font-family='"Liberation Sans", sans-serif'>10<tspan dy="-1.5" font-size="2.6">0</tspan></text>
<text x="84.80" y="252.70" font-size="3.6" font-weight="bold" text-anchor="middle" fill="#111" font-family='"Liberation Sans", sans-serif'>10<tspan dy="-1.5" font-size="2.6">0</tspan></text>
<text x="82.40" y="229.88" font-size="3.6" font-weight="bold" text-anchor="end" fill="#111" font-family='"Liberation Sans", sans-serif'>10<tspan dy="-1.5" font-size="2.6">1</tspan></text>
<text x="102.80" y="252.70" font-size="3.6" font-weight="bold" text-anchor="middle" fill="#111" font-family='"Liberation Sans", sans-serif'>10<tspan dy="-1.5" font-size="2.6">1</tspan></text>
<text x="82.40" y="211.75" font-size="3.6" font-weight="bold" text-anchor="end" fill="#111" font-family='"Liberation Sans", sans-serif'>10<tspan dy="-1.5" font-size="2.6">2</tspan></text>
<text x="120.80" y="252.70" font-size="3.6" font-weight="bold" text-anchor="middle" fill="#111" font-family='"Liberation Sans", sans-serif'>10<tspan dy="-1.5" font-size="2.6">2</tspan></text>
<text x="82.40" y="193.62" font-size="3.6" font-weight="bold" text-anchor="end" fill="#111" font-family='"Liberation Sans", sans-serif'>10<tspan dy="-1.5" font-size="2.6">3</tspan></text>
<text x="138.80" y="252.70" font-size="3.6" font-weight="bold" text-anchor="middle" fill="#111" font-family='"Liberation Sans", sans-serif'>10<tspan dy="-1.5" font-size="2.6">3</tspan></text>
<text x="82.40" y="175.50" font-size="3.6" font-weight="bold" text-anchor="end" fill="#111" font-family='"Liberation Sans", sans-serif'>10<tspan dy="-1.5" font-size="2.6">4</tspan></text>
<text x="156.80" y="252.70" font-size="3.6" font-weight="bold" text-anchor="middle" fill="#111" font-family='"Liberation Sans", sans-serif'>10<tspan dy="-1.5" font-size="2.6">4</tspan></text>
<text x="86.6" y="185.30" font-family='"Liberation Sans", sans-serif' font-weight="bold" font-size="10" fill="#111">55.5</text>
<text x="155.6" y="185.30" text-anchor="end" font-family='"Liberation Sans", sans-serif' font-weight="bold" font-size="10" fill="#111">19</text>
<text x="156.0" y="245.50" text-anchor="end" font-family='"Liberation Sans", sans-serif' font-weight="bold" font-size="10" fill="#111">1.18</text>
<rect x="189.8" y="41.0" width="72.0" height="72.5" fill="none" stroke="#555" stroke-width="0.9"/>
<line x1="217.5" y1="41.0" x2="217.5" y2="113.5" stroke="#555" stroke-width="0.9"/>
<line x1="189.8" y1="84.0" x2="261.8" y2="84.0" stroke="#555" stroke-width="0.9"/>
<line x1="188.20" y1="113.50" x2="189.8" y2="113.50" stroke="#444" stroke-width="0.6"/>
<line x1="189.80" y1="113.5" x2="189.80" y2="115.10" stroke="#444" stroke-width="0.6"/>
<line x1="188.90" y1="108.04" x2="189.8" y2="108.04" stroke="#444" stroke-width="0.6"/>
<line x1="195.22" y1="113.5" x2="195.22" y2="114.40" stroke="#444" stroke-width="0.6"/>
<line x1="188.90" y1="104.85" x2="189.8" y2="104.85" stroke="#444" stroke-width="0.6"/>
<line x1="198.39" y1="113.5" x2="198.39" y2="114.40" stroke="#444" stroke-width="0.6"/>
<line x1="188.90" y1="102.59" x2="189.8" y2="102.59" stroke="#444" stroke-width="0.6"/>
<line x1="200.64" y1="113.5" x2="200.64" y2="114.40" stroke="#444" stroke-width="0.6"/>
<line x1="188.90" y1="100.83" x2="189.8" y2="100.83" stroke="#444" stroke-width="0.6"/>
<line x1="202.38" y1="113.5" x2="202.38" y2="114.40" stroke="#444" stroke-width="0.6"/>
<line x1="188.90" y1="99.40" x2="189.8" y2="99.40" stroke="#444" stroke-width="0.6"/>
<line x1="203.81" y1="113.5" x2="203.81" y2="114.40" stroke="#444" stroke-width="0.6"/>
<line x1="188.90" y1="98.18" x2="189.8" y2="98.18" stroke="#444" stroke-width="0.6"/>
<line x1="205.01" y1="113.5" x2="205.01" y2="114.40" stroke="#444" stroke-width="0.6"/>
<line x1="188.90" y1="97.13" x2="189.8" y2="97.13" stroke="#444" stroke-width="0.6"/>
<line x1="206.06" y1="113.5" x2="206.06" y2="114.40" stroke="#444" stroke-width="0.6"/>
<line x1="188.90" y1="96.20" x2="189.8" y2="96.20" stroke="#444" stroke-width="0.6"/>
<line x1="206.98" y1="113.5" x2="206.98" y2="114.40" stroke="#444" stroke-width="0.6"/>
<line x1="188.20" y1="95.38" x2="189.8" y2="95.38" stroke="#444" stroke-width="0.6"/>
<line x1="207.80" y1="113.5" x2="207.80" y2="115.10" stroke="#444" stroke-width="0.6"/>
<line x1="188.90" y1="89.92" x2="189.8" y2="89.92" stroke="#444" stroke-width="0.6"/>
<line x1="213.22" y1="113.5" x2="213.22" y2="114.40" stroke="#444" stroke-width="0.6"/>
<line x1="188.90" y1="86.73" x2="189.8" y2="86.73" stroke="#444" stroke-width="0.6"/>
<line x1="216.39" y1="113.5" x2="216.39" y2="114.40" stroke="#444" stroke-width="0.6"/>
<line x1="188.90" y1="84.46" x2="189.8" y2="84.46" stroke="#444" stroke-width="0.6"/>
<line x1="218.64" y1="113.5" x2="218.64" y2="114.40" stroke="#444" stroke-width="0.6"/>
<line x1="188.90" y1="82.71" x2="189.8" y2="82.71" stroke="#444" stroke-width="0.6"/>
<line x1="220.38" y1="113.5" x2="220.38" y2="114.40" stroke="#444" stroke-width="0.6"/>
<line x1="188.90" y1="81.27" x2="189.8" y2="81.27" stroke="#444" stroke-width="0.6"/>
<line x1="221.81" y1="113.5" x2="221.81" y2="114.40" stroke="#444" stroke-width="0.6"/>
<line x1="188.90" y1="80.06" x2="189.8" y2="80.06" stroke="#444" stroke-width="0.6"/>
<line x1="223.01" y1="113.5" x2="223.01" y2="114.40" stroke="#444" stroke-width="0.6"/>
<line x1="188.90" y1="79.01" x2="189.8" y2="79.01" stroke="#444" stroke-width="0.6"/>
<line x1="224.06" y1="113.5" x2="224.06" y2="114.40" stroke="#444" stroke-width="0.6"/>
<line x1="188.90" y1="78.08" x2="189.8" y2="78.08" stroke="#444" stroke-width="0.6"/>
<line x1="224.98" y1="113.5" x2="224.98" y2="114.40" stroke="#444" stroke-width="0.6"/>
<line x1="188.20" y1="77.25" x2="189.8" y2="77.25" stroke="#444" stroke-width="0.6"/>
<line x1="225.80" y1="113.5" x2="225.80" y2="115.10" stroke="#444" stroke-width="0.6"/>
<line x1="188.90" y1="71.79" x2="189.8" y2="71.79" stroke="#444" stroke-width="0.6"/>
<line x1="231.22" y1="113.5" x2="231.22" y2="114.40" stroke="#444" stroke-width="0.6"/>
<line x1="188.90" y1="68.60" x2="189.8" y2="68.60" stroke="#444" stroke-width="0.6"/>
<line x1="234.39" y1="113.5" x2="234.39" y2="114.40" stroke="#444" stroke-width="0.6"/>
<line x1="188.90" y1="66.34" x2="189.8" y2="66.34" stroke="#444" stroke-width="0.6"/>
<line x1="236.64" y1="113.5" x2="236.64" y2="114.40" stroke="#444" stroke-width="0.6"/>
<line x1="188.90" y1="64.58" x2="189.8" y2="64.58" stroke="#444" stroke-width="0.6"/>
<line x1="238.38" y1="113.5" x2="238.38" y2="114.40" stroke="#444" stroke-width="0.6"/>
<line x1="188.90" y1="63.15" x2="189.8" y2="63.15" stroke="#444" stroke-width="0.6"/>
<line x1="239.81" y1="113.5" x2="239.81" y2="114.40" stroke="#444" stroke-width="0.6"/>
<line x1="188.90" y1="61.93" x2="189.8" y2="61.93" stroke="#444" stroke-width="0.6"/>
<line x1="241.01" y1="113.5" x2="241.01" y2="114.40" stroke="#444" stroke-width="0.6"/>
<line x1="188.90" y1="60.88" x2="189.8" y2="60.88" stroke="#444" stroke-width="0.6"/>
<line x1="242.06" y1="113.5" x2="242.06" y2="114.40" stroke="#444" stroke-width="0.6"/>
<line x1="188.90" y1="59.95" x2="189.8" y2="59.95" stroke="#444" stroke-width="0.6"/>
<line x1="242.98" y1="113.5" x2="242.98" y2="114.40" stroke="#444" stroke-width="0.6"/>
<line x1="188.20" y1="59.12" x2="189.8" y2="59.12" stroke="#444" stroke-width="0.6"/>
<line x1="243.80" y1="113.5" x2="243.80" y2="115.10" stroke="#444" stroke-width="0.6"/>
<line x1="188.90" y1="53.67" x2="189.8" y2="53.67" stroke="#444" stroke-width="0.6"/>
<line x1="249.22" y1="113.5" x2="249.22" y2="114.40" stroke="#444" stroke-width="0.6"/>
<line x1="188.90" y1="50.48" x2="189.8" y2="50.48" stroke="#444" stroke-width="0.6"/>
<line x1="252.39" y1="113.5" x2="252.39" y2="114.40" stroke="#444" stroke-width="0.6"/>
<line x1="188.90" y1="48.21" x2="189.8" y2="48.21" stroke="#444" stroke-width="0.6"/>
<line x1="254.64" y1="113.5" x2="254.64" y2="114.40" stroke="#444" stroke-width="0.6"/>
<line x1="188.90" y1="46.46" x2="189.8" y2="46.46" stroke="#444" stroke-width="0.6"/>
<line x1="256.38" y1="113.5" x2="256.38" y2="114.40" stroke="#444" stroke-width="0.6"/>
<line x1="188.90" y1="45.02" x2="189.8" y2="45.02" stroke="#444" stroke-width="0.6"/>
<line x1="257.81" y1="113.5" x2="257.81" y2="114.40" stroke="#444" stroke-width="0.6"/>
<line x1="188.90" y1="43.81" x2="189.8" y2="43.81" stroke="#444" stroke-width="0.6"/>
<line x1="259.01" y1="113.5" x2="259.01" y2="114.40" stroke="#444" stroke-width="0.6"/>
<line x1="188.90" y1="42.76" x2="189.8" y2="42.76" stroke="#444" stroke-width="0.6"/>
<line x1="260.06" y1="113.5" x2="260.06" y2="114.40" stroke="#444" stroke-width="0.6"/>
<line x1="188.90" y1="41.83" x2="189.8" y2="41.83" stroke="#444" stroke-width="0.6"/>
<line x1="260.98" y1="113.5" x2="260.98" y2="114.40" stroke="#444" stroke-width="0.6"/>
<text x="187.20" y="114.80" font-size="3.6" font-weight="bold" text-anchor="end" fill="#111" font-family='"Liberation Sans", sans-serif'>10<tspan dy="-1.5" font-size="2.6">0</tspan></text>
<text x="189.60" y="119.50" font-size="3.6" font-weight="bold" text-anchor="middle" fill="#111" font-family='"Liberation Sans", sans-serif'>10<tspan dy="-1.5" font-size="2.6">0</tspan></text>
<text x="187.20" y="96.67" font-size="3.6" font-weight="bold" text-anchor="end" fill="#111" font-family='"Liberation Sans", sans-serif'>10<tspan dy="-1.5" font-size="2.6">1</tspan></text>
<text x="207.60" y="119.50" font-size="3.6" font-weight="bold" text-anchor="middle" fill="#111" font-family='"Liberation Sans", sans-serif'>10<tspan dy="-1.5" font-size="2.6">1</tspan></text>
<text x="187.20" y="78.55" font-size="3.6" font-weight="bold" text-anchor="end" fill="#111" font-family='"Liberation Sans", sans-serif'>10<tspan dy="-1.5" font-size="2.6">2</tspan></text>
<text x="225.60" y="119.50" font-size="3.6" font-weight="bold" text-anchor="middle" fill="#111" font-family='"Liberation Sans", sans-serif'>10<tspan dy="-1.5" font-size="2.6">2</tspan></text>
<text x="187.20" y="60.42" font-size="3.6" font-weight="bold" text-anchor="end" fill="#111" font-family='"Liberation Sans", sans-serif'>10<tspan dy="-1.5" font-size="2.6">3</tspan></text>
<text x="243.60" y="119.50" font-size="3.6" font-weight="bold" text-anchor="middle" fill="#111" font-family='"Liberation Sans", sans-serif'>10<tspan dy="-1.5" font-size="2.6">3</tspan></text>
<text x="187.20" y="42.30" font-size="3.6" font-weight="bold" text-anchor="end" fill="#111" font-family='"Liberation Sans", sans-serif'>10<tspan dy="-1.5" font-size="2.6">4</tspan></text>
<text x="261.60" y="119.50" font-size="3.6" font-weight="bold" text-anchor="middle" fill="#111" font-family='"Liberation Sans", sans-serif'>10<tspan dy="-1.5" font-size="2.6">4</tspan></text>
<text x="191.4" y="50.90" font-family='"Liberation Sans", sans-serif' font-weight="bold" font-size="9.7" fill="#111">2.42</text>
<text x="260.40000000000003" y="50.90" text-anchor="end" font-family='"Liberation Sans", sans-serif' font-weight="bold" font-size="9.7" fill="#111">18.4</text>
<text x="260.8" y="112.30" text-anchor="end" font-family='"Liberation Sans", sans-serif' font-weight="bold" font-size="9.7" fill="#111">6.17</text>
<rect x="190.0" y="174.2" width="72.0" height="72.5" fill="none" stroke="#555" stroke-width="0.9"/>
<line x1="213.0" y1="174.2" x2="213.0" y2="246.7" stroke="#555" stroke-width="0.9"/>
<line x1="190.0" y1="222.3" x2="262.0" y2="222.3" stroke="#555" stroke-width="0.9"/>
<line x1="188.40" y1="246.70" x2="190.0" y2="246.70" stroke="#444" stroke-width="0.6"/>
<line x1="190.00" y1="246.7" x2="190.00" y2="248.30" stroke="#444" stroke-width="0.6"/>
<line x1="189.10" y1="241.24" x2="190.0" y2="241.24" stroke="#444" stroke-width="0.6"/>
<line x1="195.42" y1="246.7" x2="195.42" y2="247.60" stroke="#444" stroke-width="0.6"/>
<line x1="189.10" y1="238.05" x2="190.0" y2="238.05" stroke="#444" stroke-width="0.6"/>
<line x1="198.59" y1="246.7" x2="198.59" y2="247.60" stroke="#444" stroke-width="0.6"/>
<line x1="189.10" y1="235.79" x2="190.0" y2="235.79" stroke="#444" stroke-width="0.6"/>
<line x1="200.84" y1="246.7" x2="200.84" y2="247.60" stroke="#444" stroke-width="0.6"/>
<line x1="189.10" y1="234.03" x2="190.0" y2="234.03" stroke="#444" stroke-width="0.6"/>
<line x1="202.58" y1="246.7" x2="202.58" y2="247.60" stroke="#444" stroke-width="0.6"/>
<line x1="189.10" y1="232.60" x2="190.0" y2="232.60" stroke="#444" stroke-width="0.6"/>
<line x1="204.01" y1="246.7" x2="204.01" y2="247.60" stroke="#444" stroke-width="0.6"/>
<line x1="189.10" y1="231.38" x2="190.0" y2="231.38" stroke="#444" stroke-width="0.6"/>
<line x1="205.21" y1="246.7" x2="205.21" y2="247.60" stroke="#444" stroke-width="0.6"/>
<line x1="189.10" y1="230.33" x2="190.0" y2="230.33" stroke="#444" stroke-width="0.6"/>
<line x1="206.26" y1="246.7" x2="206.26" y2="247.60" stroke="#444" stroke-width="0.6"/>
<line x1="189.10" y1="229.40" x2="190.0" y2="229.40" stroke="#444" stroke-width="0.6"/>
<line x1="207.18" y1="246.7" x2="207.18" y2="247.60" stroke="#444" stroke-width="0.6"/>
<line x1="188.40" y1="228.57" x2="190.0" y2="228.57" stroke="#444" stroke-width="0.6"/>
<line x1="208.00" y1="246.7" x2="208.00" y2="248.30" stroke="#444" stroke-width="0.6"/>
<line x1="189.10" y1="223.12" x2="190.0" y2="223.12" stroke="#444" stroke-width="0.6"/>
<line x1="213.42" y1="246.7" x2="213.42" y2="247.60" stroke="#444" stroke-width="0.6"/>
<line x1="189.10" y1="219.93" x2="190.0" y2="219.93" stroke="#444" stroke-width="0.6"/>
<line x1="216.59" y1="246.7" x2="216.59" y2="247.60" stroke="#444" stroke-width="0.6"/>
<line x1="189.10" y1="217.66" x2="190.0" y2="217.66" stroke="#444" stroke-width="0.6"/>
<line x1="218.84" y1="246.7" x2="218.84" y2="247.60" stroke="#444" stroke-width="0.6"/>
<line x1="189.10" y1="215.91" x2="190.0" y2="215.91" stroke="#444" stroke-width="0.6"/>
<line x1="220.58" y1="246.7" x2="220.58" y2="247.60" stroke="#444" stroke-width="0.6"/>
<line x1="189.10" y1="214.47" x2="190.0" y2="214.47" stroke="#444" stroke-width="0.6"/>
<line x1="222.01" y1="246.7" x2="222.01" y2="247.60" stroke="#444" stroke-width="0.6"/>
<line x1="189.10" y1="213.26" x2="190.0" y2="213.26" stroke="#444" stroke-width="0.6"/>
<line x1="223.21" y1="246.7" x2="223.21" y2="247.60" stroke="#444" stroke-width="0.6"/>
<line x1="189.10" y1="212.21" x2="190.0" y2="212.21" stroke="#444" stroke-width="0.6"/>
<line x1="224.26" y1="246.7" x2="224.26" y2="247.60" stroke="#444" stroke-width="0.6"/>
<line x1="189.10" y1="211.28" x2="190.0" y2="211.28" stroke="#444" stroke-width="0.6"/>
<line x1="225.18" y1="246.7" x2="225.18" y2="247.60" stroke="#444" stroke-width="0.6"/>
<line x1="188.40" y1="210.45" x2="190.0" y2="210.45" stroke="#444" stroke-width="0.6"/>
<line x1="226.00" y1="246.7" x2="226.00" y2="248.30" stroke="#444" stroke-width="0.6"/>
<line x1="189.10" y1="204.99" x2="190.0" y2="204.99" stroke="#444" stroke-width="0.6"/>
<line x1="231.42" y1="246.7" x2="231.42" y2="247.60" stroke="#444" stroke-width="0.6"/>
<line x1="189.10" y1="201.80" x2="190.0" y2="201.80" stroke="#444" stroke-width="0.6"/>
<line x1="234.59" y1="246.7" x2="234.59" y2="247.60" stroke="#444" stroke-width="0.6"/>
<line x1="189.10" y1="199.54" x2="190.0" y2="199.54" stroke="#444" stroke-width="0.6"/>
<line x1="236.84" y1="246.7" x2="236.84" y2="247.60" stroke="#444" stroke-width="0.6"/>
<line x1="189.10" y1="197.78" x2="190.0" y2="197.78" stroke="#444" stroke-width="0.6"/>
<line x1="238.58" y1="246.7" x2="238.58" y2="247.60" stroke="#444" stroke-width="0.6"/>
<line x1="189.10" y1="196.35" x2="190.0" y2="196.35" stroke="#444" stroke-width="0.6"/>
<line x1="240.01" y1="246.7" x2="240.01" y2="247.60" stroke="#444" stroke-width="0.6"/>
<line x1="189.10" y1="195.13" x2="190.0" y2="195.13" stroke="#444" stroke-width="0.6"/>
<line x1="241.21" y1="246.7" x2="241.21" y2="247.60" stroke="#444" stroke-width="0.6"/>
<line x1="189.10" y1="194.08" x2="190.0" y2="194.08" stroke="#444" stroke-width="0.6"/>
<line x1="242.26" y1="246.7" x2="242.26" y2="247.60" stroke="#444" stroke-width="0.6"/>
<line x1="189.10" y1="193.15" x2="190.0" y2="193.15" stroke="#444" stroke-width="0.6"/>
<line x1="243.18" y1="246.7" x2="243.18" y2="247.60" stroke="#444" stroke-width="0.6"/>
<line x1="188.40" y1="192.32" x2="190.0" y2="192.32" stroke="#444" stroke-width="0.6"/>
<line x1="244.00" y1="246.7" x2="244.00" y2="248.30" stroke="#444" stroke-width="0.6"/>
<line x1="189.10" y1="186.87" x2="190.0" y2="186.87" stroke="#444" stroke-width="0.6"/>
<line x1="249.42" y1="246.7" x2="249.42" y2="247.60" stroke="#444" stroke-width="0.6"/>
<line x1="189.10" y1="183.68" x2="190.0" y2="183.68" stroke="#444" stroke-width="0.6"/>
<line x1="252.59" y1="246.7" x2="252.59" y2="247.60" stroke="#444" stroke-width="0.6"/>
<line x1="189.10" y1="181.41" x2="190.0" y2="181.41" stroke="#444" stroke-width="0.6"/>
<line x1="254.84" y1="246.7" x2="254.84" y2="247.60" stroke="#444" stroke-width="0.6"/>
<line x1="189.10" y1="179.66" x2="190.0" y2="179.66" stroke="#444" stroke-width="0.6"/>
<line x1="256.58" y1="246.7" x2="256.58" y2="247.60" stroke="#444" stroke-width="0.6"/>
<line x1="189.10" y1="178.22" x2="190.0" y2="178.22" stroke="#444" stroke-width="0.6"/>
<line x1="258.01" y1="246.7" x2="258.01" y2="247.60" stroke="#444" stroke-width="0.6"/>
<line x1="189.10" y1="177.01" x2="190.0" y2="177.01" stroke="#444" stroke-width="0.6"/>
<line x1="259.21" y1="246.7" x2="259.21" y2="247.60" stroke="#444" stroke-width="0.6"/>
<line x1="189.10" y1="175.96" x2="190.0" y2="175.96" stroke="#444" stroke-width="0.6"/>
<line x1="260.26" y1="246.7" x2="260.26" y2="247.60" stroke="#444" stroke-width="0.6"/>
<line x1="189.10" y1="175.03" x2="190.0" y2="175.03" stroke="#444" stroke-width="0.6"/>
<line x1="261.18" y1="246.7" x2="261.18" y2="247.60" stroke="#444" stroke-width="0.6"/>
<text x="187.40" y="248.00" font-size="3.6" font-weight="bold" text-anchor="end" fill="#111" font-family='"Liberation Sans", sans-serif'>10<tspan dy="-1.5" font-size="2.6">0</tspan></text>
<text x="189.80" y="252.70" font-size="3.6" font-weight="bold" text-anchor="middle" fill="#111" font-family='"Liberation Sans", sans-serif'>10<tspan dy="-1.5" font-size="2.6">0</tspan></text>
<text x="187.40" y="229.88" font-size="3.6" font-weight="bold" text-anchor="end" fill="#111" font-family='"Liberation Sans", sans-serif'>10<tspan dy="-1.5" font-size="2.6">1</tspan></text>
<text x="207.80" y="252.70" font-size="3.6" font-weight="bold" text-anchor="middle" fill="#111" font-family='"Liberation Sans", sans-serif'>10<tspan dy="-1.5" font-size="2.6">1</tspan></text>
<text x="187.40" y="211.75" font-size="3.6" font-weight="bold" text-anchor="end" fill="#111" font-family='"Liberation Sans", sans-serif'>10<tspan dy="-1.5" font-size="2.6">2</tspan></text>
<text x="225.80" y="252.70" font-size="3.6" font-weight="bold" text-anchor="middle" fill="#111" font-family='"Liberation Sans", sans-serif'>10<tspan dy="-1.5" font-size="2.6">2</tspan></text>
<text x="187.40" y="193.62" font-size="3.6" font-weight="bold" text-anchor="end" fill="#111" font-family='"Liberation Sans", sans-serif'>10<tspan dy="-1.5" font-size="2.6">3</tspan></text>
<text x="243.80" y="252.70" font-size="3.6" font-weight="bold" text-anchor="middle" fill="#111" font-family='"Liberation Sans", sans-serif'>10<tspan dy="-1.5" font-size="2.6">3</tspan></text>
<text x="187.40" y="175.50" font-size="3.6" font-weight="bold" text-anchor="end" fill="#111" font-family='"Liberation Sans", sans-serif'>10<tspan dy="-1.5" font-size="2.6">4</tspan></text>
<text x="261.80" y="252.70" font-size="3.6" font-weight="bold" text-anchor="middle" fill="#111" font-family='"Liberation Sans", sans-serif'>10<tspan dy="-1.5" font-size="2.6">4</tspan></text>
<text x="191.6" y="185.30" font-family='"Liberation Sans", sans-serif' font-weight="bold" font-size="10" fill="#111">55.1</text>
<text x="260.6" y="185.30" text-anchor="end" font-family='"Liberation Sans", sans-serif' font-weight="bold" font-size="10" fill="#111">21.8</text>
<text x="261.0" y="245.50" text-anchor="end" font-family='"Liberation Sans", sans-serif' font-weight="bold" font-size="10" fill="#111">1.38</text>
<rect x="296.0" y="41.0" width="72.0" height="72.5" fill="none" stroke="#555" stroke-width="0.9"/>
<line x1="324.5" y1="41.0" x2="324.5" y2="113.5" stroke="#555" stroke-width="0.9"/>
<line x1="296.0" y1="84.1" x2="368.0" y2="84.1" stroke="#555" stroke-width="0.9"/>
<line x1="294.40" y1="113.50" x2="296.0" y2="113.50" stroke="#444" stroke-width="0.6"/>
<line x1="296.00" y1="113.5" x2="296.00" y2="115.10" stroke="#444" stroke-width="0.6"/>
<line x1="295.10" y1="108.04" x2="296.0" y2="108.04" stroke="#444" stroke-width="0.6"/>
<line x1="301.42" y1="113.5" x2="301.42" y2="114.40" stroke="#444" stroke-width="0.6"/>
<line x1="295.10" y1="104.85" x2="296.0" y2="104.85" stroke="#444" stroke-width="0.6"/>
<line x1="304.59" y1="113.5" x2="304.59" y2="114.40" stroke="#444" stroke-width="0.6"/>
<line x1="295.10" y1="102.59" x2="296.0" y2="102.59" stroke="#444" stroke-width="0.6"/>
<line x1="306.84" y1="113.5" x2="306.84" y2="114.40" stroke="#444" stroke-width="0.6"/>
<line x1="295.10" y1="100.83" x2="296.0" y2="100.83" stroke="#444" stroke-width="0.6"/>
<line x1="308.58" y1="113.5" x2="308.58" y2="114.40" stroke="#444" stroke-width="0.6"/>
<line x1="295.10" y1="99.40" x2="296.0" y2="99.40" stroke="#444" stroke-width="0.6"/>
<line x1="310.01" y1="113.5" x2="310.01" y2="114.40" stroke="#444" stroke-width="0.6"/>
<line x1="295.10" y1="98.18" x2="296.0" y2="98.18" stroke="#444" stroke-width="0.6"/>
<line x1="311.21" y1="113.5" x2="311.21" y2="114.40" stroke="#444" stroke-width="0.6"/>
<line x1="295.10" y1="97.13" x2="296.0" y2="97.13" stroke="#444" stroke-width="0.6"/>
<line x1="312.26" y1="113.5" x2="312.26" y2="114.40" stroke="#444" stroke-width="0.6"/>
<line x1="295.10" y1="96.20" x2="296.0" y2="96.20" stroke="#444" stroke-width="0.6"/>
<line x1="313.18" y1="113.5" x2="313.18" y2="114.40" stroke="#444" stroke-width="0.6"/>
<line x1="294.40" y1="95.38" x2="296.0" y2="95.38" stroke="#444" stroke-width="0.6"/>
<line x1="314.00" y1="113.5" x2="314.00" y2="115.10" stroke="#444" stroke-width="0.6"/>
<line x1="295.10" y1="89.92" x2="296.0" y2="89.92" stroke="#444" stroke-width="0.6"/>
<line x1="319.42" y1="113.5" x2="319.42" y2="114.40" stroke="#444" stroke-width="0.6"/>
<line x1="295.10" y1="86.73" x2="296.0" y2="86.73" stroke="#444" stroke-width="0.6"/>
<line x1="322.59" y1="113.5" x2="322.59" y2="114.40" stroke="#444" stroke-width="0.6"/>
<line x1="295.10" y1="84.46" x2="296.0" y2="84.46" stroke="#444" stroke-width="0.6"/>
<line x1="324.84" y1="113.5" x2="324.84" y2="114.40" stroke="#444" stroke-width="0.6"/>
<line x1="295.10" y1="82.71" x2="296.0" y2="82.71" stroke="#444" stroke-width="0.6"/>
<line x1="326.58" y1="113.5" x2="326.58" y2="114.40" stroke="#444" stroke-width="0.6"/>
<line x1="295.10" y1="81.27" x2="296.0" y2="81.27" stroke="#444" stroke-width="0.6"/>
<line x1="328.01" y1="113.5" x2="328.01" y2="114.40" stroke="#444" stroke-width="0.6"/>
<line x1="295.10" y1="80.06" x2="296.0" y2="80.06" stroke="#444" stroke-width="0.6"/>
<line x1="329.21" y1="113.5" x2="329.21" y2="114.40" stroke="#444" stroke-width="0.6"/>
<line x1="295.10" y1="79.01" x2="296.0" y2="79.01" stroke="#444" stroke-width="0.6"/>
<line x1="330.26" y1="113.5" x2="330.26" y2="114.40" stroke="#444" stroke-width="0.6"/>
<line x1="295.10" y1="78.08" x2="296.0" y2="78.08" stroke="#444" stroke-width="0.6"/>
<line x1="331.18" y1="113.5" x2="331.18" y2="114.40" stroke="#444" stroke-width="0.6"/>
<line x1="294.40" y1="77.25" x2="296.0" y2="77.25" stroke="#444" stroke-width="0.6"/>
<line x1="332.00" y1="113.5" x2="332.00" y2="115.10" stroke="#444" stroke-width="0.6"/>
<line x1="295.10" y1="71.79" x2="296.0" y2="71.79" stroke="#444" stroke-width="0.6"/>
<line x1="337.42" y1="113.5" x2="337.42" y2="114.40" stroke="#444" stroke-width="0.6"/>
<line x1="295.10" y1="68.60" x2="296.0" y2="68.60" stroke="#444" stroke-width="0.6"/>
<line x1="340.59" y1="113.5" x2="340.59" y2="114.40" stroke="#444" stroke-width="0.6"/>
<line x1="295.10" y1="66.34" x2="296.0" y2="66.34" stroke="#444" stroke-width="0.6"/>
<line x1="342.84" y1="113.5" x2="342.84" y2="114.40" stroke="#444" stroke-width="0.6"/>
<line x1="295.10" y1="64.58" x2="296.0" y2="64.58" stroke="#444" stroke-width="0.6"/>
<line x1="344.58" y1="113.5" x2="344.58" y2="114.40" stroke="#444" stroke-width="0.6"/>
<line x1="295.10" y1="63.15" x2="296.0" y2="63.15" stroke="#444" stroke-width="0.6"/>
<line x1="346.01" y1="113.5" x2="346.01" y2="114.40" stroke="#444" stroke-width="0.6"/>
<line x1="295.10" y1="61.93" x2="296.0" y2="61.93" stroke="#444" stroke-width="0.6"/>
<line x1="347.21" y1="113.5" x2="347.21" y2="114.40" stroke="#444" stroke-width="0.6"/>
<line x1="295.10" y1="60.88" x2="296.0" y2="60.88" stroke="#444" stroke-width="0.6"/>
<line x1="348.26" y1="113.5" x2="348.26" y2="114.40" stroke="#444" stroke-width="0.6"/>
<line x1="295.10" y1="59.95" x2="296.0" y2="59.95" stroke="#444" stroke-width="0.6"/>
<line x1="349.18" y1="113.5" x2="349.18" y2="114.40" stroke="#444" stroke-width="0.6"/>
<line x1="294.40" y1="59.12" x2="296.0" y2="59.12" stroke="#444" stroke-width="0.6"/>
<line x1="350.00" y1="113.5" x2="350.00" y2="115.10" stroke="#444" stroke-width="0.6"/>
<line x1="295.10" y1="53.67" x2="296.0" y2="53.67" stroke="#444" stroke-width="0.6"/>
<line x1="355.42" y1="113.5" x2="355.42" y2="114.40" stroke="#444" stroke-width="0.6"/>
<line x1="295.10" y1="50.48" x2="296.0" y2="50.48" stroke="#444" stroke-width="0.6"/>
<line x1="358.59" y1="113.5" x2="358.59" y2="114.40" stroke="#444" stroke-width="0.6"/>
<line x1="295.10" y1="48.21" x2="296.0" y2="48.21" stroke="#444" stroke-width="0.6"/>
<line x1="360.84" y1="113.5" x2="360.84" y2="114.40" stroke="#444" stroke-width="0.6"/>
<line x1="295.10" y1="46.46" x2="296.0" y2="46.46" stroke="#444" stroke-width="0.6"/>
<line x1="362.58" y1="113.5" x2="362.58" y2="114.40" stroke="#444" stroke-width="0.6"/>
<line x1="295.10" y1="45.02" x2="296.0" y2="45.02" stroke="#444" stroke-width="0.6"/>
<line x1="364.01" y1="113.5" x2="364.01" y2="114.40" stroke="#444" stroke-width="0.6"/>
<line x1="295.10" y1="43.81" x2="296.0" y2="43.81" stroke="#444" stroke-width="0.6"/>
<line x1="365.21" y1="113.5" x2="365.21" y2="114.40" stroke="#444" stroke-width="0.6"/>
<line x1="295.10" y1="42.76" x2="296.0" y2="42.76" stroke="#444" stroke-width="0.6"/>
<line x1="366.26" y1="113.5" x2="366.26" y2="114.40" stroke="#444" stroke-width="0.6"/>
<line x1="295.10" y1="41.83" x2="296.0" y2="41.83" stroke="#444" stroke-width="0.6"/>
<line x1="367.18" y1="113.5" x2="367.18" y2="114.40" stroke="#444" stroke-width="0.6"/>
<text x="293.40" y="114.80" font-size="3.6" font-weight="bold" text-anchor="end" fill="#111" font-family='"Liberation Sans", sans-serif'>10<tspan dy="-1.5" font-size="2.6">0</tspan></text>
<text x="295.80" y="119.50" font-size="3.6" font-weight="bold" text-anchor="middle" fill="#111" font-family='"Liberation Sans", sans-serif'>10<tspan dy="-1.5" font-size="2.6">0</tspan></text>
<text x="293.40" y="96.67" font-size="3.6" font-weight="bold" text-anchor="end" fill="#111" font-family='"Liberation Sans", sans-serif'>10<tspan dy="-1.5" font-size="2.6">1</tspan></text>
<text x="313.80" y="119.50" font-size="3.6" font-weight="bold" text-anchor="middle" fill="#111" font-family='"Liberation Sans", sans-serif'>10<tspan dy="-1.5" font-size="2.6">1</tspan></text>
<text x="293.40" y="78.55" font-size="3.6" font-weight="bold" text-anchor="end" fill="#111" font-family='"Liberation Sans", sans-serif'>10<tspan dy="-1.5" font-size="2.6">2</tspan></text>
<text x="331.80" y="119.50" font-size="3.6" font-weight="bold" text-anchor="middle" fill="#111" font-family='"Liberation Sans", sans-serif'>10<tspan dy="-1.5" font-size="2.6">2</tspan></text>
<text x="293.40" y="60.42" font-size="3.6" font-weight="bold" text-anchor="end" fill="#111" font-family='"Liberation Sans", sans-serif'>10<tspan dy="-1.5" font-size="2.6">3</tspan></text>
<text x="349.80" y="119.50" font-size="3.6" font-weight="bold" text-anchor="middle" fill="#111" font-family='"Liberation Sans", sans-serif'>10<tspan dy="-1.5" font-size="2.6">3</tspan></text>
<text x="293.40" y="42.30" font-size="3.6" font-weight="bold" text-anchor="end" fill="#111" font-family='"Liberation Sans", sans-serif'>10<tspan dy="-1.5" font-size="2.6">4</tspan></text>
<text x="367.80" y="119.50" font-size="3.6" font-weight="bold" text-anchor="middle" fill="#111" font-family='"Liberation Sans", sans-serif'>10<tspan dy="-1.5" font-size="2.6">4</tspan></text>
<text x="297.6" y="50.90" font-family='"Liberation Sans", sans-serif' font-weight="bold" font-size="9.7" fill="#111">1.18</text>
<text x="366.6" y="50.90" text-anchor="end" font-family='"Liberation Sans", sans-serif' font-weight="bold" font-size="9.7" fill="#111">19.8</text>
<text x="367.0" y="112.30" text-anchor="end" font-family='"Liberation Sans", sans-serif' font-weight="bold" font-size="9.7" fill="#111">6</text>
<rect x="296.0" y="174.2" width="72.0" height="72.5" fill="none" stroke="#555" stroke-width="0.9"/>
<line x1="320.0" y1="174.2" x2="320.0" y2="246.7" stroke="#555" stroke-width="0.9"/>
<line x1="296.0" y1="222.3" x2="368.0" y2="222.3" stroke="#555" stroke-width="0.9"/>
<line x1="294.40" y1="246.70" x2="296.0" y2="246.70" stroke="#444" stroke-width="0.6"/>
<line x1="296.00" y1="246.7" x2="296.00" y2="248.30" stroke="#444" stroke-width="0.6"/>
<line x1="295.10" y1="241.24" x2="296.0" y2="241.24" stroke="#444" stroke-width="0.6"/>
<line x1="301.42" y1="246.7" x2="301.42" y2="247.60" stroke="#444" stroke-width="0.6"/>
<line x1="295.10" y1="238.05" x2="296.0" y2="238.05" stroke="#444" stroke-width="0.6"/>
<line x1="304.59" y1="246.7" x2="304.59" y2="247.60" stroke="#444" stroke-width="0.6"/>
<line x1="295.10" y1="235.79" x2="296.0" y2="235.79" stroke="#444" stroke-width="0.6"/>
<line x1="306.84" y1="246.7" x2="306.84" y2="247.60" stroke="#444" stroke-width="0.6"/>
<line x1="295.10" y1="234.03" x2="296.0" y2="234.03" stroke="#444" stroke-width="0.6"/>
<line x1="308.58" y1="246.7" x2="308.58" y2="247.60" stroke="#444" stroke-width="0.6"/>
<line x1="295.10" y1="232.60" x2="296.0" y2="232.60" stroke="#444" stroke-width="0.6"/>
<line x1="310.01" y1="246.7" x2="310.01" y2="247.60" stroke="#444" stroke-width="0.6"/>
<line x1="295.10" y1="231.38" x2="296.0" y2="231.38" stroke="#444" stroke-width="0.6"/>
<line x1="311.21" y1="246.7" x2="311.21" y2="247.60" stroke="#444" stroke-width="0.6"/>
<line x1="295.10" y1="230.33" x2="296.0" y2="230.33" stroke="#444" stroke-width="0.6"/>
<line x1="312.26" y1="246.7" x2="312.26" y2="247.60" stroke="#444" stroke-width="0.6"/>
<line x1="295.10" y1="229.40" x2="296.0" y2="229.40" stroke="#444" stroke-width="0.6"/>
<line x1="313.18" y1="246.7" x2="313.18" y2="247.60" stroke="#444" stroke-width="0.6"/>
<line x1="294.40" y1="228.57" x2="296.0" y2="228.57" stroke="#444" stroke-width="0.6"/>
<line x1="314.00" y1="246.7" x2="314.00" y2="248.30" stroke="#444" stroke-width="0.6"/>
<line x1="295.10" y1="223.12" x2="296.0" y2="223.12" stroke="#444" stroke-width="0.6"/>
<line x1="319.42" y1="246.7" x2="319.42" y2="247.60" stroke="#444" stroke-width="0.6"/>
<line x1="295.10" y1="219.93" x2="296.0" y2="219.93" stroke="#444" stroke-width="0.6"/>
<line x1="322.59" y1="246.7" x2="322.59" y2="247.60" stroke="#444" stroke-width="0.6"/>
<line x1="295.10" y1="217.66" x2="296.0" y2="217.66" stroke="#444" stroke-width="0.6"/>
<line x1="324.84" y1="246.7" x2="324.84" y2="247.60" stroke="#444" stroke-width="0.6"/>
<line x1="295.10" y1="215.91" x2="296.0" y2="215.91" stroke="#444" stroke-width="0.6"/>
<line x1="326.58" y1="246.7" x2="326.58" y2="247.60" stroke="#444" stroke-width="0.6"/>
<line x1="295.10" y1="214.47" x2="296.0" y2="214.47" stroke="#444" stroke-width="0.6"/>
<line x1="328.01" y1="246.7" x2="328.01" y2="247.60" stroke="#444" stroke-width="0.6"/>
<line x1="295.10" y1="213.26" x2="296.0" y2="213.26" stroke="#444" stroke-width="0.6"/>
<line x1="329.21" y1="246.7" x2="329.21" y2="247.60" stroke="#444" stroke-width="0.6"/>
<line x1="295.10" y1="212.21" x2="296.0" y2="212.21" stroke="#444" stroke-width="0.6"/>
<line x1="330.26" y1="246.7" x2="330.26" y2="247.60" stroke="#444" stroke-width="0.6"/>
<line x1="295.10" y1="211.28" x2="296.0" y2="211.28" stroke="#444" stroke-width="0.6"/>
<line x1="331.18" y1="246.7" x2="331.18" y2="247.60" stroke="#444" stroke-width="0.6"/>
<line x1="294.40" y1="210.45" x2="296.0" y2="210.45" stroke="#444" stroke-width="0.6"/>
<line x1="332.00" y1="246.7" x2="332.00" y2="248.30" stroke="#444" stroke-width="0.6"/>
<line x1="295.10" y1="204.99" x2="296.0" y2="204.99" stroke="#444" stroke-width="0.6"/>
<line x1="337.42" y1="246.7" x2="337.42" y2="247.60" stroke="#444" stroke-width="0.6"/>
<line x1="295.10" y1="201.80" x2="296.0" y2="201.80" stroke="#444" stroke-width="0.6"/>
<line x1="340.59" y1="246.7" x2="340.59" y2="247.60" stroke="#444" stroke-width="0.6"/>
<line x1="295.10" y1="199.54" x2="296.0" y2="199.54" stroke="#444" stroke-width="0.6"/>
<line x1="342.84" y1="246.7" x2="342.84" y2="247.60" stroke="#444" stroke-width="0.6"/>
<line x1="295.10" y1="197.78" x2="296.0" y2="197.78" stroke="#444" stroke-width="0.6"/>
<line x1="344.58" y1="246.7" x2="344.58" y2="247.60" stroke="#444" stroke-width="0.6"/>
<line x1="295.10" y1="196.35" x2="296.0" y2="196.35" stroke="#444" stroke-width="0.6"/>
<line x1="346.01" y1="246.7" x2="346.01" y2="247.60" stroke="#444" stroke-width="0.6"/>
<line x1="295.10" y1="195.13" x2="296.0" y2="195.13" stroke="#444" stroke-width="0.6"/>
<line x1="347.21" y1="246.7" x2="347.21" y2="247.60" stroke="#444" stroke-width="0.6"/>
<line x1="295.10" y1="194.08" x2="296.0" y2="194.08" stroke="#444" stroke-width="0.6"/>
<line x1="348.26" y1="246.7" x2="348.26" y2="247.60" stroke="#444" stroke-width="0.6"/>
<line x1="295.10" y1="193.15" x2="296.0" y2="193.15" stroke="#444" stroke-width="0.6"/>
<line x1="349.18" y1="246.7" x2="349.18" y2="247.60" stroke="#444" stroke-width="0.6"/>
<line x1="294.40" y1="192.32" x2="296.0" y2="192.32" stroke="#444" stroke-width="0.6"/>
<line x1="350.00" y1="246.7" x2="350.00" y2="248.30" stroke="#444" stroke-width="0.6"/>
<line x1="295.10" y1="186.87" x2="296.0" y2="186.87" stroke="#444" stroke-width="0.6"/>
<line x1="355.42" y1="246.7" x2="355.42" y2="247.60" stroke="#444" stroke-width="0.6"/>
<line x1="295.10" y1="183.68" x2="296.0" y2="183.68" stroke="#444" stroke-width="0.6"/>
<line x1="358.59" y1="246.7" x2="358.59" y2="247.60" stroke="#444" stroke-width="0.6"/>
<line x1="295.10" y1="181.41" x2="296.0" y2="181.41" stroke="#444" stroke-width="0.6"/>
<line x1="360.84" y1="246.7" x2="360.84" y2="247.60" stroke="#444" stroke-width="0.6"/>
<line x1="295.10" y1="179.66" x2="296.0" y2="179.66" stroke="#444" stroke-width="0.6"/>
<line x1="362.58" y1="246.7" x2="362.58" y2="247.60" stroke="#444" stroke-width="0.6"/>
<line x1="295.10" y1="178.22" x2="296.0" y2="178.22" stroke="#444" stroke-width="0.6"/>
<line x1="364.01" y1="246.7" x2="364.01" y2="247.60" stroke="#444" stroke-width="0.6"/>
<line x1="295.10" y1="177.01" x2="296.0" y2="177.01" stroke="#444" stroke-width="0.6"/>
<line x1="365.21" y1="246.7" x2="365.21" y2="247.60" stroke="#444" stroke-width="0.6"/>
<line x1="295.10" y1="175.96" x2="296.0" y2="175.96" stroke="#444" stroke-width="0.6"/>
<line x1="366.26" y1="246.7" x2="366.26" y2="247.60" stroke="#444" stroke-width="0.6"/>
<line x1="295.10" y1="175.03" x2="296.0" y2="175.03" stroke="#444" stroke-width="0.6"/>
<line x1="367.18" y1="246.7" x2="367.18" y2="247.60" stroke="#444" stroke-width="0.6"/>
<text x="293.40" y="248.00" font-size="3.6" font-weight="bold" text-anchor="end" fill="#111" font-family='"Liberation Sans", sans-serif'>10<tspan dy="-1.5" font-size="2.6">0</tspan></text>
<text x="295.80" y="252.70" font-size="3.6" font-weight="bold" text-anchor="middle" fill="#111" font-family='"Liberation Sans", sans-serif'>10<tspan dy="-1.5" font-size="2.6">0</tspan></text>
<text x="293.40" y="229.88" font-size="3.6" font-weight="bold" text-anchor="end" fill="#111" font-family='"Liberation Sans", sans-serif'>10<tspan dy="-1.5" font-size="2.6">1</tspan></text>
<text x="313.80" y="252.70" font-size="3.6" font-weight="bold" text-anchor="middle" fill="#111" font-family='"Liberation Sans", sans-serif'>10<tspan dy="-1.5" font-size="2.6">1</tspan></text>
<text x="293.40" y="211.75" font-size="3.6" font-weight="bold" text-anchor="end" fill="#111" font-family='"Liberation Sans", sans-serif'>10<tspan dy="-1.5" font-size="2.6">2</tspan></text>
<text x="331.80" y="252.70" font-size="3.6" font-weight="bold" text-anchor="middle" fill="#111" font-family='"Liberation Sans", sans-serif'>10<tspan dy="-1.5" font-size="2.6">2</tspan></text>
<text x="293.40" y="193.62" font-size="3.6" font-weight="bold" text-anchor="end" fill="#111" font-family='"Liberation Sans", sans-serif'>10<tspan dy="-1.5" font-size="2.6">3</tspan></text>
<text x="349.80" y="252.70" font-size="3.6" font-weight="bold" text-anchor="middle" fill="#111" font-family='"Liberation Sans", sans-serif'>10<tspan dy="-1.5" font-size="2.6">3</tspan></text>
<text x="293.40" y="175.50" font-size="3.6" font-weight="bold" text-anchor="end" fill="#111" font-family='"Liberation Sans", sans-serif'>10<tspan dy="-1.5" font-size="2.6">4</tspan></text>
<text x="367.80" y="252.70" font-size="3.6" font-weight="bold" text-anchor="middle" fill="#111" font-family='"Liberation Sans", sans-serif'>10<tspan dy="-1.5" font-size="2.6">4</tspan></text>
<text x="297.6" y="185.30" font-family='"Liberation Sans", sans-serif' font-weight="bold" font-size="10" fill="#111">42.9</text>
<text x="366.6" y="185.30" text-anchor="end" font-family='"Liberation Sans", sans-serif' font-weight="bold" font-size="10" fill="#111">33.1</text>
<text x="367.0" y="245.50" text-anchor="end" font-family='"Liberation Sans", sans-serif' font-weight="bold" font-size="10" fill="#111">1.5</text>
<rect x="400.4" y="41.0" width="72.0" height="72.5" fill="none" stroke="#555" stroke-width="0.9"/>
<line x1="428.0" y1="41.0" x2="428.0" y2="113.5" stroke="#555" stroke-width="0.9"/>
<line x1="400.4" y1="84.1" x2="472.4" y2="84.1" stroke="#555" stroke-width="0.9"/>
<line x1="398.80" y1="113.50" x2="400.4" y2="113.50" stroke="#444" stroke-width="0.6"/>
<line x1="400.40" y1="113.5" x2="400.40" y2="115.10" stroke="#444" stroke-width="0.6"/>
<line x1="399.50" y1="108.04" x2="400.4" y2="108.04" stroke="#444" stroke-width="0.6"/>
<line x1="405.82" y1="113.5" x2="405.82" y2="114.40" stroke="#444" stroke-width="0.6"/>
<line x1="399.50" y1="104.85" x2="400.4" y2="104.85" stroke="#444" stroke-width="0.6"/>
<line x1="408.99" y1="113.5" x2="408.99" y2="114.40" stroke="#444" stroke-width="0.6"/>
<line x1="399.50" y1="102.59" x2="400.4" y2="102.59" stroke="#444" stroke-width="0.6"/>
<line x1="411.24" y1="113.5" x2="411.24" y2="114.40" stroke="#444" stroke-width="0.6"/>
<line x1="399.50" y1="100.83" x2="400.4" y2="100.83" stroke="#444" stroke-width="0.6"/>
<line x1="412.98" y1="113.5" x2="412.98" y2="114.40" stroke="#444" stroke-width="0.6"/>
<line x1="399.50" y1="99.40" x2="400.4" y2="99.40" stroke="#444" stroke-width="0.6"/>
<line x1="414.41" y1="113.5" x2="414.41" y2="114.40" stroke="#444" stroke-width="0.6"/>
<line x1="399.50" y1="98.18" x2="400.4" y2="98.18" stroke="#444" stroke-width="0.6"/>
<line x1="415.61" y1="113.5" x2="415.61" y2="114.40" stroke="#444" stroke-width="0.6"/>
<line x1="399.50" y1="97.13" x2="400.4" y2="97.13" stroke="#444" stroke-width="0.6"/>
<line x1="416.66" y1="113.5" x2="416.66" y2="114.40" stroke="#444" stroke-width="0.6"/>
<line x1="399.50" y1="96.20" x2="400.4" y2="96.20" stroke="#444" stroke-width="0.6"/>
<line x1="417.58" y1="113.5" x2="417.58" y2="114.40" stroke="#444" stroke-width="0.6"/>
<line x1="398.80" y1="95.38" x2="400.4" y2="95.38" stroke="#444" stroke-width="0.6"/>
<line x1="418.40" y1="113.5" x2="418.40" y2="115.10" stroke="#444" stroke-width="0.6"/>
<line x1="399.50" y1="89.92" x2="400.4" y2="89.92" stroke="#444" stroke-width="0.6"/>
<line x1="423.82" y1="113.5" x2="423.82" y2="114.40" stroke="#444" stroke-width="0.6"/>
<line x1="399.50" y1="86.73" x2="400.4" y2="86.73" stroke="#444" stroke-width="0.6"/>
<line x1="426.99" y1="113.5" x2="426.99" y2="114.40" stroke="#444" stroke-width="0.6"/>
<line x1="399.50" y1="84.46" x2="400.4" y2="84.46" stroke="#444" stroke-width="0.6"/>
<line x1="429.24" y1="113.5" x2="429.24" y2="114.40" stroke="#444" stroke-width="0.6"/>
<line x1="399.50" y1="82.71" x2="400.4" y2="82.71" stroke="#444" stroke-width="0.6"/>
<line x1="430.98" y1="113.5" x2="430.98" y2="114.40" stroke="#444" stroke-width="0.6"/>
<line x1="399.50" y1="81.27" x2="400.4" y2="81.27" stroke="#444" stroke-width="0.6"/>
<line x1="432.41" y1="113.5" x2="432.41" y2="114.40" stroke="#444" stroke-width="0.6"/>
<line x1="399.50" y1="80.06" x2="400.4" y2="80.06" stroke="#444" stroke-width="0.6"/>
<line x1="433.61" y1="113.5" x2="433.61" y2="114.40" stroke="#444" stroke-width="0.6"/>
<line x1="399.50" y1="79.01" x2="400.4" y2="79.01" stroke="#444" stroke-width="0.6"/>
<line x1="434.66" y1="113.5" x2="434.66" y2="114.40" stroke="#444" stroke-width="0.6"/>
<line x1="399.50" y1="78.08" x2="400.4" y2="78.08" stroke="#444" stroke-width="0.6"/>
<line x1="435.58" y1="113.5" x2="435.58" y2="114.40" stroke="#444" stroke-width="0.6"/>
<line x1="398.80" y1="77.25" x2="400.4" y2="77.25" stroke="#444" stroke-width="0.6"/>
<line x1="436.40" y1="113.5" x2="436.40" y2="115.10" stroke="#444" stroke-width="0.6"/>
<line x1="399.50" y1="71.79" x2="400.4" y2="71.79" stroke="#444" stroke-width="0.6"/>
<line x1="441.82" y1="113.5" x2="441.82" y2="114.40" stroke="#444" stroke-width="0.6"/>
<line x1="399.50" y1="68.60" x2="400.4" y2="68.60" stroke="#444" stroke-width="0.6"/>
<line x1="444.99" y1="113.5" x2="444.99" y2="114.40" stroke="#444" stroke-width="0.6"/>
<line x1="399.50" y1="66.34" x2="400.4" y2="66.34" stroke="#444" stroke-width="0.6"/>
<line x1="447.24" y1="113.5" x2="447.24" y2="114.40" stroke="#444" stroke-width="0.6"/>
<line x1="399.50" y1="64.58" x2="400.4" y2="64.58" stroke="#444" stroke-width="0.6"/>
<line x1="448.98" y1="113.5" x2="448.98" y2="114.40" stroke="#444" stroke-width="0.6"/>
<line x1="399.50" y1="63.15" x2="400.4" y2="63.15" stroke="#444" stroke-width="0.6"/>
<line x1="450.41" y1="113.5" x2="450.41" y2="114.40" stroke="#444" stroke-width="0.6"/>
<line x1="399.50" y1="61.93" x2="400.4" y2="61.93" stroke="#444" stroke-width="0.6"/>
<line x1="451.61" y1="113.5" x2="451.61" y2="114.40" stroke="#444" stroke-width="0.6"/>
<line x1="399.50" y1="60.88" x2="400.4" y2="60.88" stroke="#444" stroke-width="0.6"/>
<line x1="452.66" y1="113.5" x2="452.66" y2="114.40" stroke="#444" stroke-width="0.6"/>
<line x1="399.50" y1="59.95" x2="400.4" y2="59.95" stroke="#444" stroke-width="0.6"/>
<line x1="453.58" y1="113.5" x2="453.58" y2="114.40" stroke="#444" stroke-width="0.6"/>
<line x1="398.80" y1="59.12" x2="400.4" y2="59.12" stroke="#444" stroke-width="0.6"/>
<line x1="454.40" y1="113.5" x2="454.40" y2="115.10" stroke="#444" stroke-width="0.6"/>
<line x1="399.50" y1="53.67" x2="400.4" y2="53.67" stroke="#444" stroke-width="0.6"/>
<line x1="459.82" y1="113.5" x2="459.82" y2="114.40" stroke="#444" stroke-width="0.6"/>
<line x1="399.50" y1="50.48" x2="400.4" y2="50.48" stroke="#444" stroke-width="0.6"/>
<line x1="462.99" y1="113.5" x2="462.99" y2="114.40" stroke="#444" stroke-width="0.6"/>
<line x1="399.50" y1="48.21" x2="400.4" y2="48.21" stroke="#444" stroke-width="0.6"/>
<line x1="465.24" y1="113.5" x2="465.24" y2="114.40" stroke="#444" stroke-width="0.6"/>
<line x1="399.50" y1="46.46" x2="400.4" y2="46.46" stroke="#444" stroke-width="0.6"/>
<line x1="466.98" y1="113.5" x2="466.98" y2="114.40" stroke="#444" stroke-width="0.6"/>
<line x1="399.50" y1="45.02" x2="400.4" y2="45.02" stroke="#444" stroke-width="0.6"/>
<line x1="468.41" y1="113.5" x2="468.41" y2="114.40" stroke="#444" stroke-width="0.6"/>
<line x1="399.50" y1="43.81" x2="400.4" y2="43.81" stroke="#444" stroke-width="0.6"/>
<line x1="469.61" y1="113.5" x2="469.61" y2="114.40" stroke="#444" stroke-width="0.6"/>
<line x1="399.50" y1="42.76" x2="400.4" y2="42.76" stroke="#444" stroke-width="0.6"/>
<line x1="470.66" y1="113.5" x2="470.66" y2="114.40" stroke="#444" stroke-width="0.6"/>
<line x1="399.50" y1="41.83" x2="400.4" y2="41.83" stroke="#444" stroke-width="0.6"/>
<line x1="471.58" y1="113.5" x2="471.58" y2="114.40" stroke="#444" stroke-width="0.6"/>
<text x="397.80" y="114.80" font-size="3.6" font-weight="bold" text-anchor="end" fill="#111" font-family='"Liberation Sans", sans-serif'>10<tspan dy="-1.5" font-size="2.6">0</tspan></text>
<text x="400.20" y="119.50" font-size="3.6" font-weight="bold" text-anchor="middle" fill="#111" font-family='"Liberation Sans", sans-serif'>10<tspan dy="-1.5" font-size="2.6">0</tspan></text>
<text x="397.80" y="96.67" font-size="3.6" font-weight="bold" text-anchor="end" fill="#111" font-family='"Liberation Sans", sans-serif'>10<tspan dy="-1.5" font-size="2.6">1</tspan></text>
<text x="418.20" y="119.50" font-size="3.6" font-weight="bold" text-anchor="middle" fill="#111" font-family='"Liberation Sans", sans-serif'>10<tspan dy="-1.5" font-size="2.6">1</tspan></text>
<text x="397.80" y="78.55" font-size="3.6" font-weight="bold" text-anchor="end" fill="#111" font-family='"Liberation Sans", sans-serif'>10<tspan dy="-1.5" font-size="2.6">2</tspan></text>
<text x="436.20" y="119.50" font-size="3.6" font-weight="bold" text-anchor="middle" fill="#111" font-family='"Liberation Sans", sans-serif'>10<tspan dy="-1.5" font-size="2.6">2</tspan></text>
<text x="397.80" y="60.42" font-size="3.6" font-weight="bold" text-anchor="end" fill="#111" font-family='"Liberation Sans", sans-serif'>10<tspan dy="-1.5" font-size="2.6">3</tspan></text>
<text x="454.20" y="119.50" font-size="3.6" font-weight="bold" text-anchor="middle" fill="#111" font-family='"Liberation Sans", sans-serif'>10<tspan dy="-1.5" font-size="2.6">3</tspan></text>
<text x="397.80" y="42.30" font-size="3.6" font-weight="bold" text-anchor="end" fill="#111" font-family='"Liberation Sans", sans-serif'>10<tspan dy="-1.5" font-size="2.6">4</tspan></text>
<text x="472.20" y="119.50" font-size="3.6" font-weight="bold" text-anchor="middle" fill="#111" font-family='"Liberation Sans", sans-serif'>10<tspan dy="-1.5" font-size="2.6">4</tspan></text>
<text x="402.0" y="50.90" font-family='"Liberation Sans", sans-serif' font-weight="bold" font-size="9.7" fill="#111">1.43</text>
<text x="471.0" y="50.90" text-anchor="end" font-family='"Liberation Sans", sans-serif' font-weight="bold" font-size="9.7" fill="#111">15.4</text>
<text x="471.4" y="112.30" text-anchor="end" font-family='"Liberation Sans", sans-serif' font-weight="bold" font-size="9.7" fill="#111">5.86</text>
<rect x="400.6" y="174.2" width="72.0" height="72.5" fill="none" stroke="#555" stroke-width="0.9"/>
<line x1="423.5" y1="174.2" x2="423.5" y2="246.7" stroke="#555" stroke-width="0.9"/>
<line x1="400.6" y1="224.3" x2="472.6" y2="224.3" stroke="#555" stroke-width="0.9"/>
<line x1="399.00" y1="246.70" x2="400.6" y2="246.70" stroke="#444" stroke-width="0.6"/>
<line x1="400.60" y1="246.7" x2="400.60" y2="248.30" stroke="#444" stroke-width="0.6"/>
<line x1="399.70" y1="241.24" x2="400.6" y2="241.24" stroke="#444" stroke-width="0.6"/>
<line x1="406.02" y1="246.7" x2="406.02" y2="247.60" stroke="#444" stroke-width="0.6"/>
<line x1="399.70" y1="238.05" x2="400.6" y2="238.05" stroke="#444" stroke-width="0.6"/>
<line x1="409.19" y1="246.7" x2="409.19" y2="247.60" stroke="#444" stroke-width="0.6"/>
<line x1="399.70" y1="235.79" x2="400.6" y2="235.79" stroke="#444" stroke-width="0.6"/>
<line x1="411.44" y1="246.7" x2="411.44" y2="247.60" stroke="#444" stroke-width="0.6"/>
<line x1="399.70" y1="234.03" x2="400.6" y2="234.03" stroke="#444" stroke-width="0.6"/>
<line x1="413.18" y1="246.7" x2="413.18" y2="247.60" stroke="#444" stroke-width="0.6"/>
<line x1="399.70" y1="232.60" x2="400.6" y2="232.60" stroke="#444" stroke-width="0.6"/>
<line x1="414.61" y1="246.7" x2="414.61" y2="247.60" stroke="#444" stroke-width="0.6"/>
<line x1="399.70" y1="231.38" x2="400.6" y2="231.38" stroke="#444" stroke-width="0.6"/>
<line x1="415.81" y1="246.7" x2="415.81" y2="247.60" stroke="#444" stroke-width="0.6"/>
<line x1="399.70" y1="230.33" x2="400.6" y2="230.33" stroke="#444" stroke-width="0.6"/>
<line x1="416.86" y1="246.7" x2="416.86" y2="247.60" stroke="#444" stroke-width="0.6"/>
<line x1="399.70" y1="229.40" x2="400.6" y2="229.40" stroke="#444" stroke-width="0.6"/>
<line x1="417.78" y1="246.7" x2="417.78" y2="247.60" stroke="#444" stroke-width="0.6"/>
<line x1="399.00" y1="228.57" x2="400.6" y2="228.57" stroke="#444" stroke-width="0.6"/>
<line x1="418.60" y1="246.7" x2="418.60" y2="248.30" stroke="#444" stroke-width="0.6"/>
<line x1="399.70" y1="223.12" x2="400.6" y2="223.12" stroke="#444" stroke-width="0.6"/>
<line x1="424.02" y1="246.7" x2="424.02" y2="247.60" stroke="#444" stroke-width="0.6"/>
<line x1="399.70" y1="219.93" x2="400.6" y2="219.93" stroke="#444" stroke-width="0.6"/>
<line x1="427.19" y1="246.7" x2="427.19" y2="247.60" stroke="#444" stroke-width="0.6"/>
<line x1="399.70" y1="217.66" x2="400.6" y2="217.66" stroke="#444" stroke-width="0.6"/>
<line x1="429.44" y1="246.7" x2="429.44" y2="247.60" stroke="#444" stroke-width="0.6"/>
<line x1="399.70" y1="215.91" x2="400.6" y2="215.91" stroke="#444" stroke-width="0.6"/>
<line x1="431.18" y1="246.7" x2="431.18" y2="247.60" stroke="#444" stroke-width="0.6"/>
<line x1="399.70" y1="214.47" x2="400.6" y2="214.47" stroke="#444" stroke-width="0.6"/>
<line x1="432.61" y1="246.7" x2="432.61" y2="247.60" stroke="#444" stroke-width="0.6"/>
<line x1="399.70" y1="213.26" x2="400.6" y2="213.26" stroke="#444" stroke-width="0.6"/>
<line x1="433.81" y1="246.7" x2="433.81" y2="247.60" stroke="#444" stroke-width="0.6"/>
<line x1="399.70" y1="212.21" x2="400.6" y2="212.21" stroke="#444" stroke-width="0.6"/>
<line x1="434.86" y1="246.7" x2="434.86" y2="247.60" stroke="#444" stroke-width="0.6"/>
<line x1="399.70" y1="211.28" x2="400.6" y2="211.28" stroke="#444" stroke-width="0.6"/>
<line x1="435.78" y1="246.7" x2="435.78" y2="247.60" stroke="#444" stroke-width="0.6"/>
<line x1="399.00" y1="210.45" x2="400.6" y2="210.45" stroke="#444" stroke-width="0.6"/>
<line x1="436.60" y1="246.7" x2="436.60" y2="248.30" stroke="#444" stroke-width="0.6"/>
<line x1="399.70" y1="204.99" x2="400.6" y2="204.99" stroke="#444" stroke-width="0.6"/>
<line x1="442.02" y1="246.7" x2="442.02" y2="247.60" stroke="#444" stroke-width="0.6"/>
<line x1="399.70" y1="201.80" x2="400.6" y2="201.80" stroke="#444" stroke-width="0.6"/>
<line x1="445.19" y1="246.7" x2="445.19" y2="247.60" stroke="#444" stroke-width="0.6"/>
<line x1="399.70" y1="199.54" x2="400.6" y2="199.54" stroke="#444" stroke-width="0.6"/>
<line x1="447.44" y1="246.7" x2="447.44" y2="247.60" stroke="#444" stroke-width="0.6"/>
<line x1="399.70" y1="197.78" x2="400.6" y2="197.78" stroke="#444" stroke-width="0.6"/>
<line x1="449.18" y1="246.7" x2="449.18" y2="247.60" stroke="#444" stroke-width="0.6"/>
<line x1="399.70" y1="196.35" x2="400.6" y2="196.35" stroke="#444" stroke-width="0.6"/>
<line x1="450.61" y1="246.7" x2="450.61" y2="247.60" stroke="#444" stroke-width="0.6"/>
<line x1="399.70" y1="195.13" x2="400.6" y2="195.13" stroke="#444" stroke-width="0.6"/>
<line x1="451.81" y1="246.7" x2="451.81" y2="247.60" stroke="#444" stroke-width="0.6"/>
<line x1="399.70" y1="194.08" x2="400.6" y2="194.08" stroke="#444" stroke-width="0.6"/>
<line x1="452.86" y1="246.7" x2="452.86" y2="247.60" stroke="#444" stroke-width="0.6"/>
<line x1="399.70" y1="193.15" x2="400.6" y2="193.15" stroke="#444" stroke-width="0.6"/>
<line x1="453.78" y1="246.7" x2="453.78" y2="247.60" stroke="#444" stroke-width="0.6"/>
<line x1="399.00" y1="192.32" x2="400.6" y2="192.32" stroke="#444" stroke-width="0.6"/>
<line x1="454.60" y1="246.7" x2="454.60" y2="248.30" stroke="#444" stroke-width="0.6"/>
<line x1="399.70" y1="186.87" x2="400.6" y2="186.87" stroke="#444" stroke-width="0.6"/>
<line x1="460.02" y1="246.7" x2="460.02" y2="247.60" stroke="#444" stroke-width="0.6"/>
<line x1="399.70" y1="183.68" x2="400.6" y2="183.68" stroke="#444" stroke-width="0.6"/>
<line x1="463.19" y1="246.7" x2="463.19" y2="247.60" stroke="#444" stroke-width="0.6"/>
<line x1="399.70" y1="181.41" x2="400.6" y2="181.41" stroke="#444" stroke-width="0.6"/>
<line x1="465.44" y1="246.7" x2="465.44" y2="247.60" stroke="#444" stroke-width="0.6"/>
<line x1="399.70" y1="179.66" x2="400.6" y2="179.66" stroke="#444" stroke-width="0.6"/>
<line x1="467.18" y1="246.7" x2="467.18" y2="247.60" stroke="#444" stroke-width="0.6"/>
<line x1="399.70" y1="178.22" x2="400.6" y2="178.22" stroke="#444" stroke-width="0.6"/>
<line x1="468.61" y1="246.7" x2="468.61" y2="247.60" stroke="#444" stroke-width="0.6"/>
<line x1="399.70" y1="177.01" x2="400.6" y2="177.01" stroke="#444" stroke-width="0.6"/>
<line x1="469.81" y1="246.7" x2="469.81" y2="247.60" stroke="#444" stroke-width="0.6"/>
<line x1="399.70" y1="175.96" x2="400.6" y2="175.96" stroke="#444" stroke-width="0.6"/>
<line x1="470.86" y1="246.7" x2="470.86" y2="247.60" stroke="#444" stroke-width="0.6"/>
<line x1="399.70" y1="175.03" x2="400.6" y2="175.03" stroke="#444" stroke-width="0.6"/>
<line x1="471.78" y1="246.7" x2="471.78" y2="247.60" stroke="#444" stroke-width="0.6"/>
<text x="398.00" y="248.00" font-size="3.6" font-weight="bold" text-anchor="end" fill="#111" font-family='"Liberation Sans", sans-serif'>10<tspan dy="-1.5" font-size="2.6">0</tspan></text>
<text x="400.40" y="252.70" font-size="3.6" font-weight="bold" text-anchor="middle" fill="#111" font-family='"Liberation Sans", sans-serif'>10<tspan dy="-1.5" font-size="2.6">0</tspan></text>
<text x="398.00" y="229.88" font-size="3.6" font-weight="bold" text-anchor="end" fill="#111" font-family='"Liberation Sans", sans-serif'>10<tspan dy="-1.5" font-size="2.6">1</tspan></text>
<text x="418.40" y="252.70" font-size="3.6" font-weight="bold" text-anchor="middle" fill="#111" font-family='"Liberation Sans", sans-serif'>10<tspan dy="-1.5" font-size="2.6">1</tspan></text>
<text x="398.00" y="211.75" font-size="3.6" font-weight="bold" text-anchor="end" fill="#111" font-family='"Liberation Sans", sans-serif'>10<tspan dy="-1.5" font-size="2.6">2</tspan></text>
<text x="436.40" y="252.70" font-size="3.6" font-weight="bold" text-anchor="middle" fill="#111" font-family='"Liberation Sans", sans-serif'>10<tspan dy="-1.5" font-size="2.6">2</tspan></text>
<text x="398.00" y="193.62" font-size="3.6" font-weight="bold" text-anchor="end" fill="#111" font-family='"Liberation Sans", sans-serif'>10<tspan dy="-1.5" font-size="2.6">3</tspan></text>
<text x="454.40" y="252.70" font-size="3.6" font-weight="bold" text-anchor="middle" fill="#111" font-family='"Liberation Sans", sans-serif'>10<tspan dy="-1.5" font-size="2.6">3</tspan></text>
<text x="398.00" y="175.50" font-size="3.6" font-weight="bold" text-anchor="end" fill="#111" font-family='"Liberation Sans", sans-serif'>10<tspan dy="-1.5" font-size="2.6">4</tspan></text>
<text x="472.40" y="252.70" font-size="3.6" font-weight="bold" text-anchor="middle" fill="#111" font-family='"Liberation Sans", sans-serif'>10<tspan dy="-1.5" font-size="2.6">4</tspan></text>
<text x="402.20000000000005" y="185.30" font-family='"Liberation Sans", sans-serif' font-weight="bold" font-size="10" fill="#111">55.6</text>
<text x="471.20000000000005" y="185.30" text-anchor="end" font-family='"Liberation Sans", sans-serif' font-weight="bold" font-size="10" fill="#111">24.6</text>
<text x="471.6" y="245.50" text-anchor="end" font-family='"Liberation Sans", sans-serif' font-weight="bold" font-size="10" fill="#111">0.94</text>
<text transform="translate(69.9,78.6) rotate(-90)" text-anchor="middle" textLength="39" font-family='"Liberation Sans", sans-serif' font-weight="bold" font-size="16.2" fill="#111" lengthAdjust="spacingAndGlyphs">CD56</text>
<text transform="translate(70.4,210.1) rotate(-90)" text-anchor="middle" textLength="40.5" font-family='"Liberation Sans", sans-serif' font-weight="bold" font-size="16.2" fill="#111" lengthAdjust="spacingAndGlyphs">CD33</text>
<line x1="85" y1="131.2" x2="252.5" y2="131.2" stroke="#777" stroke-width="1"/>
<line x1="304.4" y1="131.2" x2="472.7" y2="131.2" stroke="#777" stroke-width="1"/>
<text x="279.7" y="135.7" text-anchor="middle" textLength="47.2" font-family='"Liberation Sans", sans-serif' font-weight="bold" font-size="16.2" fill="#111" lengthAdjust="spacingAndGlyphs">CD161</text>
<line x1="85" y1="265.1" x2="257" y2="265.1" stroke="#777" stroke-width="1"/>
<line x1="302" y1="265.1" x2="472.5" y2="265.1" stroke="#777" stroke-width="1"/>
<text x="279.2" y="270.1" text-anchor="middle" textLength="40.3" font-family='"Liberation Sans", sans-serif' font-weight="bold" font-size="16.2" fill="#111" lengthAdjust="spacingAndGlyphs">CD14</text>
<text x="111" y="323" text-anchor="middle" font-family='"Liberation Sans", sans-serif' font-size="15.6" fill="#111"><tspan font-family='"Liberation Serif", serif'>α</tspan>-CXCL8</text>
<text x="280.2" y="323" text-anchor="middle" font-family='"Liberation Sans", sans-serif' font-size="15.6" fill="#111"><tspan font-family='"Liberation Serif", serif'>α</tspan>-CCL3</text>
<text x="449.4" y="323" text-anchor="middle" font-family='"Liberation Sans", sans-serif' font-size="15.6" fill="#111"><tspan font-family='"Liberation Serif", serif'>α</tspan>-CXCL8 + <tspan font-family='"Liberation Serif", serif'>α</tspan>-CCL3</text>
<text transform="translate(10.3,400.7) rotate(-90)" text-anchor="middle" font-family='"Liberation Sans", sans-serif' font-size="8.8" fill="#222">fold inc./dec.</text>
<text transform="translate(22.6,400.4) rotate(-90)" text-anchor="middle" textLength="23.5" lengthAdjust="spacing" font-family='"Liberation Sans", sans-serif' font-size="8.8" fill="#222">vs ctr</text>
<line x1="48.9" y1="352.90" x2="48.9" y2="444.10" stroke="#888" stroke-width="1.4"/>
<line x1="47.4" y1="443.80" x2="48.9" y2="443.80" stroke="#888" stroke-width="1"/>
<text x="46.9" y="447.10" text-anchor="end" font-family='"Liberation Sans", sans-serif' font-weight="bold" font-size="9.8" fill="#222">0.0</text>
<line x1="47.4" y1="421.20" x2="48.9" y2="421.20" stroke="#888" stroke-width="1"/>
<text x="46.9" y="424.50" text-anchor="end" font-family='"Liberation Sans", sans-serif' font-weight="bold" font-size="9.8" fill="#222">0.5</text>
<line x1="47.4" y1="398.60" x2="48.9" y2="398.60" stroke="#888" stroke-width="1"/>
<text x="46.9" y="401.90" text-anchor="end" font-family='"Liberation Sans", sans-serif' font-weight="bold" font-size="9.8" fill="#222">1.0</text>
<line x1="47.4" y1="376.00" x2="48.9" y2="376.00" stroke="#888" stroke-width="1"/>
<text x="46.9" y="379.30" text-anchor="end" font-family='"Liberation Sans", sans-serif' font-weight="bold" font-size="9.8" fill="#222">1.5</text>
<line x1="47.4" y1="353.40" x2="48.9" y2="353.40" stroke="#888" stroke-width="1"/>
<text x="46.9" y="356.70" text-anchor="end" font-family='"Liberation Sans", sans-serif' font-weight="bold" font-size="9.8" fill="#222">2.0</text>
<line x1="48.9" y1="398.60" x2="175.8" y2="398.60" stroke="#555" stroke-width="1"/>
<line x1="219.0" y1="352.90" x2="219.0" y2="444.10" stroke="#888" stroke-width="1.4"/>
<line x1="217.5" y1="443.80" x2="219.0" y2="443.80" stroke="#888" stroke-width="1"/>
<text x="217.0" y="447.10" text-anchor="end" font-family='"Liberation Sans", sans-serif' font-weight="bold" font-size="9.8" fill="#222">0.0</text>
<line x1="217.5" y1="421.20" x2="219.0" y2="421.20" stroke="#888" stroke-width="1"/>
<text x="217.0" y="424.50" text-anchor="end" font-family='"Liberation Sans", sans-serif' font-weight="bold" font-size="9.8" fill="#222">0.5</text>
<line x1="217.5" y1="398.60" x2="219.0" y2="398.60" stroke="#888" stroke-width="1"/>
<text x="217.0" y="401.90" text-anchor="end" font-family='"Liberation Sans", sans-serif' font-weight="bold" font-size="9.8" fill="#222">1.0</text>
<line x1="217.5" y1="376.00" x2="219.0" y2="376.00" stroke="#888" stroke-width="1"/>
<text x="217.0" y="379.30" text-anchor="end" font-family='"Liberation Sans", sans-serif' font-weight="bold" font-size="9.8" fill="#222">1.5</text>
<line x1="217.5" y1="353.40" x2="219.0" y2="353.40" stroke="#888" stroke-width="1"/>
<text x="217.0" y="356.70" text-anchor="end" font-family='"Liberation Sans", sans-serif' font-weight="bold" font-size="9.8" fill="#222">2.0</text>
<line x1="219.0" y1="398.60" x2="346.3" y2="398.60" stroke="#555" stroke-width="1"/>
<line x1="389.0" y1="352.90" x2="389.0" y2="444.10" stroke="#888" stroke-width="1.4"/>
<line x1="387.5" y1="443.80" x2="389.0" y2="443.80" stroke="#888" stroke-width="1"/>
<text x="387.0" y="447.10" text-anchor="end" font-family='"Liberation Sans", sans-serif' font-weight="bold" font-size="9.8" fill="#222">0.0</text>
<line x1="387.5" y1="421.20" x2="389.0" y2="421.20" stroke="#888" stroke-width="1"/>
<text x="387.0" y="424.50" text-anchor="end" font-family='"Liberation Sans", sans-serif' font-weight="bold" font-size="9.8" fill="#222">0.5</text>
<line x1="387.5" y1="398.60" x2="389.0" y2="398.60" stroke="#888" stroke-width="1"/>
<text x="387.0" y="401.90" text-anchor="end" font-family='"Liberation Sans", sans-serif' font-weight="bold" font-size="9.8" fill="#222">1.0</text>
<line x1="387.5" y1="376.00" x2="389.0" y2="376.00" stroke="#888" stroke-width="1"/>
<text x="387.0" y="379.30" text-anchor="end" font-family='"Liberation Sans", sans-serif' font-weight="bold" font-size="9.8" fill="#222">1.5</text>
<line x1="387.5" y1="353.40" x2="389.0" y2="353.40" stroke="#888" stroke-width="1"/>
<text x="387.0" y="356.70" text-anchor="end" font-family='"Liberation Sans", sans-serif' font-weight="bold" font-size="9.8" fill="#222">2.0</text>
<line x1="389.0" y1="398.60" x2="517.2" y2="398.60" stroke="#555" stroke-width="1"/>
<line x1="70.0" y1="391.4" x2="70.0" y2="393.6" stroke="#777" stroke-width="1"/>
<line x1="65.25" y1="391.4" x2="74.75" y2="391.4" stroke="#777" stroke-width="1"/>
<line x1="70.0" y1="407.6" x2="70.0" y2="410.1" stroke="#777" stroke-width="1"/>
<line x1="65.25" y1="410.1" x2="74.75" y2="410.1" stroke="#777" stroke-width="1"/>
<rect x="56.3" y="393.6" width="28.299999999999997" height="14.0" fill="#f0f0f0" stroke="#777" stroke-width="1.15"/>
<line x1="56.3" y1="401.3" x2="84.6" y2="401.3" stroke="#777" stroke-width="1.15"/>
<line x1="112.5" y1="390.8" x2="112.5" y2="398.6" stroke="#333" stroke-width="1"/>
<line x1="107.5" y1="390.8" x2="117.5" y2="390.8" stroke="#333" stroke-width="1"/>
<line x1="112.5" y1="410.8" x2="112.5" y2="413.6" stroke="#333" stroke-width="1"/>
<line x1="107.5" y1="413.6" x2="117.5" y2="413.6" stroke="#333" stroke-width="1"/>
<rect x="98.7" y="398.6" width="28.200000000000003" height="12.199999999999989" fill="#555555" stroke="#333" stroke-width="1.15"/>
<line x1="98.7" y1="403.5" x2="126.9" y2="403.5" stroke="#333" stroke-width="1.15"/>
<line x1="155.0" y1="388.5" x2="155.0" y2="391.4" stroke="#555" stroke-width="1"/>
<line x1="150.1" y1="388.5" x2="159.9" y2="388.5" stroke="#555" stroke-width="1"/>
<line x1="155.0" y1="408.3" x2="155.0" y2="415.6" stroke="#555" stroke-width="1"/>
<line x1="150.1" y1="415.6" x2="159.9" y2="415.6" stroke="#555" stroke-width="1"/>
<rect x="141.5" y="391.4" width="27.69999999999999" height="16.900000000000034" fill="#b0b0b0" stroke="#555" stroke-width="1.15"/>
<line x1="141.5" y1="391.6" x2="169.2" y2="391.6" stroke="#555" stroke-width="1.15"/>
<line x1="240.4" y1="409.4" x2="240.4" y2="411.9" stroke="#777" stroke-width="1"/>
<line x1="235.8" y1="411.9" x2="245.0" y2="411.9" stroke="#777" stroke-width="1"/>
<rect x="226.5" y="398.5" width="27.900000000000006" height="10.899999999999977" fill="#f0f0f0" stroke="#777" stroke-width="1.15"/>
<line x1="226.5" y1="405.1" x2="254.4" y2="405.1" stroke="#777" stroke-width="1.15"/>
<line x1="282.6" y1="405.8" x2="282.6" y2="407.5" stroke="#333" stroke-width="1"/>
<line x1="278.0" y1="407.5" x2="287.20000000000005" y2="407.5" stroke="#333" stroke-width="1"/>
<rect x="268.5" y="398.4" width="28.100000000000023" height="7.400000000000034" fill="#555555" stroke="#333" stroke-width="1.15"/>
<line x1="268.5" y1="402.3" x2="296.6" y2="402.3" stroke="#333" stroke-width="1.15"/>
<line x1="325.6" y1="373.6" x2="325.6" y2="383.4" stroke="#666" stroke-width="1"/>
<line x1="321.1" y1="373.6" x2="330.1" y2="373.6" stroke="#666" stroke-width="1"/>
<line x1="325.6" y1="404.3" x2="325.6" y2="416.1" stroke="#666" stroke-width="1"/>
<line x1="321.1" y1="416.1" x2="330.1" y2="416.1" stroke="#666" stroke-width="1"/>
<rect x="311.4" y="383.4" width="28.200000000000045" height="20.900000000000034" fill="#b0b0b0" stroke="#666" stroke-width="1.15"/>
<line x1="311.4" y1="390.8" x2="339.6" y2="390.8" stroke="#666" stroke-width="1.15"/>
<line x1="410.5" y1="398.5" x2="410.5" y2="403.3" stroke="#777" stroke-width="1"/>
<line x1="405.9" y1="398.5" x2="415.1" y2="398.5" stroke="#777" stroke-width="1"/>
<line x1="410.5" y1="408.3" x2="410.5" y2="412.4" stroke="#777" stroke-width="1"/>
<line x1="405.9" y1="412.4" x2="415.1" y2="412.4" stroke="#777" stroke-width="1"/>
<rect x="396.5" y="403.3" width="27.69999999999999" height="5.0" fill="#f0f0f0" stroke="#777" stroke-width="1.15"/>
<line x1="396.5" y1="403.6" x2="424.2" y2="403.6" stroke="#777" stroke-width="1.15"/>
<line x1="453.0" y1="403.3" x2="453.0" y2="407.3" stroke="#333" stroke-width="1"/>
<line x1="448.2" y1="403.3" x2="457.8" y2="403.3" stroke="#333" stroke-width="1"/>
<line x1="453.0" y1="410.8" x2="453.0" y2="411.9" stroke="#333" stroke-width="1"/>
<line x1="448.2" y1="411.9" x2="457.8" y2="411.9" stroke="#333" stroke-width="1"/>
<rect x="439.1" y="407.3" width="27.899999999999977" height="3.5" fill="#555555" stroke="#333" stroke-width="1.15"/>
<line x1="439.1" y1="408.5" x2="467.0" y2="408.5" stroke="#333" stroke-width="1.15"/>
<line x1="496.1" y1="370.0" x2="496.1" y2="378.9" stroke="#666" stroke-width="1"/>
<line x1="491.90000000000003" y1="370.0" x2="500.3" y2="370.0" stroke="#666" stroke-width="1"/>
<line x1="496.1" y1="405.0" x2="496.1" y2="416.8" stroke="#666" stroke-width="1"/>
<line x1="491.90000000000003" y1="416.8" x2="500.3" y2="416.8" stroke="#666" stroke-width="1"/>
<rect x="481.5" y="378.9" width="29.100000000000023" height="26.100000000000023" fill="#b0b0b0" stroke="#666" stroke-width="1.15"/>
<line x1="481.5" y1="387.7" x2="510.6" y2="387.7" stroke="#666" stroke-width="1.15"/>
<polygon points="112.40,357.70 113.05,359.31 114.78,359.43 113.45,360.54 113.87,362.22 112.40,361.30 110.93,362.22 111.35,360.54 110.02,359.43 111.75,359.31" fill="#111"/>
<polygon points="282.60,357.80 283.25,359.41 284.98,359.53 283.65,360.64 284.07,362.32 282.60,361.40 281.13,362.32 281.55,360.64 280.22,359.53 281.95,359.41" fill="#111"/>
<polygon points="325.60,357.80 326.25,359.41 327.98,359.53 326.65,360.64 327.07,362.32 325.60,361.40 324.13,362.32 324.55,360.64 323.22,359.53 324.95,359.41" fill="#111"/>
<polygon points="409.90,357.70 410.55,359.31 412.28,359.43 410.95,360.54 411.37,362.22 409.90,361.30 408.43,362.22 408.85,360.54 407.52,359.43 409.25,359.31" fill="#111"/>
<polygon points="450.50,357.70 451.15,359.31 452.88,359.43 451.55,360.54 451.97,362.22 450.50,361.30 449.03,362.22 449.45,360.54 448.12,359.43 449.85,359.31" fill="#111"/>
<polygon points="455.80,357.70 456.45,359.31 458.18,359.43 456.85,360.54 457.27,362.22 455.80,361.30 454.33,362.22 454.75,360.54 453.42,359.43 455.15,359.31" fill="#111"/>
<rect x="119.0" y="462.8" width="15.1" height="7.8" fill="#d0d0d0" stroke="#888" stroke-width="0.9"/>
<text x="136.6" y="470.2" font-family='"Liberation Sans", sans-serif' font-size="10.6" fill="#111">CD161<tspan dx="0.5" dy="-5.4" font-size="7.5">+</tspan><tspan dx="0.3" dy="5.4">CD56</tspan><tspan dx="0.8" dy="-5.4" font-size="7.5">-</tspan></text>
<rect x="235.0" y="462.8" width="15.0" height="7.8" fill="#555555" stroke="#333" stroke-width="0.9"/>
<text x="251.5" y="470.2" font-family='"Liberation Sans", sans-serif' font-size="10.6" fill="#111">CD161<tspan dx="0.5" dy="-5.4" font-size="7.5">+</tspan><tspan dx="0.3" dy="5.4">CD56</tspan><tspan dx="0.8" dy="-5.4" font-size="7.5">+</tspan></text>
<rect x="348.7" y="462.8" width="14.8" height="7.8" fill="#999999" stroke="#666" stroke-width="0.9"/>
<text x="365.0" y="470.2" font-family='"Liberation Sans", sans-serif' font-size="10.6" fill="#111">CD33<tspan dx="0.5" dy="-5.4" font-size="7.5">+</tspan><tspan dx="0.3" dy="5.4">CD14</tspan><tspan dx="0.8" dy="-5.4" font-size="7.5">+</tspan></text>
</svg></body></html>
